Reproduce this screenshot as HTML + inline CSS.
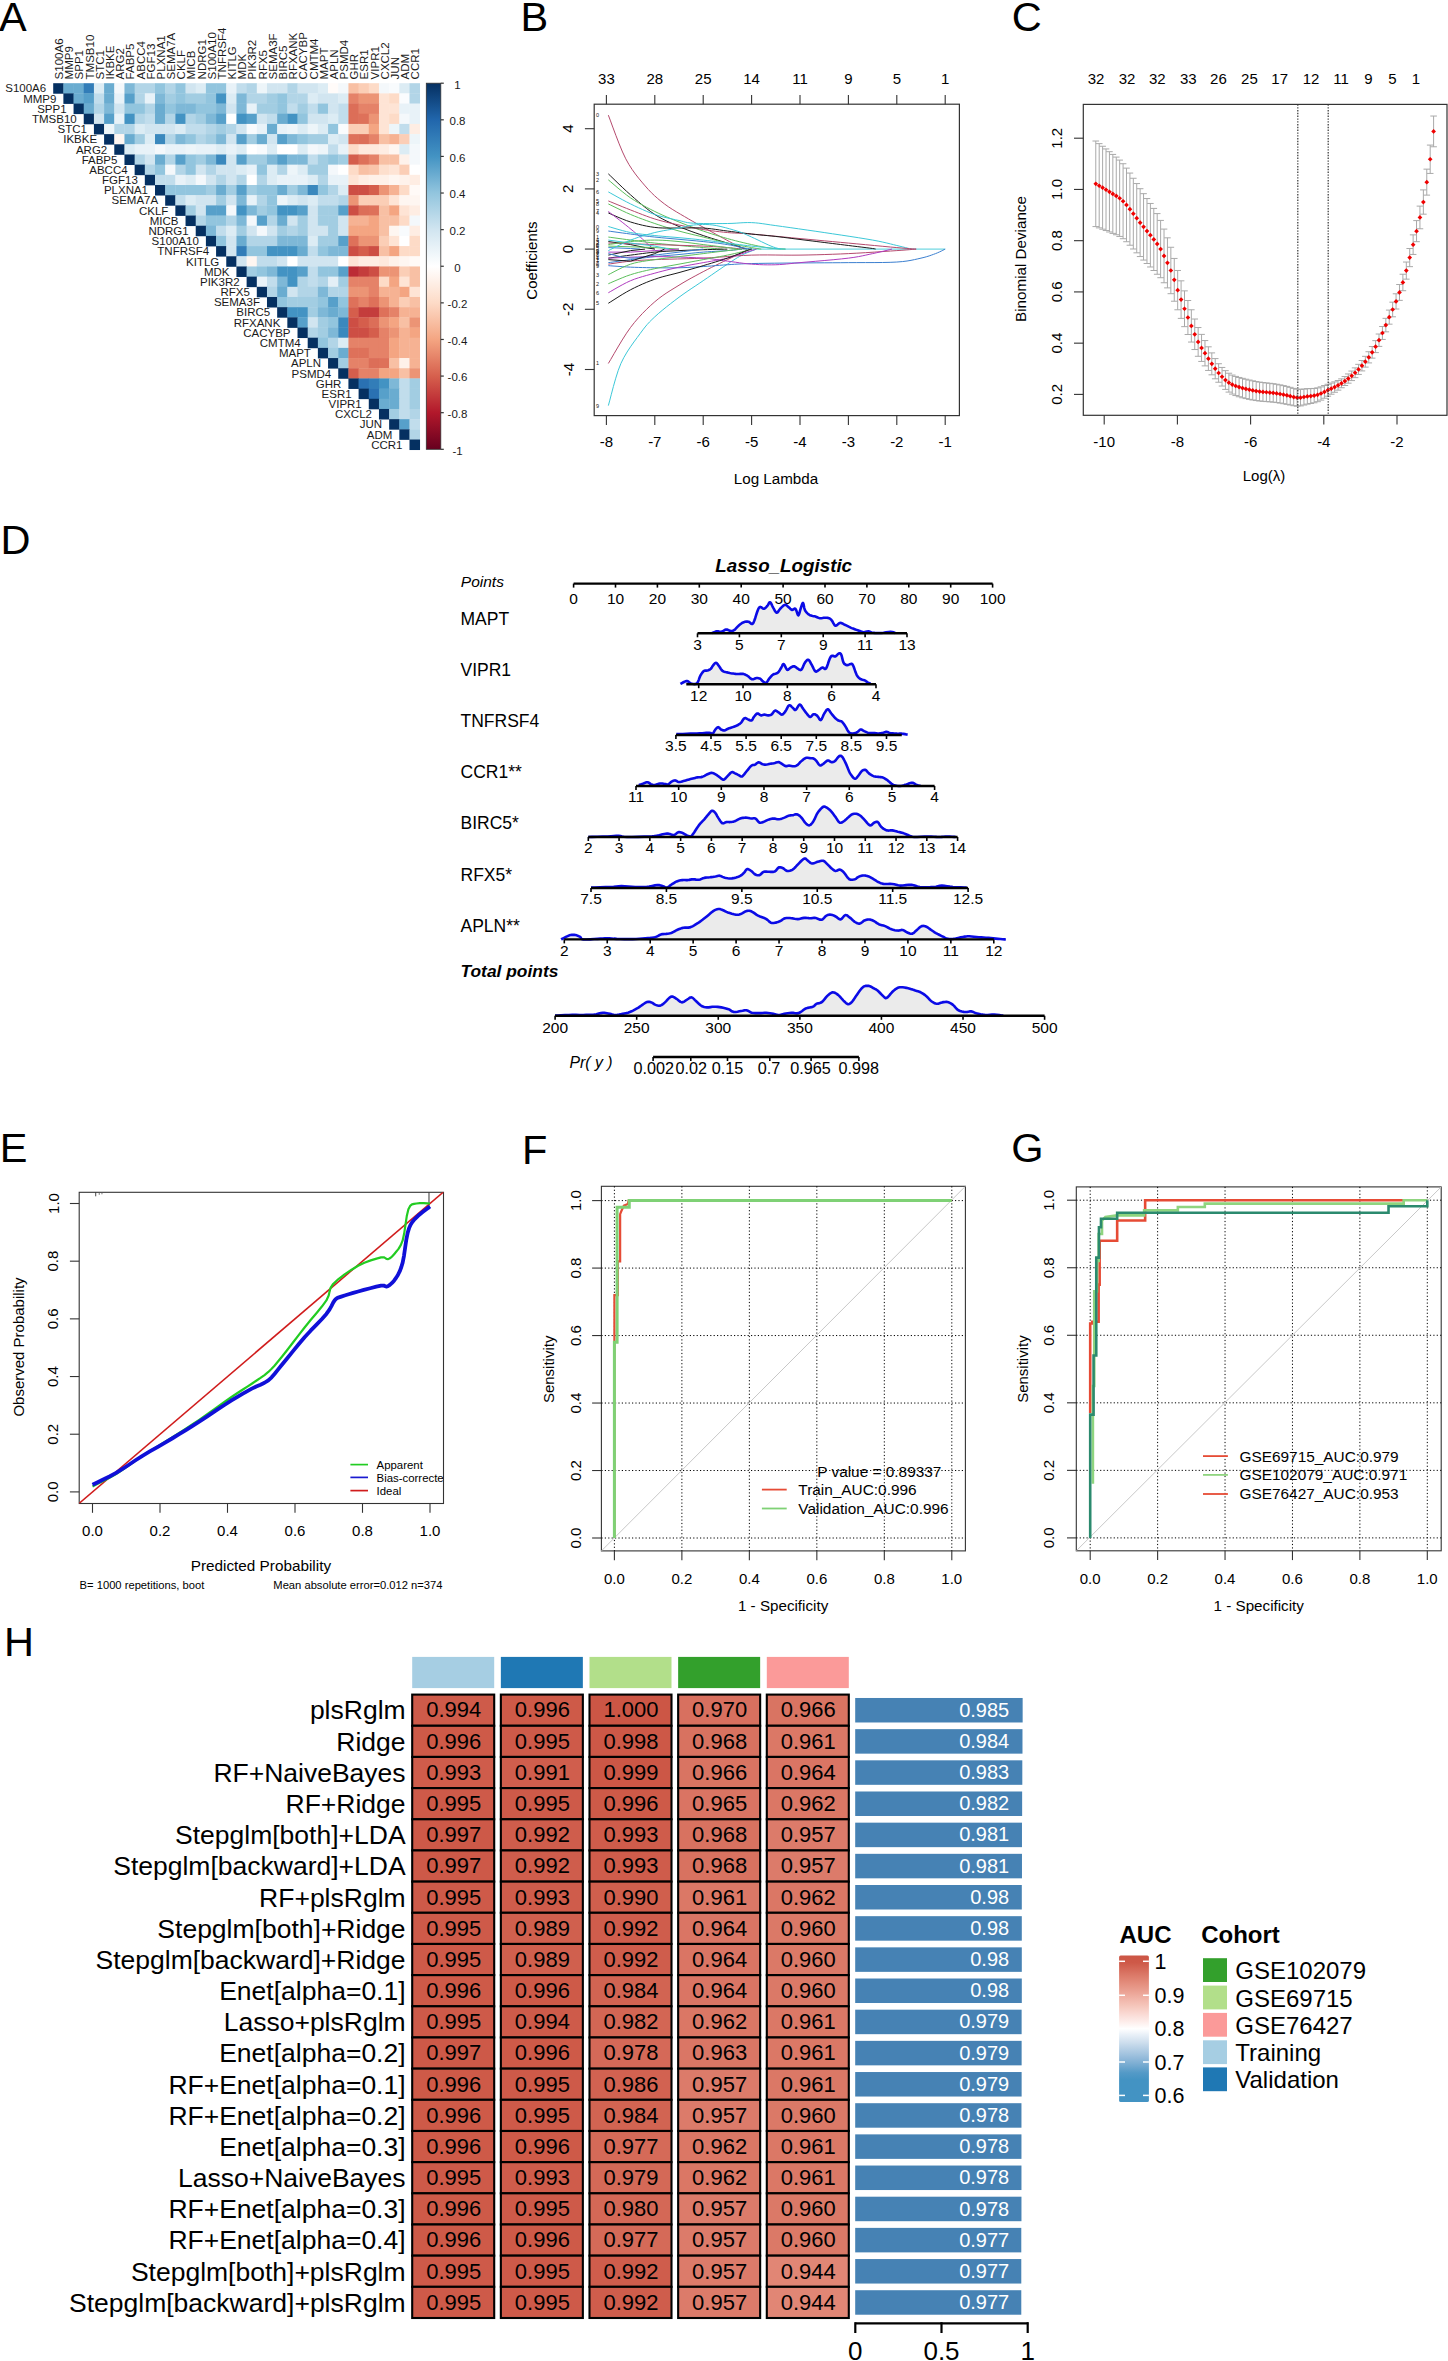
<!DOCTYPE html>
<html><head><meta charset="utf-8"><title>Figure</title>
<style>html,body{margin:0;padding:0;background:#fff;}svg{display:block;}</style></head>
<body><svg width="1448" height="2361" viewBox="0 0 1448 2361" font-family='"Liberation Sans", sans-serif'>
<rect x="0" y="0" width="1448" height="2361" fill="#fff"/>
<text x="-0.90" y="30.90" font-size="41.5">A</text>
<rect x="53.20" y="83.20" width="10.53" height="10.53" fill="#053061"/>
<rect x="63.38" y="83.20" width="10.53" height="10.53" fill="#6aacd0"/>
<rect x="73.56" y="83.20" width="10.53" height="10.53" fill="#6aacd0"/>
<rect x="83.74" y="83.20" width="10.53" height="10.53" fill="#327db8"/>
<rect x="93.92" y="83.20" width="10.53" height="10.53" fill="#dcecf4"/>
<rect x="104.10" y="83.20" width="10.53" height="10.53" fill="#6aacd0"/>
<rect x="114.28" y="83.20" width="10.53" height="10.53" fill="#f4f8fb"/>
<rect x="124.46" y="83.20" width="10.53" height="10.53" fill="#7eb8d7"/>
<rect x="134.64" y="83.20" width="10.53" height="10.53" fill="#b2d5e7"/>
<rect x="144.82" y="83.20" width="10.53" height="10.53" fill="#b2d5e7"/>
<rect x="155.00" y="83.20" width="10.53" height="10.53" fill="#92c5de"/>
<rect x="165.18" y="83.20" width="10.53" height="10.53" fill="#b2d5e7"/>
<rect x="175.36" y="83.20" width="10.53" height="10.53" fill="#92c5de"/>
<rect x="185.54" y="83.20" width="10.53" height="10.53" fill="#d1e5f0"/>
<rect x="195.72" y="83.20" width="10.53" height="10.53" fill="#dcecf4"/>
<rect x="205.90" y="83.20" width="10.53" height="10.53" fill="#92c5de"/>
<rect x="216.08" y="83.20" width="10.53" height="10.53" fill="#92c5de"/>
<rect x="226.26" y="83.20" width="10.53" height="10.53" fill="#e8f2f8"/>
<rect x="236.44" y="83.20" width="10.53" height="10.53" fill="#c1ddec"/>
<rect x="246.62" y="83.20" width="10.53" height="10.53" fill="#b2d5e7"/>
<rect x="256.80" y="83.20" width="10.53" height="10.53" fill="#edf5f9"/>
<rect x="266.98" y="83.20" width="10.53" height="10.53" fill="#d1e5f0"/>
<rect x="277.16" y="83.20" width="10.53" height="10.53" fill="#d1e5f0"/>
<rect x="287.34" y="83.20" width="10.53" height="10.53" fill="#b2d5e7"/>
<rect x="297.52" y="83.20" width="10.53" height="10.53" fill="#d1e5f0"/>
<rect x="307.70" y="83.20" width="10.53" height="10.53" fill="#d1e5f0"/>
<rect x="317.88" y="83.20" width="10.53" height="10.53" fill="#dcecf4"/>
<rect x="328.06" y="83.20" width="10.53" height="10.53" fill="#fffbf9"/>
<rect x="338.24" y="83.20" width="10.53" height="10.53" fill="#f4f8fb"/>
<rect x="348.42" y="83.20" width="10.53" height="10.53" fill="#f8c0a4"/>
<rect x="358.60" y="83.20" width="10.53" height="10.53" fill="#fbceb6"/>
<rect x="368.78" y="83.20" width="10.53" height="10.53" fill="#fddbc7"/>
<rect x="378.96" y="83.20" width="10.53" height="10.53" fill="#f4f8fb"/>
<rect x="389.14" y="83.20" width="10.53" height="10.53" fill="#f8fbfd"/>
<rect x="399.32" y="83.20" width="10.53" height="10.53" fill="#dcecf4"/>
<rect x="409.50" y="83.20" width="10.53" height="10.53" fill="#b2d5e7"/>
<rect x="63.38" y="93.38" width="10.53" height="10.53" fill="#053061"/>
<rect x="73.56" y="93.38" width="10.53" height="10.53" fill="#6aacd0"/>
<rect x="83.74" y="93.38" width="10.53" height="10.53" fill="#57a0ca"/>
<rect x="93.92" y="93.38" width="10.53" height="10.53" fill="#c1ddec"/>
<rect x="104.10" y="93.38" width="10.53" height="10.53" fill="#6aacd0"/>
<rect x="114.28" y="93.38" width="10.53" height="10.53" fill="#e8f2f8"/>
<rect x="124.46" y="93.38" width="10.53" height="10.53" fill="#57a0ca"/>
<rect x="134.64" y="93.38" width="10.53" height="10.53" fill="#b2d5e7"/>
<rect x="144.82" y="93.38" width="10.53" height="10.53" fill="#e8f2f8"/>
<rect x="155.00" y="93.38" width="10.53" height="10.53" fill="#7eb8d7"/>
<rect x="165.18" y="93.38" width="10.53" height="10.53" fill="#a2cde2"/>
<rect x="175.36" y="93.38" width="10.53" height="10.53" fill="#92c5de"/>
<rect x="185.54" y="93.38" width="10.53" height="10.53" fill="#a2cde2"/>
<rect x="195.72" y="93.38" width="10.53" height="10.53" fill="#a2cde2"/>
<rect x="205.90" y="93.38" width="10.53" height="10.53" fill="#92c5de"/>
<rect x="216.08" y="93.38" width="10.53" height="10.53" fill="#4393c3"/>
<rect x="226.26" y="93.38" width="10.53" height="10.53" fill="#dcecf4"/>
<rect x="236.44" y="93.38" width="10.53" height="10.53" fill="#7eb8d7"/>
<rect x="246.62" y="93.38" width="10.53" height="10.53" fill="#b2d5e7"/>
<rect x="256.80" y="93.38" width="10.53" height="10.53" fill="#b2d5e7"/>
<rect x="266.98" y="93.38" width="10.53" height="10.53" fill="#a2cde2"/>
<rect x="277.16" y="93.38" width="10.53" height="10.53" fill="#92c5de"/>
<rect x="287.34" y="93.38" width="10.53" height="10.53" fill="#b2d5e7"/>
<rect x="297.52" y="93.38" width="10.53" height="10.53" fill="#b2d5e7"/>
<rect x="307.70" y="93.38" width="10.53" height="10.53" fill="#dcecf4"/>
<rect x="317.88" y="93.38" width="10.53" height="10.53" fill="#d1e5f0"/>
<rect x="328.06" y="93.38" width="10.53" height="10.53" fill="#d1e5f0"/>
<rect x="338.24" y="93.38" width="10.53" height="10.53" fill="#dcecf4"/>
<rect x="348.42" y="93.38" width="10.53" height="10.53" fill="#e58268"/>
<rect x="358.60" y="93.38" width="10.53" height="10.53" fill="#ec9475"/>
<rect x="368.78" y="93.38" width="10.53" height="10.53" fill="#ec9475"/>
<rect x="378.96" y="93.38" width="10.53" height="10.53" fill="#fee4d5"/>
<rect x="389.14" y="93.38" width="10.53" height="10.53" fill="#fddbc7"/>
<rect x="399.32" y="93.38" width="10.53" height="10.53" fill="#fafcfe"/>
<rect x="409.50" y="93.38" width="10.53" height="10.53" fill="#b2d5e7"/>
<rect x="73.56" y="103.56" width="10.53" height="10.53" fill="#053061"/>
<rect x="83.74" y="103.56" width="10.53" height="10.53" fill="#6aacd0"/>
<rect x="93.92" y="103.56" width="10.53" height="10.53" fill="#b2d5e7"/>
<rect x="104.10" y="103.56" width="10.53" height="10.53" fill="#7eb8d7"/>
<rect x="114.28" y="103.56" width="10.53" height="10.53" fill="#d1e5f0"/>
<rect x="124.46" y="103.56" width="10.53" height="10.53" fill="#92c5de"/>
<rect x="134.64" y="103.56" width="10.53" height="10.53" fill="#92c5de"/>
<rect x="144.82" y="103.56" width="10.53" height="10.53" fill="#b2d5e7"/>
<rect x="155.00" y="103.56" width="10.53" height="10.53" fill="#6aacd0"/>
<rect x="165.18" y="103.56" width="10.53" height="10.53" fill="#92c5de"/>
<rect x="175.36" y="103.56" width="10.53" height="10.53" fill="#7eb8d7"/>
<rect x="185.54" y="103.56" width="10.53" height="10.53" fill="#7eb8d7"/>
<rect x="195.72" y="103.56" width="10.53" height="10.53" fill="#92c5de"/>
<rect x="205.90" y="103.56" width="10.53" height="10.53" fill="#92c5de"/>
<rect x="216.08" y="103.56" width="10.53" height="10.53" fill="#7eb8d7"/>
<rect x="226.26" y="103.56" width="10.53" height="10.53" fill="#d1e5f0"/>
<rect x="236.44" y="103.56" width="10.53" height="10.53" fill="#7eb8d7"/>
<rect x="246.62" y="103.56" width="10.53" height="10.53" fill="#e8f2f8"/>
<rect x="256.80" y="103.56" width="10.53" height="10.53" fill="#a2cde2"/>
<rect x="266.98" y="103.56" width="10.53" height="10.53" fill="#a2cde2"/>
<rect x="277.16" y="103.56" width="10.53" height="10.53" fill="#92c5de"/>
<rect x="287.34" y="103.56" width="10.53" height="10.53" fill="#c1ddec"/>
<rect x="297.52" y="103.56" width="10.53" height="10.53" fill="#a2cde2"/>
<rect x="307.70" y="103.56" width="10.53" height="10.53" fill="#c1ddec"/>
<rect x="317.88" y="103.56" width="10.53" height="10.53" fill="#92c5de"/>
<rect x="328.06" y="103.56" width="10.53" height="10.53" fill="#d1e5f0"/>
<rect x="338.24" y="103.56" width="10.53" height="10.53" fill="#c1ddec"/>
<rect x="348.42" y="103.56" width="10.53" height="10.53" fill="#dc6e58"/>
<rect x="358.60" y="103.56" width="10.53" height="10.53" fill="#e58268"/>
<rect x="368.78" y="103.56" width="10.53" height="10.53" fill="#e58268"/>
<rect x="378.96" y="103.56" width="10.53" height="10.53" fill="#fee4d5"/>
<rect x="389.14" y="103.56" width="10.53" height="10.53" fill="#fee4d5"/>
<rect x="399.32" y="103.56" width="10.53" height="10.53" fill="#e8f2f8"/>
<rect x="409.50" y="103.56" width="10.53" height="10.53" fill="#e8f2f8"/>
<rect x="83.74" y="113.74" width="10.53" height="10.53" fill="#053061"/>
<rect x="93.92" y="113.74" width="10.53" height="10.53" fill="#d1e5f0"/>
<rect x="104.10" y="113.74" width="10.53" height="10.53" fill="#57a0ca"/>
<rect x="114.28" y="113.74" width="10.53" height="10.53" fill="#e8f2f8"/>
<rect x="124.46" y="113.74" width="10.53" height="10.53" fill="#4393c3"/>
<rect x="134.64" y="113.74" width="10.53" height="10.53" fill="#b2d5e7"/>
<rect x="144.82" y="113.74" width="10.53" height="10.53" fill="#c1ddec"/>
<rect x="155.00" y="113.74" width="10.53" height="10.53" fill="#6aacd0"/>
<rect x="165.18" y="113.74" width="10.53" height="10.53" fill="#b2d5e7"/>
<rect x="175.36" y="113.74" width="10.53" height="10.53" fill="#4393c3"/>
<rect x="185.54" y="113.74" width="10.53" height="10.53" fill="#b2d5e7"/>
<rect x="195.72" y="113.74" width="10.53" height="10.53" fill="#a2cde2"/>
<rect x="205.90" y="113.74" width="10.53" height="10.53" fill="#7eb8d7"/>
<rect x="216.08" y="113.74" width="10.53" height="10.53" fill="#57a0ca"/>
<rect x="226.26" y="113.74" width="10.53" height="10.53" fill="#ffffff"/>
<rect x="236.44" y="113.74" width="10.53" height="10.53" fill="#4393c3"/>
<rect x="246.62" y="113.74" width="10.53" height="10.53" fill="#57a0ca"/>
<rect x="256.80" y="113.74" width="10.53" height="10.53" fill="#d1e5f0"/>
<rect x="266.98" y="113.74" width="10.53" height="10.53" fill="#c1ddec"/>
<rect x="277.16" y="113.74" width="10.53" height="10.53" fill="#6aacd0"/>
<rect x="287.34" y="113.74" width="10.53" height="10.53" fill="#4393c3"/>
<rect x="297.52" y="113.74" width="10.53" height="10.53" fill="#92c5de"/>
<rect x="307.70" y="113.74" width="10.53" height="10.53" fill="#d1e5f0"/>
<rect x="317.88" y="113.74" width="10.53" height="10.53" fill="#d1e5f0"/>
<rect x="328.06" y="113.74" width="10.53" height="10.53" fill="#dcecf4"/>
<rect x="338.24" y="113.74" width="10.53" height="10.53" fill="#c1ddec"/>
<rect x="348.42" y="113.74" width="10.53" height="10.53" fill="#dc6e58"/>
<rect x="358.60" y="113.74" width="10.53" height="10.53" fill="#de715a"/>
<rect x="368.78" y="113.74" width="10.53" height="10.53" fill="#ec9475"/>
<rect x="378.96" y="113.74" width="10.53" height="10.53" fill="#fee4d5"/>
<rect x="389.14" y="113.74" width="10.53" height="10.53" fill="#fddbc7"/>
<rect x="399.32" y="113.74" width="10.53" height="10.53" fill="#f4f8fb"/>
<rect x="409.50" y="113.74" width="10.53" height="10.53" fill="#e8f2f8"/>
<rect x="93.92" y="123.92" width="10.53" height="10.53" fill="#053061"/>
<rect x="104.10" y="123.92" width="10.53" height="10.53" fill="#edf5f9"/>
<rect x="114.28" y="123.92" width="10.53" height="10.53" fill="#b2d5e7"/>
<rect x="124.46" y="123.92" width="10.53" height="10.53" fill="#b2d5e7"/>
<rect x="134.64" y="123.92" width="10.53" height="10.53" fill="#dcecf4"/>
<rect x="144.82" y="123.92" width="10.53" height="10.53" fill="#d1e5f0"/>
<rect x="155.00" y="123.92" width="10.53" height="10.53" fill="#d1e5f0"/>
<rect x="165.18" y="123.92" width="10.53" height="10.53" fill="#d1e5f0"/>
<rect x="175.36" y="123.92" width="10.53" height="10.53" fill="#dcecf4"/>
<rect x="185.54" y="123.92" width="10.53" height="10.53" fill="#c1ddec"/>
<rect x="195.72" y="123.92" width="10.53" height="10.53" fill="#c1ddec"/>
<rect x="205.90" y="123.92" width="10.53" height="10.53" fill="#b2d5e7"/>
<rect x="216.08" y="123.92" width="10.53" height="10.53" fill="#a2cde2"/>
<rect x="226.26" y="123.92" width="10.53" height="10.53" fill="#b2d5e7"/>
<rect x="236.44" y="123.92" width="10.53" height="10.53" fill="#d1e5f0"/>
<rect x="246.62" y="123.92" width="10.53" height="10.53" fill="#f8fbfd"/>
<rect x="256.80" y="123.92" width="10.53" height="10.53" fill="#e8f2f8"/>
<rect x="266.98" y="123.92" width="10.53" height="10.53" fill="#6aacd0"/>
<rect x="277.16" y="123.92" width="10.53" height="10.53" fill="#e8f2f8"/>
<rect x="287.34" y="123.92" width="10.53" height="10.53" fill="#edf5f9"/>
<rect x="297.52" y="123.92" width="10.53" height="10.53" fill="#dcecf4"/>
<rect x="307.70" y="123.92" width="10.53" height="10.53" fill="#edf5f9"/>
<rect x="317.88" y="123.92" width="10.53" height="10.53" fill="#dcecf4"/>
<rect x="328.06" y="123.92" width="10.53" height="10.53" fill="#92c5de"/>
<rect x="338.24" y="123.92" width="10.53" height="10.53" fill="#fafcfe"/>
<rect x="348.42" y="123.92" width="10.53" height="10.53" fill="#fbceb6"/>
<rect x="358.60" y="123.92" width="10.53" height="10.53" fill="#fbceb6"/>
<rect x="368.78" y="123.92" width="10.53" height="10.53" fill="#f4a582"/>
<rect x="378.96" y="123.92" width="10.53" height="10.53" fill="#fee4d5"/>
<rect x="389.14" y="123.92" width="10.53" height="10.53" fill="#edf5f9"/>
<rect x="399.32" y="123.92" width="10.53" height="10.53" fill="#c1ddec"/>
<rect x="409.50" y="123.92" width="10.53" height="10.53" fill="#feede3"/>
<rect x="104.10" y="134.10" width="10.53" height="10.53" fill="#053061"/>
<rect x="114.28" y="134.10" width="10.53" height="10.53" fill="#fef6f1"/>
<rect x="124.46" y="134.10" width="10.53" height="10.53" fill="#6aacd0"/>
<rect x="134.64" y="134.10" width="10.53" height="10.53" fill="#a2cde2"/>
<rect x="144.82" y="134.10" width="10.53" height="10.53" fill="#dcecf4"/>
<rect x="155.00" y="134.10" width="10.53" height="10.53" fill="#3a88bd"/>
<rect x="165.18" y="134.10" width="10.53" height="10.53" fill="#b2d5e7"/>
<rect x="175.36" y="134.10" width="10.53" height="10.53" fill="#7eb8d7"/>
<rect x="185.54" y="134.10" width="10.53" height="10.53" fill="#92c5de"/>
<rect x="195.72" y="134.10" width="10.53" height="10.53" fill="#b2d5e7"/>
<rect x="205.90" y="134.10" width="10.53" height="10.53" fill="#a2cde2"/>
<rect x="216.08" y="134.10" width="10.53" height="10.53" fill="#7eb8d7"/>
<rect x="226.26" y="134.10" width="10.53" height="10.53" fill="#d1e5f0"/>
<rect x="236.44" y="134.10" width="10.53" height="10.53" fill="#57a0ca"/>
<rect x="246.62" y="134.10" width="10.53" height="10.53" fill="#a2cde2"/>
<rect x="256.80" y="134.10" width="10.53" height="10.53" fill="#6aacd0"/>
<rect x="266.98" y="134.10" width="10.53" height="10.53" fill="#d1e5f0"/>
<rect x="277.16" y="134.10" width="10.53" height="10.53" fill="#57a0ca"/>
<rect x="287.34" y="134.10" width="10.53" height="10.53" fill="#7eb8d7"/>
<rect x="297.52" y="134.10" width="10.53" height="10.53" fill="#92c5de"/>
<rect x="307.70" y="134.10" width="10.53" height="10.53" fill="#a2cde2"/>
<rect x="317.88" y="134.10" width="10.53" height="10.53" fill="#a2cde2"/>
<rect x="328.06" y="134.10" width="10.53" height="10.53" fill="#dcecf4"/>
<rect x="338.24" y="134.10" width="10.53" height="10.53" fill="#d1e5f0"/>
<rect x="348.42" y="134.10" width="10.53" height="10.53" fill="#de715a"/>
<rect x="358.60" y="134.10" width="10.53" height="10.53" fill="#dc6e58"/>
<rect x="368.78" y="134.10" width="10.53" height="10.53" fill="#e58268"/>
<rect x="378.96" y="134.10" width="10.53" height="10.53" fill="#f8c0a4"/>
<rect x="389.14" y="134.10" width="10.53" height="10.53" fill="#f6b293"/>
<rect x="399.32" y="134.10" width="10.53" height="10.53" fill="#fbceb6"/>
<rect x="409.50" y="134.10" width="10.53" height="10.53" fill="#edf5f9"/>
<rect x="114.28" y="144.28" width="10.53" height="10.53" fill="#053061"/>
<rect x="124.46" y="144.28" width="10.53" height="10.53" fill="#dcecf4"/>
<rect x="134.64" y="144.28" width="10.53" height="10.53" fill="#e8f2f8"/>
<rect x="144.82" y="144.28" width="10.53" height="10.53" fill="#e8f2f8"/>
<rect x="155.00" y="144.28" width="10.53" height="10.53" fill="#f4f8fb"/>
<rect x="165.18" y="144.28" width="10.53" height="10.53" fill="#e8f2f8"/>
<rect x="175.36" y="144.28" width="10.53" height="10.53" fill="#e8f2f8"/>
<rect x="185.54" y="144.28" width="10.53" height="10.53" fill="#edf5f9"/>
<rect x="195.72" y="144.28" width="10.53" height="10.53" fill="#e8f2f8"/>
<rect x="205.90" y="144.28" width="10.53" height="10.53" fill="#e8f2f8"/>
<rect x="216.08" y="144.28" width="10.53" height="10.53" fill="#dcecf4"/>
<rect x="226.26" y="144.28" width="10.53" height="10.53" fill="#e8f2f8"/>
<rect x="236.44" y="144.28" width="10.53" height="10.53" fill="#dcecf4"/>
<rect x="246.62" y="144.28" width="10.53" height="10.53" fill="#ffffff"/>
<rect x="256.80" y="144.28" width="10.53" height="10.53" fill="#f8fbfd"/>
<rect x="266.98" y="144.28" width="10.53" height="10.53" fill="#dcecf4"/>
<rect x="277.16" y="144.28" width="10.53" height="10.53" fill="#ffffff"/>
<rect x="287.34" y="144.28" width="10.53" height="10.53" fill="#ffffff"/>
<rect x="297.52" y="144.28" width="10.53" height="10.53" fill="#dcecf4"/>
<rect x="307.70" y="144.28" width="10.53" height="10.53" fill="#f4f8fb"/>
<rect x="317.88" y="144.28" width="10.53" height="10.53" fill="#edf5f9"/>
<rect x="328.06" y="144.28" width="10.53" height="10.53" fill="#c1ddec"/>
<rect x="338.24" y="144.28" width="10.53" height="10.53" fill="#e8f2f8"/>
<rect x="348.42" y="144.28" width="10.53" height="10.53" fill="#fddbc7"/>
<rect x="358.60" y="144.28" width="10.53" height="10.53" fill="#fee9dd"/>
<rect x="368.78" y="144.28" width="10.53" height="10.53" fill="#fee9dd"/>
<rect x="378.96" y="144.28" width="10.53" height="10.53" fill="#feede3"/>
<rect x="389.14" y="144.28" width="10.53" height="10.53" fill="#fef6f1"/>
<rect x="399.32" y="144.28" width="10.53" height="10.53" fill="#dcecf4"/>
<rect x="409.50" y="144.28" width="10.53" height="10.53" fill="#f4f8fb"/>
<rect x="124.46" y="154.46" width="10.53" height="10.53" fill="#053061"/>
<rect x="134.64" y="154.46" width="10.53" height="10.53" fill="#b2d5e7"/>
<rect x="144.82" y="154.46" width="10.53" height="10.53" fill="#d1e5f0"/>
<rect x="155.00" y="154.46" width="10.53" height="10.53" fill="#6aacd0"/>
<rect x="165.18" y="154.46" width="10.53" height="10.53" fill="#b2d5e7"/>
<rect x="175.36" y="154.46" width="10.53" height="10.53" fill="#57a0ca"/>
<rect x="185.54" y="154.46" width="10.53" height="10.53" fill="#92c5de"/>
<rect x="195.72" y="154.46" width="10.53" height="10.53" fill="#a2cde2"/>
<rect x="205.90" y="154.46" width="10.53" height="10.53" fill="#7eb8d7"/>
<rect x="216.08" y="154.46" width="10.53" height="10.53" fill="#3a88bd"/>
<rect x="226.26" y="154.46" width="10.53" height="10.53" fill="#d1e5f0"/>
<rect x="236.44" y="154.46" width="10.53" height="10.53" fill="#57a0ca"/>
<rect x="246.62" y="154.46" width="10.53" height="10.53" fill="#a2cde2"/>
<rect x="256.80" y="154.46" width="10.53" height="10.53" fill="#a2cde2"/>
<rect x="266.98" y="154.46" width="10.53" height="10.53" fill="#7eb8d7"/>
<rect x="277.16" y="154.46" width="10.53" height="10.53" fill="#57a0ca"/>
<rect x="287.34" y="154.46" width="10.53" height="10.53" fill="#7eb8d7"/>
<rect x="297.52" y="154.46" width="10.53" height="10.53" fill="#7eb8d7"/>
<rect x="307.70" y="154.46" width="10.53" height="10.53" fill="#c1ddec"/>
<rect x="317.88" y="154.46" width="10.53" height="10.53" fill="#a2cde2"/>
<rect x="328.06" y="154.46" width="10.53" height="10.53" fill="#92c5de"/>
<rect x="338.24" y="154.46" width="10.53" height="10.53" fill="#a2cde2"/>
<rect x="348.42" y="154.46" width="10.53" height="10.53" fill="#d55e4c"/>
<rect x="358.60" y="154.46" width="10.53" height="10.53" fill="#de715a"/>
<rect x="368.78" y="154.46" width="10.53" height="10.53" fill="#e58268"/>
<rect x="378.96" y="154.46" width="10.53" height="10.53" fill="#f8c0a4"/>
<rect x="389.14" y="154.46" width="10.53" height="10.53" fill="#f8c0a4"/>
<rect x="399.32" y="154.46" width="10.53" height="10.53" fill="#fef2eb"/>
<rect x="409.50" y="154.46" width="10.53" height="10.53" fill="#f4f8fb"/>
<rect x="134.64" y="164.64" width="10.53" height="10.53" fill="#053061"/>
<rect x="144.82" y="164.64" width="10.53" height="10.53" fill="#b2d5e7"/>
<rect x="155.00" y="164.64" width="10.53" height="10.53" fill="#92c5de"/>
<rect x="165.18" y="164.64" width="10.53" height="10.53" fill="#f4f8fb"/>
<rect x="175.36" y="164.64" width="10.53" height="10.53" fill="#b2d5e7"/>
<rect x="185.54" y="164.64" width="10.53" height="10.53" fill="#92c5de"/>
<rect x="195.72" y="164.64" width="10.53" height="10.53" fill="#d1e5f0"/>
<rect x="205.90" y="164.64" width="10.53" height="10.53" fill="#b2d5e7"/>
<rect x="216.08" y="164.64" width="10.53" height="10.53" fill="#d1e5f0"/>
<rect x="226.26" y="164.64" width="10.53" height="10.53" fill="#d1e5f0"/>
<rect x="236.44" y="164.64" width="10.53" height="10.53" fill="#dcecf4"/>
<rect x="246.62" y="164.64" width="10.53" height="10.53" fill="#e8f2f8"/>
<rect x="256.80" y="164.64" width="10.53" height="10.53" fill="#92c5de"/>
<rect x="266.98" y="164.64" width="10.53" height="10.53" fill="#dcecf4"/>
<rect x="277.16" y="164.64" width="10.53" height="10.53" fill="#b2d5e7"/>
<rect x="287.34" y="164.64" width="10.53" height="10.53" fill="#edf5f9"/>
<rect x="297.52" y="164.64" width="10.53" height="10.53" fill="#dcecf4"/>
<rect x="307.70" y="164.64" width="10.53" height="10.53" fill="#a2cde2"/>
<rect x="317.88" y="164.64" width="10.53" height="10.53" fill="#a2cde2"/>
<rect x="328.06" y="164.64" width="10.53" height="10.53" fill="#f4f8fb"/>
<rect x="338.24" y="164.64" width="10.53" height="10.53" fill="#ffffff"/>
<rect x="348.42" y="164.64" width="10.53" height="10.53" fill="#fddbc7"/>
<rect x="358.60" y="164.64" width="10.53" height="10.53" fill="#f8c0a4"/>
<rect x="368.78" y="164.64" width="10.53" height="10.53" fill="#f9c5ab"/>
<rect x="378.96" y="164.64" width="10.53" height="10.53" fill="#fddfcd"/>
<rect x="389.14" y="164.64" width="10.53" height="10.53" fill="#fee4d5"/>
<rect x="399.32" y="164.64" width="10.53" height="10.53" fill="#fbceb6"/>
<rect x="409.50" y="164.64" width="10.53" height="10.53" fill="#ffffff"/>
<rect x="144.82" y="174.82" width="10.53" height="10.53" fill="#053061"/>
<rect x="155.00" y="174.82" width="10.53" height="10.53" fill="#c1ddec"/>
<rect x="165.18" y="174.82" width="10.53" height="10.53" fill="#c1ddec"/>
<rect x="175.36" y="174.82" width="10.53" height="10.53" fill="#e8f2f8"/>
<rect x="185.54" y="174.82" width="10.53" height="10.53" fill="#dcecf4"/>
<rect x="195.72" y="174.82" width="10.53" height="10.53" fill="#f4f8fb"/>
<rect x="205.90" y="174.82" width="10.53" height="10.53" fill="#d1e5f0"/>
<rect x="216.08" y="174.82" width="10.53" height="10.53" fill="#b2d5e7"/>
<rect x="226.26" y="174.82" width="10.53" height="10.53" fill="#d1e5f0"/>
<rect x="236.44" y="174.82" width="10.53" height="10.53" fill="#b2d5e7"/>
<rect x="246.62" y="174.82" width="10.53" height="10.53" fill="#ffffff"/>
<rect x="256.80" y="174.82" width="10.53" height="10.53" fill="#b2d5e7"/>
<rect x="266.98" y="174.82" width="10.53" height="10.53" fill="#dcecf4"/>
<rect x="277.16" y="174.82" width="10.53" height="10.53" fill="#e8f2f8"/>
<rect x="287.34" y="174.82" width="10.53" height="10.53" fill="#e8f2f8"/>
<rect x="297.52" y="174.82" width="10.53" height="10.53" fill="#e8f2f8"/>
<rect x="307.70" y="174.82" width="10.53" height="10.53" fill="#dcecf4"/>
<rect x="317.88" y="174.82" width="10.53" height="10.53" fill="#b2d5e7"/>
<rect x="328.06" y="174.82" width="10.53" height="10.53" fill="#e8f2f8"/>
<rect x="338.24" y="174.82" width="10.53" height="10.53" fill="#e8f2f8"/>
<rect x="348.42" y="174.82" width="10.53" height="10.53" fill="#fee4d5"/>
<rect x="358.60" y="174.82" width="10.53" height="10.53" fill="#feede3"/>
<rect x="368.78" y="174.82" width="10.53" height="10.53" fill="#fef1e9"/>
<rect x="378.96" y="174.82" width="10.53" height="10.53" fill="#fef1e9"/>
<rect x="389.14" y="174.82" width="10.53" height="10.53" fill="#fef6f1"/>
<rect x="399.32" y="174.82" width="10.53" height="10.53" fill="#fef2eb"/>
<rect x="409.50" y="174.82" width="10.53" height="10.53" fill="#feede3"/>
<rect x="155.00" y="185.00" width="10.53" height="10.53" fill="#053061"/>
<rect x="165.18" y="185.00" width="10.53" height="10.53" fill="#92c5de"/>
<rect x="175.36" y="185.00" width="10.53" height="10.53" fill="#92c5de"/>
<rect x="185.54" y="185.00" width="10.53" height="10.53" fill="#92c5de"/>
<rect x="195.72" y="185.00" width="10.53" height="10.53" fill="#92c5de"/>
<rect x="205.90" y="185.00" width="10.53" height="10.53" fill="#a2cde2"/>
<rect x="216.08" y="185.00" width="10.53" height="10.53" fill="#6aacd0"/>
<rect x="226.26" y="185.00" width="10.53" height="10.53" fill="#a2cde2"/>
<rect x="236.44" y="185.00" width="10.53" height="10.53" fill="#57a0ca"/>
<rect x="246.62" y="185.00" width="10.53" height="10.53" fill="#a2cde2"/>
<rect x="256.80" y="185.00" width="10.53" height="10.53" fill="#92c5de"/>
<rect x="266.98" y="185.00" width="10.53" height="10.53" fill="#92c5de"/>
<rect x="277.16" y="185.00" width="10.53" height="10.53" fill="#6aacd0"/>
<rect x="287.34" y="185.00" width="10.53" height="10.53" fill="#a2cde2"/>
<rect x="297.52" y="185.00" width="10.53" height="10.53" fill="#7eb8d7"/>
<rect x="307.70" y="185.00" width="10.53" height="10.53" fill="#3a88bd"/>
<rect x="317.88" y="185.00" width="10.53" height="10.53" fill="#92c5de"/>
<rect x="328.06" y="185.00" width="10.53" height="10.53" fill="#b2d5e7"/>
<rect x="338.24" y="185.00" width="10.53" height="10.53" fill="#dcecf4"/>
<rect x="348.42" y="185.00" width="10.53" height="10.53" fill="#cd4e44"/>
<rect x="358.60" y="185.00" width="10.53" height="10.53" fill="#cd4e44"/>
<rect x="368.78" y="185.00" width="10.53" height="10.53" fill="#d55e4c"/>
<rect x="378.96" y="185.00" width="10.53" height="10.53" fill="#ec9475"/>
<rect x="389.14" y="185.00" width="10.53" height="10.53" fill="#f6b293"/>
<rect x="399.32" y="185.00" width="10.53" height="10.53" fill="#fddbc7"/>
<rect x="409.50" y="185.00" width="10.53" height="10.53" fill="#fffaf7"/>
<rect x="165.18" y="195.18" width="10.53" height="10.53" fill="#053061"/>
<rect x="175.36" y="195.18" width="10.53" height="10.53" fill="#c1ddec"/>
<rect x="185.54" y="195.18" width="10.53" height="10.53" fill="#dcecf4"/>
<rect x="195.72" y="195.18" width="10.53" height="10.53" fill="#d1e5f0"/>
<rect x="205.90" y="195.18" width="10.53" height="10.53" fill="#d1e5f0"/>
<rect x="216.08" y="195.18" width="10.53" height="10.53" fill="#a2cde2"/>
<rect x="226.26" y="195.18" width="10.53" height="10.53" fill="#d1e5f0"/>
<rect x="236.44" y="195.18" width="10.53" height="10.53" fill="#7eb8d7"/>
<rect x="246.62" y="195.18" width="10.53" height="10.53" fill="#e8f2f8"/>
<rect x="256.80" y="195.18" width="10.53" height="10.53" fill="#b2d5e7"/>
<rect x="266.98" y="195.18" width="10.53" height="10.53" fill="#92c5de"/>
<rect x="277.16" y="195.18" width="10.53" height="10.53" fill="#edf5f9"/>
<rect x="287.34" y="195.18" width="10.53" height="10.53" fill="#dcecf4"/>
<rect x="297.52" y="195.18" width="10.53" height="10.53" fill="#d1e5f0"/>
<rect x="307.70" y="195.18" width="10.53" height="10.53" fill="#dcecf4"/>
<rect x="317.88" y="195.18" width="10.53" height="10.53" fill="#c1ddec"/>
<rect x="328.06" y="195.18" width="10.53" height="10.53" fill="#c1ddec"/>
<rect x="338.24" y="195.18" width="10.53" height="10.53" fill="#b2d5e7"/>
<rect x="348.42" y="195.18" width="10.53" height="10.53" fill="#ec9475"/>
<rect x="358.60" y="195.18" width="10.53" height="10.53" fill="#fbceb6"/>
<rect x="368.78" y="195.18" width="10.53" height="10.53" fill="#fbceb6"/>
<rect x="378.96" y="195.18" width="10.53" height="10.53" fill="#fbceb6"/>
<rect x="389.14" y="195.18" width="10.53" height="10.53" fill="#fee4d5"/>
<rect x="399.32" y="195.18" width="10.53" height="10.53" fill="#fef6f1"/>
<rect x="409.50" y="195.18" width="10.53" height="10.53" fill="#fef6f1"/>
<rect x="175.36" y="205.36" width="10.53" height="10.53" fill="#053061"/>
<rect x="185.54" y="205.36" width="10.53" height="10.53" fill="#a2cde2"/>
<rect x="195.72" y="205.36" width="10.53" height="10.53" fill="#d1e5f0"/>
<rect x="205.90" y="205.36" width="10.53" height="10.53" fill="#57a0ca"/>
<rect x="216.08" y="205.36" width="10.53" height="10.53" fill="#57a0ca"/>
<rect x="226.26" y="205.36" width="10.53" height="10.53" fill="#f4f8fb"/>
<rect x="236.44" y="205.36" width="10.53" height="10.53" fill="#4393c3"/>
<rect x="246.62" y="205.36" width="10.53" height="10.53" fill="#7eb8d7"/>
<rect x="256.80" y="205.36" width="10.53" height="10.53" fill="#a2cde2"/>
<rect x="266.98" y="205.36" width="10.53" height="10.53" fill="#92c5de"/>
<rect x="277.16" y="205.36" width="10.53" height="10.53" fill="#4393c3"/>
<rect x="287.34" y="205.36" width="10.53" height="10.53" fill="#4393c3"/>
<rect x="297.52" y="205.36" width="10.53" height="10.53" fill="#57a0ca"/>
<rect x="307.70" y="205.36" width="10.53" height="10.53" fill="#d1e5f0"/>
<rect x="317.88" y="205.36" width="10.53" height="10.53" fill="#a2cde2"/>
<rect x="328.06" y="205.36" width="10.53" height="10.53" fill="#a2cde2"/>
<rect x="338.24" y="205.36" width="10.53" height="10.53" fill="#57a0ca"/>
<rect x="348.42" y="205.36" width="10.53" height="10.53" fill="#cd4e44"/>
<rect x="358.60" y="205.36" width="10.53" height="10.53" fill="#dc6e58"/>
<rect x="368.78" y="205.36" width="10.53" height="10.53" fill="#de715a"/>
<rect x="378.96" y="205.36" width="10.53" height="10.53" fill="#f8c0a4"/>
<rect x="389.14" y="205.36" width="10.53" height="10.53" fill="#f4a582"/>
<rect x="399.32" y="205.36" width="10.53" height="10.53" fill="#fee4d5"/>
<rect x="409.50" y="205.36" width="10.53" height="10.53" fill="#feede3"/>
<rect x="185.54" y="215.54" width="10.53" height="10.53" fill="#053061"/>
<rect x="195.72" y="215.54" width="10.53" height="10.53" fill="#b2d5e7"/>
<rect x="205.90" y="215.54" width="10.53" height="10.53" fill="#92c5de"/>
<rect x="216.08" y="215.54" width="10.53" height="10.53" fill="#92c5de"/>
<rect x="226.26" y="215.54" width="10.53" height="10.53" fill="#b2d5e7"/>
<rect x="236.44" y="215.54" width="10.53" height="10.53" fill="#7eb8d7"/>
<rect x="246.62" y="215.54" width="10.53" height="10.53" fill="#f4f8fb"/>
<rect x="256.80" y="215.54" width="10.53" height="10.53" fill="#57a0ca"/>
<rect x="266.98" y="215.54" width="10.53" height="10.53" fill="#b2d5e7"/>
<rect x="277.16" y="215.54" width="10.53" height="10.53" fill="#6aacd0"/>
<rect x="287.34" y="215.54" width="10.53" height="10.53" fill="#d1e5f0"/>
<rect x="297.52" y="215.54" width="10.53" height="10.53" fill="#a2cde2"/>
<rect x="307.70" y="215.54" width="10.53" height="10.53" fill="#d1e5f0"/>
<rect x="317.88" y="215.54" width="10.53" height="10.53" fill="#a2cde2"/>
<rect x="328.06" y="215.54" width="10.53" height="10.53" fill="#a2cde2"/>
<rect x="338.24" y="215.54" width="10.53" height="10.53" fill="#d1e5f0"/>
<rect x="348.42" y="215.54" width="10.53" height="10.53" fill="#f6b293"/>
<rect x="358.60" y="215.54" width="10.53" height="10.53" fill="#f6b293"/>
<rect x="368.78" y="215.54" width="10.53" height="10.53" fill="#f4a582"/>
<rect x="378.96" y="215.54" width="10.53" height="10.53" fill="#f8c0a4"/>
<rect x="389.14" y="215.54" width="10.53" height="10.53" fill="#f8c0a4"/>
<rect x="399.32" y="215.54" width="10.53" height="10.53" fill="#fddbc7"/>
<rect x="409.50" y="215.54" width="10.53" height="10.53" fill="#f4f8fb"/>
<rect x="195.72" y="225.72" width="10.53" height="10.53" fill="#053061"/>
<rect x="205.90" y="225.72" width="10.53" height="10.53" fill="#7eb8d7"/>
<rect x="216.08" y="225.72" width="10.53" height="10.53" fill="#c1ddec"/>
<rect x="226.26" y="225.72" width="10.53" height="10.53" fill="#dcecf4"/>
<rect x="236.44" y="225.72" width="10.53" height="10.53" fill="#a2cde2"/>
<rect x="246.62" y="225.72" width="10.53" height="10.53" fill="#d1e5f0"/>
<rect x="256.80" y="225.72" width="10.53" height="10.53" fill="#f4f8fb"/>
<rect x="266.98" y="225.72" width="10.53" height="10.53" fill="#d1e5f0"/>
<rect x="277.16" y="225.72" width="10.53" height="10.53" fill="#a2cde2"/>
<rect x="287.34" y="225.72" width="10.53" height="10.53" fill="#b2d5e7"/>
<rect x="297.52" y="225.72" width="10.53" height="10.53" fill="#a2cde2"/>
<rect x="307.70" y="225.72" width="10.53" height="10.53" fill="#d1e5f0"/>
<rect x="317.88" y="225.72" width="10.53" height="10.53" fill="#d1e5f0"/>
<rect x="328.06" y="225.72" width="10.53" height="10.53" fill="#a2cde2"/>
<rect x="338.24" y="225.72" width="10.53" height="10.53" fill="#d1e5f0"/>
<rect x="348.42" y="225.72" width="10.53" height="10.53" fill="#f4a582"/>
<rect x="358.60" y="225.72" width="10.53" height="10.53" fill="#f4a582"/>
<rect x="368.78" y="225.72" width="10.53" height="10.53" fill="#f4a582"/>
<rect x="378.96" y="225.72" width="10.53" height="10.53" fill="#f8c0a4"/>
<rect x="389.14" y="225.72" width="10.53" height="10.53" fill="#fef6f1"/>
<rect x="399.32" y="225.72" width="10.53" height="10.53" fill="#f8fbfd"/>
<rect x="409.50" y="225.72" width="10.53" height="10.53" fill="#feede3"/>
<rect x="205.90" y="235.90" width="10.53" height="10.53" fill="#053061"/>
<rect x="216.08" y="235.90" width="10.53" height="10.53" fill="#92c5de"/>
<rect x="226.26" y="235.90" width="10.53" height="10.53" fill="#d1e5f0"/>
<rect x="236.44" y="235.90" width="10.53" height="10.53" fill="#6aacd0"/>
<rect x="246.62" y="235.90" width="10.53" height="10.53" fill="#b2d5e7"/>
<rect x="256.80" y="235.90" width="10.53" height="10.53" fill="#b2d5e7"/>
<rect x="266.98" y="235.90" width="10.53" height="10.53" fill="#b2d5e7"/>
<rect x="277.16" y="235.90" width="10.53" height="10.53" fill="#7eb8d7"/>
<rect x="287.34" y="235.90" width="10.53" height="10.53" fill="#7eb8d7"/>
<rect x="297.52" y="235.90" width="10.53" height="10.53" fill="#7eb8d7"/>
<rect x="307.70" y="235.90" width="10.53" height="10.53" fill="#dcecf4"/>
<rect x="317.88" y="235.90" width="10.53" height="10.53" fill="#a2cde2"/>
<rect x="328.06" y="235.90" width="10.53" height="10.53" fill="#a2cde2"/>
<rect x="338.24" y="235.90" width="10.53" height="10.53" fill="#57a0ca"/>
<rect x="348.42" y="235.90" width="10.53" height="10.53" fill="#de715a"/>
<rect x="358.60" y="235.90" width="10.53" height="10.53" fill="#ec9475"/>
<rect x="368.78" y="235.90" width="10.53" height="10.53" fill="#ec9475"/>
<rect x="378.96" y="235.90" width="10.53" height="10.53" fill="#fbceb6"/>
<rect x="389.14" y="235.90" width="10.53" height="10.53" fill="#fee4d5"/>
<rect x="399.32" y="235.90" width="10.53" height="10.53" fill="#ffffff"/>
<rect x="409.50" y="235.90" width="10.53" height="10.53" fill="#fddbc7"/>
<rect x="216.08" y="246.08" width="10.53" height="10.53" fill="#053061"/>
<rect x="226.26" y="246.08" width="10.53" height="10.53" fill="#d1e5f0"/>
<rect x="236.44" y="246.08" width="10.53" height="10.53" fill="#327db8"/>
<rect x="246.62" y="246.08" width="10.53" height="10.53" fill="#92c5de"/>
<rect x="256.80" y="246.08" width="10.53" height="10.53" fill="#92c5de"/>
<rect x="266.98" y="246.08" width="10.53" height="10.53" fill="#4393c3"/>
<rect x="277.16" y="246.08" width="10.53" height="10.53" fill="#4393c3"/>
<rect x="287.34" y="246.08" width="10.53" height="10.53" fill="#4393c3"/>
<rect x="297.52" y="246.08" width="10.53" height="10.53" fill="#6aacd0"/>
<rect x="307.70" y="246.08" width="10.53" height="10.53" fill="#c1ddec"/>
<rect x="317.88" y="246.08" width="10.53" height="10.53" fill="#92c5de"/>
<rect x="328.06" y="246.08" width="10.53" height="10.53" fill="#7eb8d7"/>
<rect x="338.24" y="246.08" width="10.53" height="10.53" fill="#7eb8d7"/>
<rect x="348.42" y="246.08" width="10.53" height="10.53" fill="#cd4e44"/>
<rect x="358.60" y="246.08" width="10.53" height="10.53" fill="#d55e4c"/>
<rect x="368.78" y="246.08" width="10.53" height="10.53" fill="#cd4e44"/>
<rect x="378.96" y="246.08" width="10.53" height="10.53" fill="#f8c0a4"/>
<rect x="389.14" y="246.08" width="10.53" height="10.53" fill="#f4a582"/>
<rect x="399.32" y="246.08" width="10.53" height="10.53" fill="#fddbc7"/>
<rect x="409.50" y="246.08" width="10.53" height="10.53" fill="#fddbc7"/>
<rect x="226.26" y="256.26" width="10.53" height="10.53" fill="#053061"/>
<rect x="236.44" y="256.26" width="10.53" height="10.53" fill="#d1e5f0"/>
<rect x="246.62" y="256.26" width="10.53" height="10.53" fill="#fef6f1"/>
<rect x="256.80" y="256.26" width="10.53" height="10.53" fill="#c1ddec"/>
<rect x="266.98" y="256.26" width="10.53" height="10.53" fill="#c1ddec"/>
<rect x="277.16" y="256.26" width="10.53" height="10.53" fill="#d1e5f0"/>
<rect x="287.34" y="256.26" width="10.53" height="10.53" fill="#ffffff"/>
<rect x="297.52" y="256.26" width="10.53" height="10.53" fill="#d1e5f0"/>
<rect x="307.70" y="256.26" width="10.53" height="10.53" fill="#d1e5f0"/>
<rect x="317.88" y="256.26" width="10.53" height="10.53" fill="#d1e5f0"/>
<rect x="328.06" y="256.26" width="10.53" height="10.53" fill="#d1e5f0"/>
<rect x="338.24" y="256.26" width="10.53" height="10.53" fill="#ffffff"/>
<rect x="348.42" y="256.26" width="10.53" height="10.53" fill="#fee4d5"/>
<rect x="358.60" y="256.26" width="10.53" height="10.53" fill="#feede3"/>
<rect x="368.78" y="256.26" width="10.53" height="10.53" fill="#feede3"/>
<rect x="378.96" y="256.26" width="10.53" height="10.53" fill="#fee9dd"/>
<rect x="389.14" y="256.26" width="10.53" height="10.53" fill="#fef2eb"/>
<rect x="399.32" y="256.26" width="10.53" height="10.53" fill="#fef6f1"/>
<rect x="409.50" y="256.26" width="10.53" height="10.53" fill="#fffaf7"/>
<rect x="236.44" y="266.44" width="10.53" height="10.53" fill="#053061"/>
<rect x="246.62" y="266.44" width="10.53" height="10.53" fill="#a2cde2"/>
<rect x="256.80" y="266.44" width="10.53" height="10.53" fill="#92c5de"/>
<rect x="266.98" y="266.44" width="10.53" height="10.53" fill="#7eb8d7"/>
<rect x="277.16" y="266.44" width="10.53" height="10.53" fill="#4393c3"/>
<rect x="287.34" y="266.44" width="10.53" height="10.53" fill="#4393c3"/>
<rect x="297.52" y="266.44" width="10.53" height="10.53" fill="#57a0ca"/>
<rect x="307.70" y="266.44" width="10.53" height="10.53" fill="#c1ddec"/>
<rect x="317.88" y="266.44" width="10.53" height="10.53" fill="#92c5de"/>
<rect x="328.06" y="266.44" width="10.53" height="10.53" fill="#92c5de"/>
<rect x="338.24" y="266.44" width="10.53" height="10.53" fill="#57a0ca"/>
<rect x="348.42" y="266.44" width="10.53" height="10.53" fill="#bc2c35"/>
<rect x="358.60" y="266.44" width="10.53" height="10.53" fill="#c43d3c"/>
<rect x="368.78" y="266.44" width="10.53" height="10.53" fill="#cd4e44"/>
<rect x="378.96" y="266.44" width="10.53" height="10.53" fill="#ec9475"/>
<rect x="389.14" y="266.44" width="10.53" height="10.53" fill="#ec9475"/>
<rect x="399.32" y="266.44" width="10.53" height="10.53" fill="#fbceb6"/>
<rect x="409.50" y="266.44" width="10.53" height="10.53" fill="#f8c0a4"/>
<rect x="246.62" y="276.62" width="10.53" height="10.53" fill="#053061"/>
<rect x="256.80" y="276.62" width="10.53" height="10.53" fill="#e8f2f8"/>
<rect x="266.98" y="276.62" width="10.53" height="10.53" fill="#c1ddec"/>
<rect x="277.16" y="276.62" width="10.53" height="10.53" fill="#7eb8d7"/>
<rect x="287.34" y="276.62" width="10.53" height="10.53" fill="#4393c3"/>
<rect x="297.52" y="276.62" width="10.53" height="10.53" fill="#b2d5e7"/>
<rect x="307.70" y="276.62" width="10.53" height="10.53" fill="#c1ddec"/>
<rect x="317.88" y="276.62" width="10.53" height="10.53" fill="#b2d5e7"/>
<rect x="328.06" y="276.62" width="10.53" height="10.53" fill="#e3eff6"/>
<rect x="338.24" y="276.62" width="10.53" height="10.53" fill="#a2cde2"/>
<rect x="348.42" y="276.62" width="10.53" height="10.53" fill="#e58268"/>
<rect x="358.60" y="276.62" width="10.53" height="10.53" fill="#e58268"/>
<rect x="368.78" y="276.62" width="10.53" height="10.53" fill="#e58268"/>
<rect x="378.96" y="276.62" width="10.53" height="10.53" fill="#fddbc7"/>
<rect x="389.14" y="276.62" width="10.53" height="10.53" fill="#f4a582"/>
<rect x="399.32" y="276.62" width="10.53" height="10.53" fill="#fee4d5"/>
<rect x="409.50" y="276.62" width="10.53" height="10.53" fill="#f8c0a4"/>
<rect x="256.80" y="286.80" width="10.53" height="10.53" fill="#053061"/>
<rect x="266.98" y="286.80" width="10.53" height="10.53" fill="#b2d5e7"/>
<rect x="277.16" y="286.80" width="10.53" height="10.53" fill="#6aacd0"/>
<rect x="287.34" y="286.80" width="10.53" height="10.53" fill="#d1e5f0"/>
<rect x="297.52" y="286.80" width="10.53" height="10.53" fill="#b2d5e7"/>
<rect x="307.70" y="286.80" width="10.53" height="10.53" fill="#b2d5e7"/>
<rect x="317.88" y="286.80" width="10.53" height="10.53" fill="#7eb8d7"/>
<rect x="328.06" y="286.80" width="10.53" height="10.53" fill="#b2d5e7"/>
<rect x="338.24" y="286.80" width="10.53" height="10.53" fill="#b2d5e7"/>
<rect x="348.42" y="286.80" width="10.53" height="10.53" fill="#ec9475"/>
<rect x="358.60" y="286.80" width="10.53" height="10.53" fill="#ec9475"/>
<rect x="368.78" y="286.80" width="10.53" height="10.53" fill="#e58268"/>
<rect x="378.96" y="286.80" width="10.53" height="10.53" fill="#f6b293"/>
<rect x="389.14" y="286.80" width="10.53" height="10.53" fill="#f6b293"/>
<rect x="399.32" y="286.80" width="10.53" height="10.53" fill="#f4a582"/>
<rect x="409.50" y="286.80" width="10.53" height="10.53" fill="#fee4d5"/>
<rect x="266.98" y="296.98" width="10.53" height="10.53" fill="#053061"/>
<rect x="277.16" y="296.98" width="10.53" height="10.53" fill="#92c5de"/>
<rect x="287.34" y="296.98" width="10.53" height="10.53" fill="#a2cde2"/>
<rect x="297.52" y="296.98" width="10.53" height="10.53" fill="#a2cde2"/>
<rect x="307.70" y="296.98" width="10.53" height="10.53" fill="#a2cde2"/>
<rect x="317.88" y="296.98" width="10.53" height="10.53" fill="#92c5de"/>
<rect x="328.06" y="296.98" width="10.53" height="10.53" fill="#57a0ca"/>
<rect x="338.24" y="296.98" width="10.53" height="10.53" fill="#92c5de"/>
<rect x="348.42" y="296.98" width="10.53" height="10.53" fill="#de715a"/>
<rect x="358.60" y="296.98" width="10.53" height="10.53" fill="#e58268"/>
<rect x="368.78" y="296.98" width="10.53" height="10.53" fill="#de715a"/>
<rect x="378.96" y="296.98" width="10.53" height="10.53" fill="#ec9475"/>
<rect x="389.14" y="296.98" width="10.53" height="10.53" fill="#f6b293"/>
<rect x="399.32" y="296.98" width="10.53" height="10.53" fill="#fbceb6"/>
<rect x="409.50" y="296.98" width="10.53" height="10.53" fill="#f8c0a4"/>
<rect x="277.16" y="307.16" width="10.53" height="10.53" fill="#053061"/>
<rect x="287.34" y="307.16" width="10.53" height="10.53" fill="#4393c3"/>
<rect x="297.52" y="307.16" width="10.53" height="10.53" fill="#4393c3"/>
<rect x="307.70" y="307.16" width="10.53" height="10.53" fill="#a2cde2"/>
<rect x="317.88" y="307.16" width="10.53" height="10.53" fill="#7eb8d7"/>
<rect x="328.06" y="307.16" width="10.53" height="10.53" fill="#6aacd0"/>
<rect x="338.24" y="307.16" width="10.53" height="10.53" fill="#7eb8d7"/>
<rect x="348.42" y="307.16" width="10.53" height="10.53" fill="#d55e4c"/>
<rect x="358.60" y="307.16" width="10.53" height="10.53" fill="#c43d3c"/>
<rect x="368.78" y="307.16" width="10.53" height="10.53" fill="#c43d3c"/>
<rect x="378.96" y="307.16" width="10.53" height="10.53" fill="#de715a"/>
<rect x="389.14" y="307.16" width="10.53" height="10.53" fill="#e58268"/>
<rect x="399.32" y="307.16" width="10.53" height="10.53" fill="#f6b293"/>
<rect x="409.50" y="307.16" width="10.53" height="10.53" fill="#f6b293"/>
<rect x="287.34" y="317.34" width="10.53" height="10.53" fill="#053061"/>
<rect x="297.52" y="317.34" width="10.53" height="10.53" fill="#57a0ca"/>
<rect x="307.70" y="317.34" width="10.53" height="10.53" fill="#d1e5f0"/>
<rect x="317.88" y="317.34" width="10.53" height="10.53" fill="#a2cde2"/>
<rect x="328.06" y="317.34" width="10.53" height="10.53" fill="#92c5de"/>
<rect x="338.24" y="317.34" width="10.53" height="10.53" fill="#3a88bd"/>
<rect x="348.42" y="317.34" width="10.53" height="10.53" fill="#cd4e44"/>
<rect x="358.60" y="317.34" width="10.53" height="10.53" fill="#d55e4c"/>
<rect x="368.78" y="317.34" width="10.53" height="10.53" fill="#dc6e58"/>
<rect x="378.96" y="317.34" width="10.53" height="10.53" fill="#ec9475"/>
<rect x="389.14" y="317.34" width="10.53" height="10.53" fill="#f4a582"/>
<rect x="399.32" y="317.34" width="10.53" height="10.53" fill="#f8c0a4"/>
<rect x="409.50" y="317.34" width="10.53" height="10.53" fill="#ec9475"/>
<rect x="297.52" y="327.52" width="10.53" height="10.53" fill="#053061"/>
<rect x="307.70" y="327.52" width="10.53" height="10.53" fill="#b2d5e7"/>
<rect x="317.88" y="327.52" width="10.53" height="10.53" fill="#a2cde2"/>
<rect x="328.06" y="327.52" width="10.53" height="10.53" fill="#7eb8d7"/>
<rect x="338.24" y="327.52" width="10.53" height="10.53" fill="#3a88bd"/>
<rect x="348.42" y="327.52" width="10.53" height="10.53" fill="#cd4e44"/>
<rect x="358.60" y="327.52" width="10.53" height="10.53" fill="#cd4e44"/>
<rect x="368.78" y="327.52" width="10.53" height="10.53" fill="#d55e4c"/>
<rect x="378.96" y="327.52" width="10.53" height="10.53" fill="#e58268"/>
<rect x="389.14" y="327.52" width="10.53" height="10.53" fill="#ec9475"/>
<rect x="399.32" y="327.52" width="10.53" height="10.53" fill="#f6b293"/>
<rect x="409.50" y="327.52" width="10.53" height="10.53" fill="#f4a582"/>
<rect x="307.70" y="337.70" width="10.53" height="10.53" fill="#053061"/>
<rect x="317.88" y="337.70" width="10.53" height="10.53" fill="#92c5de"/>
<rect x="328.06" y="337.70" width="10.53" height="10.53" fill="#b2d5e7"/>
<rect x="338.24" y="337.70" width="10.53" height="10.53" fill="#dcecf4"/>
<rect x="348.42" y="337.70" width="10.53" height="10.53" fill="#e58268"/>
<rect x="358.60" y="337.70" width="10.53" height="10.53" fill="#e58268"/>
<rect x="368.78" y="337.70" width="10.53" height="10.53" fill="#e58268"/>
<rect x="378.96" y="337.70" width="10.53" height="10.53" fill="#e58268"/>
<rect x="389.14" y="337.70" width="10.53" height="10.53" fill="#f4a582"/>
<rect x="399.32" y="337.70" width="10.53" height="10.53" fill="#f6b293"/>
<rect x="409.50" y="337.70" width="10.53" height="10.53" fill="#f6b293"/>
<rect x="317.88" y="347.88" width="10.53" height="10.53" fill="#053061"/>
<rect x="328.06" y="347.88" width="10.53" height="10.53" fill="#a2cde2"/>
<rect x="338.24" y="347.88" width="10.53" height="10.53" fill="#6aacd0"/>
<rect x="348.42" y="347.88" width="10.53" height="10.53" fill="#de715a"/>
<rect x="358.60" y="347.88" width="10.53" height="10.53" fill="#de715a"/>
<rect x="368.78" y="347.88" width="10.53" height="10.53" fill="#e58268"/>
<rect x="378.96" y="347.88" width="10.53" height="10.53" fill="#e58268"/>
<rect x="389.14" y="347.88" width="10.53" height="10.53" fill="#f4a582"/>
<rect x="399.32" y="347.88" width="10.53" height="10.53" fill="#f6b293"/>
<rect x="409.50" y="347.88" width="10.53" height="10.53" fill="#f6b293"/>
<rect x="328.06" y="358.06" width="10.53" height="10.53" fill="#053061"/>
<rect x="338.24" y="358.06" width="10.53" height="10.53" fill="#a2cde2"/>
<rect x="348.42" y="358.06" width="10.53" height="10.53" fill="#e58268"/>
<rect x="358.60" y="358.06" width="10.53" height="10.53" fill="#e58268"/>
<rect x="368.78" y="358.06" width="10.53" height="10.53" fill="#dc6e58"/>
<rect x="378.96" y="358.06" width="10.53" height="10.53" fill="#de715a"/>
<rect x="389.14" y="358.06" width="10.53" height="10.53" fill="#f8c0a4"/>
<rect x="399.32" y="358.06" width="10.53" height="10.53" fill="#fef1e9"/>
<rect x="409.50" y="358.06" width="10.53" height="10.53" fill="#f6b293"/>
<rect x="338.24" y="368.24" width="10.53" height="10.53" fill="#053061"/>
<rect x="348.42" y="368.24" width="10.53" height="10.53" fill="#d55e4c"/>
<rect x="358.60" y="368.24" width="10.53" height="10.53" fill="#e58268"/>
<rect x="368.78" y="368.24" width="10.53" height="10.53" fill="#e58268"/>
<rect x="378.96" y="368.24" width="10.53" height="10.53" fill="#f4a582"/>
<rect x="389.14" y="368.24" width="10.53" height="10.53" fill="#f4a582"/>
<rect x="399.32" y="368.24" width="10.53" height="10.53" fill="#f8c0a4"/>
<rect x="409.50" y="368.24" width="10.53" height="10.53" fill="#ec9475"/>
<rect x="348.42" y="378.42" width="10.53" height="10.53" fill="#053061"/>
<rect x="358.60" y="378.42" width="10.53" height="10.53" fill="#2a71b2"/>
<rect x="368.78" y="378.42" width="10.53" height="10.53" fill="#327db8"/>
<rect x="378.96" y="378.42" width="10.53" height="10.53" fill="#4393c3"/>
<rect x="389.14" y="378.42" width="10.53" height="10.53" fill="#7eb8d7"/>
<rect x="399.32" y="378.42" width="10.53" height="10.53" fill="#c1ddec"/>
<rect x="409.50" y="378.42" width="10.53" height="10.53" fill="#a2cde2"/>
<rect x="358.60" y="388.60" width="10.53" height="10.53" fill="#053061"/>
<rect x="368.78" y="388.60" width="10.53" height="10.53" fill="#2a71b2"/>
<rect x="378.96" y="388.60" width="10.53" height="10.53" fill="#57a0ca"/>
<rect x="389.14" y="388.60" width="10.53" height="10.53" fill="#6aacd0"/>
<rect x="399.32" y="388.60" width="10.53" height="10.53" fill="#c1ddec"/>
<rect x="409.50" y="388.60" width="10.53" height="10.53" fill="#a2cde2"/>
<rect x="368.78" y="398.78" width="10.53" height="10.53" fill="#053061"/>
<rect x="378.96" y="398.78" width="10.53" height="10.53" fill="#6aacd0"/>
<rect x="389.14" y="398.78" width="10.53" height="10.53" fill="#6aacd0"/>
<rect x="399.32" y="398.78" width="10.53" height="10.53" fill="#c1ddec"/>
<rect x="409.50" y="398.78" width="10.53" height="10.53" fill="#a2cde2"/>
<rect x="378.96" y="408.96" width="10.53" height="10.53" fill="#053061"/>
<rect x="389.14" y="408.96" width="10.53" height="10.53" fill="#a2cde2"/>
<rect x="399.32" y="408.96" width="10.53" height="10.53" fill="#c1ddec"/>
<rect x="409.50" y="408.96" width="10.53" height="10.53" fill="#b2d5e7"/>
<rect x="389.14" y="419.14" width="10.53" height="10.53" fill="#053061"/>
<rect x="399.32" y="419.14" width="10.53" height="10.53" fill="#57a0ca"/>
<rect x="409.50" y="419.14" width="10.53" height="10.53" fill="#c1ddec"/>
<rect x="399.32" y="429.32" width="10.53" height="10.53" fill="#053061"/>
<rect x="409.50" y="429.32" width="10.53" height="10.53" fill="#b2d5e7"/>
<rect x="409.50" y="439.50" width="10.53" height="10.53" fill="#053061"/>
<text x="46.20" y="92.49" font-size="11.5" text-anchor="end" fill="#1a1a1a">S100A6</text>
<text x="56.38" y="102.67" font-size="11.5" text-anchor="end" fill="#1a1a1a">MMP9</text>
<text x="66.56" y="112.85" font-size="11.5" text-anchor="end" fill="#1a1a1a">SPP1</text>
<text x="76.74" y="123.03" font-size="11.5" text-anchor="end" fill="#1a1a1a">TMSB10</text>
<text x="86.92" y="133.21" font-size="11.5" text-anchor="end" fill="#1a1a1a">STC1</text>
<text x="97.10" y="143.39" font-size="11.5" text-anchor="end" fill="#1a1a1a">IKBKE</text>
<text x="107.28" y="153.57" font-size="11.5" text-anchor="end" fill="#1a1a1a">ARG2</text>
<text x="117.46" y="163.75" font-size="11.5" text-anchor="end" fill="#1a1a1a">FABP5</text>
<text x="127.64" y="173.93" font-size="11.5" text-anchor="end" fill="#1a1a1a">ABCC4</text>
<text x="137.82" y="184.11" font-size="11.5" text-anchor="end" fill="#1a1a1a">FGF13</text>
<text x="148.00" y="194.29" font-size="11.5" text-anchor="end" fill="#1a1a1a">PLXNA1</text>
<text x="158.18" y="204.47" font-size="11.5" text-anchor="end" fill="#1a1a1a">SEMA7A</text>
<text x="168.36" y="214.65" font-size="11.5" text-anchor="end" fill="#1a1a1a">CKLF</text>
<text x="178.54" y="224.83" font-size="11.5" text-anchor="end" fill="#1a1a1a">MICB</text>
<text x="188.72" y="235.01" font-size="11.5" text-anchor="end" fill="#1a1a1a">NDRG1</text>
<text x="198.90" y="245.19" font-size="11.5" text-anchor="end" fill="#1a1a1a">S100A10</text>
<text x="209.08" y="255.37" font-size="11.5" text-anchor="end" fill="#1a1a1a">TNFRSF4</text>
<text x="219.26" y="265.55" font-size="11.5" text-anchor="end" fill="#1a1a1a">KITLG</text>
<text x="229.44" y="275.73" font-size="11.5" text-anchor="end" fill="#1a1a1a">MDK</text>
<text x="239.62" y="285.91" font-size="11.5" text-anchor="end" fill="#1a1a1a">PIK3R2</text>
<text x="249.80" y="296.09" font-size="11.5" text-anchor="end" fill="#1a1a1a">RFX5</text>
<text x="259.98" y="306.27" font-size="11.5" text-anchor="end" fill="#1a1a1a">SEMA3F</text>
<text x="270.16" y="316.45" font-size="11.5" text-anchor="end" fill="#1a1a1a">BIRC5</text>
<text x="280.34" y="326.63" font-size="11.5" text-anchor="end" fill="#1a1a1a">RFXANK</text>
<text x="290.52" y="336.81" font-size="11.5" text-anchor="end" fill="#1a1a1a">CACYBP</text>
<text x="300.70" y="346.99" font-size="11.5" text-anchor="end" fill="#1a1a1a">CMTM4</text>
<text x="310.88" y="357.17" font-size="11.5" text-anchor="end" fill="#1a1a1a">MAPT</text>
<text x="321.06" y="367.35" font-size="11.5" text-anchor="end" fill="#1a1a1a">APLN</text>
<text x="331.24" y="377.53" font-size="11.5" text-anchor="end" fill="#1a1a1a">PSMD4</text>
<text x="341.42" y="387.71" font-size="11.5" text-anchor="end" fill="#1a1a1a">GHR</text>
<text x="351.60" y="397.89" font-size="11.5" text-anchor="end" fill="#1a1a1a">ESR1</text>
<text x="361.78" y="408.07" font-size="11.5" text-anchor="end" fill="#1a1a1a">VIPR1</text>
<text x="371.96" y="418.25" font-size="11.5" text-anchor="end" fill="#1a1a1a">CXCL2</text>
<text x="382.14" y="428.43" font-size="11.5" text-anchor="end" fill="#1a1a1a">JUN</text>
<text x="392.32" y="438.61" font-size="11.5" text-anchor="end" fill="#1a1a1a">ADM</text>
<text x="402.50" y="448.79" font-size="11.5" text-anchor="end" fill="#1a1a1a">CCR1</text>
<text x="63.08" y="79.40" font-size="11.5" fill="#1a1a1a" transform="rotate(-90 63.08 79.40)">S100A6</text>
<text x="73.26" y="79.40" font-size="11.5" fill="#1a1a1a" transform="rotate(-90 73.26 79.40)">MMP9</text>
<text x="83.44" y="79.40" font-size="11.5" fill="#1a1a1a" transform="rotate(-90 83.44 79.40)">SPP1</text>
<text x="93.62" y="79.40" font-size="11.5" fill="#1a1a1a" transform="rotate(-90 93.62 79.40)">TMSB10</text>
<text x="103.80" y="79.40" font-size="11.5" fill="#1a1a1a" transform="rotate(-90 103.80 79.40)">STC1</text>
<text x="113.98" y="79.40" font-size="11.5" fill="#1a1a1a" transform="rotate(-90 113.98 79.40)">IKBKE</text>
<text x="124.16" y="79.40" font-size="11.5" fill="#1a1a1a" transform="rotate(-90 124.16 79.40)">ARG2</text>
<text x="134.34" y="79.40" font-size="11.5" fill="#1a1a1a" transform="rotate(-90 134.34 79.40)">FABP5</text>
<text x="144.52" y="79.40" font-size="11.5" fill="#1a1a1a" transform="rotate(-90 144.52 79.40)">ABCC4</text>
<text x="154.70" y="79.40" font-size="11.5" fill="#1a1a1a" transform="rotate(-90 154.70 79.40)">FGF13</text>
<text x="164.88" y="79.40" font-size="11.5" fill="#1a1a1a" transform="rotate(-90 164.88 79.40)">PLXNA1</text>
<text x="175.06" y="79.40" font-size="11.5" fill="#1a1a1a" transform="rotate(-90 175.06 79.40)">SEMA7A</text>
<text x="185.24" y="79.40" font-size="11.5" fill="#1a1a1a" transform="rotate(-90 185.24 79.40)">CKLF</text>
<text x="195.42" y="79.40" font-size="11.5" fill="#1a1a1a" transform="rotate(-90 195.42 79.40)">MICB</text>
<text x="205.60" y="79.40" font-size="11.5" fill="#1a1a1a" transform="rotate(-90 205.60 79.40)">NDRG1</text>
<text x="215.78" y="79.40" font-size="11.5" fill="#1a1a1a" transform="rotate(-90 215.78 79.40)">S100A10</text>
<text x="225.96" y="79.40" font-size="11.5" fill="#1a1a1a" transform="rotate(-90 225.96 79.40)">TNFRSF4</text>
<text x="236.14" y="79.40" font-size="11.5" fill="#1a1a1a" transform="rotate(-90 236.14 79.40)">KITLG</text>
<text x="246.32" y="79.40" font-size="11.5" fill="#1a1a1a" transform="rotate(-90 246.32 79.40)">MDK</text>
<text x="256.50" y="79.40" font-size="11.5" fill="#1a1a1a" transform="rotate(-90 256.50 79.40)">PIK3R2</text>
<text x="266.68" y="79.40" font-size="11.5" fill="#1a1a1a" transform="rotate(-90 266.68 79.40)">RFX5</text>
<text x="276.86" y="79.40" font-size="11.5" fill="#1a1a1a" transform="rotate(-90 276.86 79.40)">SEMA3F</text>
<text x="287.04" y="79.40" font-size="11.5" fill="#1a1a1a" transform="rotate(-90 287.04 79.40)">BIRC5</text>
<text x="297.22" y="79.40" font-size="11.5" fill="#1a1a1a" transform="rotate(-90 297.22 79.40)">RFXANK</text>
<text x="307.40" y="79.40" font-size="11.5" fill="#1a1a1a" transform="rotate(-90 307.40 79.40)">CACYBP</text>
<text x="317.58" y="79.40" font-size="11.5" fill="#1a1a1a" transform="rotate(-90 317.58 79.40)">CMTM4</text>
<text x="327.76" y="79.40" font-size="11.5" fill="#1a1a1a" transform="rotate(-90 327.76 79.40)">MAPT</text>
<text x="337.94" y="79.40" font-size="11.5" fill="#1a1a1a" transform="rotate(-90 337.94 79.40)">APLN</text>
<text x="348.12" y="79.40" font-size="11.5" fill="#1a1a1a" transform="rotate(-90 348.12 79.40)">PSMD4</text>
<text x="358.30" y="79.40" font-size="11.5" fill="#1a1a1a" transform="rotate(-90 358.30 79.40)">GHR</text>
<text x="368.48" y="79.40" font-size="11.5" fill="#1a1a1a" transform="rotate(-90 368.48 79.40)">ESR1</text>
<text x="378.66" y="79.40" font-size="11.5" fill="#1a1a1a" transform="rotate(-90 378.66 79.40)">VIPR1</text>
<text x="388.84" y="79.40" font-size="11.5" fill="#1a1a1a" transform="rotate(-90 388.84 79.40)">CXCL2</text>
<text x="399.02" y="79.40" font-size="11.5" fill="#1a1a1a" transform="rotate(-90 399.02 79.40)">JUN</text>
<text x="409.20" y="79.40" font-size="11.5" fill="#1a1a1a" transform="rotate(-90 409.20 79.40)">ADM</text>
<text x="419.38" y="79.40" font-size="11.5" fill="#1a1a1a" transform="rotate(-90 419.38 79.40)">CCR1</text>
<defs><linearGradient id="cbA" x1="0" y1="0" x2="0" y2="1"><stop offset="0.000" stop-color="#053061"/><stop offset="0.100" stop-color="#2166AC"/><stop offset="0.200" stop-color="#4393C3"/><stop offset="0.300" stop-color="#92C5DE"/><stop offset="0.400" stop-color="#D1E5F0"/><stop offset="0.500" stop-color="#FFFFFF"/><stop offset="0.600" stop-color="#FDDBC7"/><stop offset="0.700" stop-color="#F4A582"/><stop offset="0.800" stop-color="#D6604D"/><stop offset="0.900" stop-color="#B2182B"/><stop offset="1.000" stop-color="#67001F"/></linearGradient></defs>
<rect x="426.30" y="83.20" width="14.50" height="366.10" fill="url(#cbA)" stroke="#333" stroke-width="0.8"/>
<line x1="440.80" y1="83.20" x2="443.80" y2="83.20" stroke="#333" stroke-width="1.2"/>
<text x="457.50" y="88.50" font-size="11.5" text-anchor="middle" fill="#1a1a1a">1</text>
<line x1="440.80" y1="119.81" x2="443.80" y2="119.81" stroke="#333" stroke-width="1.2"/>
<text x="457.50" y="125.11" font-size="11.5" text-anchor="middle" fill="#1a1a1a">0.8</text>
<line x1="440.80" y1="156.42" x2="443.80" y2="156.42" stroke="#333" stroke-width="1.2"/>
<text x="457.50" y="161.72" font-size="11.5" text-anchor="middle" fill="#1a1a1a">0.6</text>
<line x1="440.80" y1="193.03" x2="443.80" y2="193.03" stroke="#333" stroke-width="1.2"/>
<text x="457.50" y="198.33" font-size="11.5" text-anchor="middle" fill="#1a1a1a">0.4</text>
<line x1="440.80" y1="229.64" x2="443.80" y2="229.64" stroke="#333" stroke-width="1.2"/>
<text x="457.50" y="234.94" font-size="11.5" text-anchor="middle" fill="#1a1a1a">0.2</text>
<line x1="440.80" y1="266.25" x2="443.80" y2="266.25" stroke="#333" stroke-width="1.2"/>
<text x="457.50" y="271.55" font-size="11.5" text-anchor="middle" fill="#1a1a1a">0</text>
<line x1="440.80" y1="302.86" x2="443.80" y2="302.86" stroke="#333" stroke-width="1.2"/>
<text x="457.50" y="308.16" font-size="11.5" text-anchor="middle" fill="#1a1a1a">-0.2</text>
<line x1="440.80" y1="339.47" x2="443.80" y2="339.47" stroke="#333" stroke-width="1.2"/>
<text x="457.50" y="344.77" font-size="11.5" text-anchor="middle" fill="#1a1a1a">-0.4</text>
<line x1="440.80" y1="376.08" x2="443.80" y2="376.08" stroke="#333" stroke-width="1.2"/>
<text x="457.50" y="381.38" font-size="11.5" text-anchor="middle" fill="#1a1a1a">-0.6</text>
<line x1="440.80" y1="412.69" x2="443.80" y2="412.69" stroke="#333" stroke-width="1.2"/>
<text x="457.50" y="417.99" font-size="11.5" text-anchor="middle" fill="#1a1a1a">-0.8</text>
<line x1="440.80" y1="449.30" x2="443.80" y2="449.30" stroke="#333" stroke-width="1.2"/>
<text x="457.50" y="454.60" font-size="11.5" text-anchor="middle" fill="#1a1a1a">-1</text>
<text x="520.50" y="30.90" font-size="41.5">B</text>
<rect x="594.20" y="104.20" width="365.20" height="311.40" fill="none" stroke="#333" stroke-width="1.2"/>
<line x1="606.40" y1="415.60" x2="606.40" y2="424.90" stroke="#333" stroke-width="1.1"/>
<text x="606.40" y="447.00" font-size="15" text-anchor="middle">-8</text>
<line x1="606.40" y1="104.20" x2="606.40" y2="94.90" stroke="#333" stroke-width="1.1"/>
<text x="606.40" y="83.50" font-size="15" text-anchor="middle">33</text>
<line x1="654.80" y1="415.60" x2="654.80" y2="424.90" stroke="#333" stroke-width="1.1"/>
<text x="654.80" y="447.00" font-size="15" text-anchor="middle">-7</text>
<line x1="654.80" y1="104.20" x2="654.80" y2="94.90" stroke="#333" stroke-width="1.1"/>
<text x="654.80" y="83.50" font-size="15" text-anchor="middle">28</text>
<line x1="703.20" y1="415.60" x2="703.20" y2="424.90" stroke="#333" stroke-width="1.1"/>
<text x="703.20" y="447.00" font-size="15" text-anchor="middle">-6</text>
<line x1="703.20" y1="104.20" x2="703.20" y2="94.90" stroke="#333" stroke-width="1.1"/>
<text x="703.20" y="83.50" font-size="15" text-anchor="middle">25</text>
<line x1="751.60" y1="415.60" x2="751.60" y2="424.90" stroke="#333" stroke-width="1.1"/>
<text x="751.60" y="447.00" font-size="15" text-anchor="middle">-5</text>
<line x1="751.60" y1="104.20" x2="751.60" y2="94.90" stroke="#333" stroke-width="1.1"/>
<text x="751.60" y="83.50" font-size="15" text-anchor="middle">14</text>
<line x1="800.00" y1="415.60" x2="800.00" y2="424.90" stroke="#333" stroke-width="1.1"/>
<text x="800.00" y="447.00" font-size="15" text-anchor="middle">-4</text>
<line x1="800.00" y1="104.20" x2="800.00" y2="94.90" stroke="#333" stroke-width="1.1"/>
<text x="800.00" y="83.50" font-size="15" text-anchor="middle">11</text>
<line x1="848.40" y1="415.60" x2="848.40" y2="424.90" stroke="#333" stroke-width="1.1"/>
<text x="848.40" y="447.00" font-size="15" text-anchor="middle">-3</text>
<line x1="848.40" y1="104.20" x2="848.40" y2="94.90" stroke="#333" stroke-width="1.1"/>
<text x="848.40" y="83.50" font-size="15" text-anchor="middle">9</text>
<line x1="896.80" y1="415.60" x2="896.80" y2="424.90" stroke="#333" stroke-width="1.1"/>
<text x="896.80" y="447.00" font-size="15" text-anchor="middle">-2</text>
<line x1="896.80" y1="104.20" x2="896.80" y2="94.90" stroke="#333" stroke-width="1.1"/>
<text x="896.80" y="83.50" font-size="15" text-anchor="middle">5</text>
<line x1="945.20" y1="415.60" x2="945.20" y2="424.90" stroke="#333" stroke-width="1.1"/>
<text x="945.20" y="447.00" font-size="15" text-anchor="middle">-1</text>
<line x1="945.20" y1="104.20" x2="945.20" y2="94.90" stroke="#333" stroke-width="1.1"/>
<text x="945.20" y="83.50" font-size="15" text-anchor="middle">1</text>
<line x1="594.20" y1="369.50" x2="584.90" y2="369.50" stroke="#333" stroke-width="1.1"/>
<text x="573.50" y="369.50" font-size="15" text-anchor="middle" transform="rotate(-90 573.50 369.50)">-4</text>
<line x1="594.20" y1="309.30" x2="584.90" y2="309.30" stroke="#333" stroke-width="1.1"/>
<text x="573.50" y="309.30" font-size="15" text-anchor="middle" transform="rotate(-90 573.50 309.30)">-2</text>
<line x1="594.20" y1="249.10" x2="584.90" y2="249.10" stroke="#333" stroke-width="1.1"/>
<text x="573.50" y="249.10" font-size="15" text-anchor="middle" transform="rotate(-90 573.50 249.10)">0</text>
<line x1="594.20" y1="188.90" x2="584.90" y2="188.90" stroke="#333" stroke-width="1.1"/>
<text x="573.50" y="188.90" font-size="15" text-anchor="middle" transform="rotate(-90 573.50 188.90)">2</text>
<line x1="594.20" y1="128.70" x2="584.90" y2="128.70" stroke="#333" stroke-width="1.1"/>
<text x="573.50" y="128.70" font-size="15" text-anchor="middle" transform="rotate(-90 573.50 128.70)">4</text>
<text x="776.00" y="483.80" font-size="15.2" text-anchor="middle">Log Lambda</text>
<text x="537.50" y="260.60" font-size="15" text-anchor="middle" transform="rotate(-90 537.50 260.60)">Coefficients</text>
<line x1="737.08" y1="249.10" x2="945.20" y2="249.10" stroke="#3cc8d8" stroke-width="0.9"/>
<path d="M608.34,115.15 L610.21,120.10 L612.78,127.08 L615.84,135.28 L619.16,143.86 L622.54,151.98 L625.76,158.80 L628.87,164.38 L632.07,169.39 L635.32,173.94 L638.59,178.14 L641.87,182.09 L645.12,185.89 L648.29,189.46 L651.39,192.69 L654.50,195.67 L657.67,198.49 L660.97,201.22 L664.48,203.95 L668.23,206.65 L672.19,209.25 L676.28,211.76 L680.43,214.21 L684.59,216.61 L688.68,219.00 L692.77,221.38 L696.93,223.74 L701.08,226.05 L705.17,228.31 L709.13,230.48 L712.88,232.54 L716.47,234.53 L719.96,236.45 L723.32,238.28 L726.50,240.01 L729.49,241.62 L732.24,243.08 L734.82,244.41 L737.26,245.64 L739.50,246.75 L741.47,247.71 L743.11,248.50 L744.34,249.10" stroke="#b54a6e" stroke-width="1.0" fill="none"/>
<path d="M608.34,405.62 L609.63,400.90 L611.35,394.25 L613.42,386.43 L615.76,378.20 L618.28,370.29 L620.92,363.48 L623.81,357.61 L627.05,352.05 L630.48,346.83 L633.93,341.96 L637.25,337.47 L640.28,333.38 L642.87,329.87 L645.12,326.97 L647.24,324.44 L649.42,322.06 L651.88,319.60 L654.80,316.82 L658.27,313.70 L662.15,310.41 L666.29,307.04 L670.57,303.67 L674.85,300.38 L679.00,297.26 L683.03,294.33 L687.07,291.52 L691.10,288.79 L695.13,286.11 L699.17,283.43 L703.20,280.70 L707.35,277.86 L711.63,274.91 L715.90,271.96 L720.05,269.11 L723.93,266.47 L727.40,264.15 L730.38,262.17 L732.96,260.47 L735.26,258.98 L737.44,257.63 L739.61,256.36 L741.92,255.12 L744.51,253.87 L747.30,252.67 L750.09,251.55 L752.68,250.55 L754.86,249.72 L756.44,249.10" stroke="#3cc8d8" stroke-width="1.0" fill="none"/>
<path d="M608.34,363.48 L610.74,359.43 L614.04,353.73 L617.96,347.02 L622.21,339.96 L626.52,333.19 L630.60,327.36 L634.52,322.38 L638.52,317.72 L642.58,313.34 L646.66,309.24 L650.74,305.39 L654.80,301.77 L658.83,298.46 L662.87,295.48 L666.90,292.74 L670.93,290.18 L674.97,287.70 L679.00,285.22 L683.03,282.77 L687.07,280.43 L691.10,278.17 L695.13,275.97 L699.17,273.81 L703.20,271.68 L707.29,269.55 L711.45,267.44 L715.60,265.37 L719.69,263.37 L723.65,261.45 L727.40,259.63 L731.07,257.87 L734.75,256.12 L738.29,254.46 L741.56,252.95 L744.43,251.64 L746.76,250.60 L748.46,249.90 L749.63,249.49 L750.39,249.29 L750.88,249.21 L751.24,249.18 L751.60,249.10" stroke="#b54a6e" stroke-width="1.0" fill="none"/>
<path d="M608.34,173.85 L610.74,176.16 L614.04,179.37 L617.96,183.16 L622.21,187.23 L626.52,191.25 L630.60,194.92 L634.52,198.36 L638.52,201.83 L642.58,205.27 L646.66,208.58 L650.74,211.68 L654.80,214.48 L658.83,216.96 L662.87,219.17 L666.90,221.16 L670.93,223.01 L674.97,224.78 L679.00,226.52 L683.03,228.22 L687.07,229.81 L691.10,231.32 L695.13,232.77 L699.17,234.17 L703.20,235.56 L707.35,236.93 L711.63,238.29 L715.90,239.60 L720.05,240.85 L723.93,242.02 L727.40,243.08 L730.49,244.04 L733.32,244.92 L735.87,245.71 L738.16,246.42 L740.17,247.05 L741.92,247.59 L743.34,248.04 L744.43,248.38 L745.25,248.63 L745.86,248.82 L746.35,248.97 L746.76,249.10" stroke="#1a1a1a" stroke-width="1.0" fill="none"/>
<path d="M608.34,179.87 L610.74,181.89 L614.04,184.72 L617.96,188.05 L622.21,191.58 L626.52,194.97 L630.60,197.93 L634.52,200.48 L638.52,202.89 L642.58,205.17 L646.66,207.35 L650.74,209.44 L654.80,211.47 L658.83,213.42 L662.87,215.27 L666.90,217.02 L670.93,218.72 L674.97,220.38 L679.00,222.01 L683.03,223.62 L687.07,225.19 L691.10,226.71 L695.13,228.20 L699.17,229.64 L703.20,231.04 L707.23,232.40 L711.27,233.72 L715.30,234.99 L719.33,236.22 L723.37,237.42 L727.40,238.56 L731.49,239.68 L735.65,240.77 L739.80,241.82 L743.89,242.81 L747.85,243.74 L751.60,244.59 L755.16,245.36 L758.59,246.07 L761.88,246.71 L765.04,247.28 L768.07,247.78 L770.96,248.20 L773.83,248.51 L776.70,248.73 L779.43,248.87 L781.89,248.97 L783.96,249.03 L785.48,249.10" stroke="#5cbf5c" stroke-width="1.0" fill="none"/>
<path d="M608.34,191.91 L610.74,193.24 L614.04,195.09 L617.96,197.27 L622.21,199.60 L626.52,201.89 L630.60,203.95 L634.52,205.85 L638.52,207.74 L642.58,209.59 L646.66,211.36 L650.74,213.01 L654.80,214.48 L658.95,215.79 L663.23,216.95 L667.50,217.98 L671.65,218.91 L675.53,219.75 L679.00,220.50 L681.76,221.18 L683.84,221.74 L685.66,222.22 L687.60,222.61 L690.09,222.94 L693.52,223.21 L698.16,223.42 L703.74,223.54 L709.86,223.59 L716.11,223.59 L722.09,223.56 L727.40,223.51 L731.99,223.39 L736.18,223.16 L740.10,222.89 L743.89,222.67 L747.68,222.55 L751.60,222.61 L755.35,222.84 L758.77,223.18 L762.19,223.63 L765.94,224.18 L770.37,224.85 L775.80,225.62 L782.47,226.54 L790.14,227.62 L798.49,228.80 L807.17,230.05 L815.85,231.31 L824.20,232.54 L832.55,233.79 L841.23,235.09 L849.91,236.40 L858.26,237.70 L865.93,238.93 L872.60,240.07 L878.15,241.12 L882.82,242.10 L886.82,243.02 L890.35,243.89 L893.61,244.71 L896.80,245.49 L899.95,246.24 L902.89,246.96 L905.57,247.63 L907.91,248.23 L909.85,248.73 L911.32,249.10" stroke="#3cc8d8" stroke-width="1.0" fill="none"/>
<path d="M608.34,200.94 L610.74,201.92 L614.04,203.28 L617.96,204.89 L622.21,206.63 L626.52,208.36 L630.60,209.97 L634.52,211.51 L638.52,213.09 L642.58,214.67 L646.66,216.21 L650.74,217.67 L654.80,219.00 L658.83,220.19 L662.87,221.29 L666.90,222.29 L670.93,223.24 L674.97,224.14 L679.00,225.02 L683.03,225.88 L687.07,226.69 L691.10,227.47 L695.13,228.20 L699.17,228.89 L703.20,229.53 L707.23,230.14 L711.27,230.71 L715.30,231.23 L719.33,231.71 L723.37,232.15 L727.40,232.54 L731.15,232.85 L734.57,233.05 L737.99,233.20 L741.74,233.38 L746.17,233.64 L751.60,234.05 L758.27,234.63 L765.94,235.33 L774.29,236.12 L782.97,236.95 L791.65,237.78 L800.00,238.56 L808.07,239.32 L816.13,240.07 L824.20,240.82 L832.27,241.57 L840.33,242.33 L848.40,243.08 L856.80,243.87 L865.61,244.70 L874.41,245.53 L882.82,246.31 L890.41,247.02 L896.80,247.59 L901.93,248.04 L906.12,248.38 L909.50,248.63 L912.22,248.82 L914.39,248.97 L916.16,249.10" stroke="#b54a6e" stroke-width="1.0" fill="none"/>
<path d="M608.34,203.95 L610.74,205.11 L614.04,206.74 L617.96,208.65 L622.21,210.69 L626.52,212.69 L630.60,214.48 L634.52,216.09 L638.52,217.66 L642.58,219.19 L646.66,220.67 L650.74,222.11 L654.80,223.51 L658.83,224.87 L662.87,226.19 L666.90,227.47 L670.93,228.70 L674.97,229.89 L679.00,231.04 L683.03,232.13 L687.07,233.16 L691.10,234.14 L695.13,235.11 L699.17,236.07 L703.20,237.06 L707.23,238.08 L711.27,239.12 L715.30,240.16 L719.33,241.18 L723.37,242.16 L727.40,243.08 L731.60,243.95 L736.00,244.81 L740.41,245.62 L744.61,246.37 L748.41,247.03 L751.60,247.59 L754.17,248.04 L756.26,248.38 L757.95,248.63 L759.31,248.82 L760.39,248.97 L761.28,249.10" stroke="#5cbf5c" stroke-width="1.0" fill="none"/>
<path d="M608.34,212.98 L610.74,214.00 L614.04,215.45 L617.96,217.16 L622.21,218.93 L626.52,220.61 L630.60,222.01 L634.52,223.18 L638.52,224.26 L642.58,225.25 L646.66,226.11 L650.74,226.85 L654.80,227.43 L658.83,227.81 L662.87,228.01 L666.90,228.07 L670.93,228.05 L674.97,228.02 L679.00,228.03 L683.03,228.03 L687.07,227.96 L691.10,227.88 L695.13,227.83 L699.17,227.86 L703.20,228.03 L707.23,228.36 L711.27,228.81 L715.30,229.35 L719.33,229.93 L723.37,230.50 L727.40,231.04 L731.43,231.55 L735.47,232.07 L739.50,232.58 L743.53,233.09 L747.57,233.58 L751.60,234.05 L755.63,234.48 L759.67,234.87 L763.70,235.25 L767.73,235.63 L771.77,236.03 L775.80,236.46 L779.83,236.92 L783.87,237.42 L787.90,237.93 L791.93,238.44 L795.97,238.96 L800.00,239.47 L804.03,239.97 L808.07,240.47 L812.10,240.97 L816.13,241.47 L820.17,241.98 L824.20,242.48 L828.23,242.98 L832.27,243.48 L836.30,243.98 L840.33,244.48 L844.37,244.99 L848.40,245.49 L852.69,246.02 L857.27,246.58 L861.86,247.14 L866.15,247.67 L869.83,248.14 L872.60,248.50 L874.29,248.74 L875.11,248.90 L875.32,248.99 L875.20,249.03 L875.01,249.06 L875.02,249.10" stroke="#1a1a1a" stroke-width="1.0" fill="none"/>
<path d="M608.34,211.47 L610.27,212.97 L612.96,215.04 L616.14,217.49 L619.52,220.11 L622.82,222.69 L625.76,225.02 L628.40,227.15 L630.99,229.26 L633.50,231.32 L635.91,233.33 L638.17,235.24 L640.28,237.06 L642.23,238.81 L644.04,240.52 L645.73,242.14 L647.27,243.64 L648.68,244.97 L649.96,246.09 L651.10,246.97 L652.11,247.65 L652.99,248.16 L653.72,248.54 L654.33,248.84 L654.80,249.10" stroke="#b03cc0" stroke-width="1.0" fill="none"/>
<path d="M608.34,226.52 L610.74,227.21 L614.04,228.20 L617.96,229.35 L622.21,230.54 L626.52,231.65 L630.60,232.54 L634.52,233.23 L638.52,233.80 L642.58,234.29 L646.66,234.73 L650.74,235.14 L654.80,235.56 L658.83,235.95 L662.87,236.31 L666.90,236.65 L670.93,236.97 L674.97,237.30 L679.00,237.66 L683.03,238.04 L687.07,238.42 L691.10,238.81 L695.13,239.21 L699.17,239.63 L703.20,240.07 L707.23,240.54 L711.27,241.03 L715.30,241.54 L719.33,242.05 L723.37,242.57 L727.40,243.08 L731.43,243.59 L735.47,244.11 L739.50,244.62 L743.53,245.13 L747.57,245.62 L751.60,246.09 L755.80,246.55 L760.20,247.00 L764.61,247.44 L768.81,247.85 L772.61,248.21 L775.80,248.50 L778.37,248.71 L780.46,248.85 L782.15,248.95 L783.51,249.01 L784.59,249.06 L785.48,249.10" stroke="#3cc8d8" stroke-width="1.0" fill="none"/>
<path d="M608.34,231.04 L610.74,231.37 L614.04,231.82 L617.96,232.36 L622.21,232.94 L626.52,233.51 L630.60,234.05 L634.24,234.53 L637.63,235.00 L641.07,235.46 L644.87,235.95 L649.34,236.47 L654.80,237.06 L661.75,237.74 L670.04,238.51 L679.00,239.32 L687.96,240.13 L696.25,240.89 L703.20,241.57 L708.75,242.16 L713.42,242.69 L717.42,243.17 L720.95,243.64 L724.21,244.10 L727.40,244.59 L730.44,245.10 L733.14,245.64 L735.57,246.18 L737.80,246.70 L739.89,247.18 L741.92,247.59 L743.93,247.95 L745.86,248.26 L747.67,248.54 L749.27,248.77 L750.60,248.95 L751.60,249.10" stroke="#3b7fd0" stroke-width="1.0" fill="none"/>
<path d="M608.34,237.06 L610.74,237.39 L614.04,237.84 L617.96,238.38 L622.21,238.96 L626.52,239.53 L630.60,240.07 L634.52,240.58 L638.52,241.10 L642.58,241.61 L646.66,242.12 L650.74,242.61 L654.80,243.08 L658.83,243.52 L662.87,243.94 L666.90,244.34 L670.93,244.73 L674.97,245.11 L679.00,245.49 L683.09,245.86 L687.25,246.23 L691.40,246.60 L695.49,246.95 L699.45,247.28 L703.20,247.59 L706.93,247.90 L710.73,248.20 L714.39,248.48 L717.72,248.73 L720.51,248.94 L722.56,249.10" stroke="#5cbf5c" stroke-width="1.0" fill="none"/>
<path d="M608.34,241.57 L630.60,244.59 L645.12,247.59 L654.80,249.10" stroke="#1a1a1a" stroke-width="1.0" fill="none"/>
<path d="M608.34,243.08 L610.74,243.14 L614.04,243.22 L617.96,243.32 L622.21,243.44 L626.52,243.56 L630.60,243.68 L634.24,243.81 L637.63,243.94 L641.07,244.08 L644.87,244.23 L649.34,244.40 L654.80,244.59 L661.75,244.80 L670.04,245.04 L679.00,245.30 L687.96,245.57 L696.25,245.83 L703.20,246.09 L708.75,246.34 L713.42,246.59 L717.42,246.84 L720.95,247.09 L724.21,247.34 L727.40,247.59 L730.55,247.86 L733.49,248.15 L736.17,248.44 L738.51,248.71 L740.45,248.94 L741.92,249.10" stroke="#b54a6e" stroke-width="1.0" fill="none"/>
<path d="M608.34,246.09 L654.80,247.59 L679.00,249.10" stroke="#5cbf5c" stroke-width="1.0" fill="none"/>
<path d="M608.34,247.59 L630.60,248.50 L640.28,249.10" stroke="#3b7fd0" stroke-width="1.0" fill="none"/>
<path d="M608.34,252.11 L630.60,252.11 L654.80,250.60 L679.00,249.10" stroke="#b03cc0" stroke-width="1.0" fill="none"/>
<path d="M608.34,258.13 L610.74,257.80 L614.04,257.35 L617.96,256.81 L622.21,256.23 L626.52,255.66 L630.60,255.12 L634.52,254.60 L638.52,254.06 L642.58,253.52 L646.66,253.00 L650.74,252.52 L654.80,252.11 L658.83,251.77 L662.87,251.47 L666.90,251.23 L670.93,251.01 L674.97,250.80 L679.00,250.60 L683.03,250.42 L687.07,250.25 L691.10,250.10 L695.13,249.96 L699.17,249.83 L703.20,249.70 L707.51,249.58 L712.16,249.46 L716.81,249.34 L721.13,249.24 L724.77,249.16 L727.40,249.10" stroke="#1a1a1a" stroke-width="1.0" fill="none"/>
<path d="M608.34,262.64 L610.74,262.32 L614.04,261.86 L617.96,261.33 L622.21,260.75 L626.52,260.17 L630.60,259.63 L634.52,259.12 L638.52,258.60 L642.58,258.07 L646.66,257.56 L650.74,257.07 L654.80,256.62 L658.83,256.23 L662.87,255.87 L666.90,255.53 L670.93,255.21 L674.97,254.88 L679.00,254.52 L683.03,254.12 L687.07,253.70 L691.10,253.28 L695.13,252.86 L699.17,252.46 L703.20,252.11 L707.35,251.81 L711.63,251.54 L715.90,251.30 L720.05,251.07 L723.93,250.85 L727.40,250.60 L730.55,250.34 L733.49,250.05 L736.17,249.76 L738.51,249.49 L740.45,249.26 L741.92,249.10" stroke="#3b7fd0" stroke-width="1.0" fill="none"/>
<path d="M608.34,264.15 L610.74,263.81 L614.04,263.31 L617.96,262.74 L622.21,262.14 L626.52,261.59 L630.60,261.14 L634.24,260.80 L637.63,260.53 L641.07,260.29 L644.87,260.08 L649.34,259.87 L654.80,259.63 L661.47,259.40 L669.14,259.19 L677.49,258.98 L686.17,258.74 L694.85,258.47 L703.20,258.13 L711.27,257.68 L719.33,257.13 L727.40,256.53 L735.47,255.96 L743.53,255.46 L751.60,255.12 L759.67,254.96 L767.73,254.95 L775.80,255.03 L783.87,255.12 L791.93,255.17 L800.00,255.12 L808.07,254.97 L816.13,254.79 L824.20,254.56 L832.27,254.28 L840.33,253.97 L848.40,253.61 L856.80,253.18 L865.61,252.67 L874.41,252.11 L882.82,251.55 L890.41,251.04 L896.80,250.60 L901.93,250.25 L906.12,249.94 L909.50,249.66 L912.22,249.43 L914.39,249.25 L916.16,249.10" stroke="#b54a6e" stroke-width="1.0" fill="none"/>
<path d="M608.34,265.65 L610.74,265.83 L614.04,266.08 L617.96,266.37 L622.21,266.67 L626.52,266.94 L630.60,267.16 L634.52,267.32 L638.52,267.45 L642.58,267.56 L646.66,267.64 L650.74,267.71 L654.80,267.76 L658.83,267.81 L662.87,267.85 L666.90,267.87 L670.93,267.87 L674.97,267.84 L679.00,267.76 L683.03,267.64 L687.07,267.47 L691.10,267.27 L695.13,267.05 L699.17,266.81 L703.20,266.56 L707.23,266.28 L711.27,265.98 L715.30,265.65 L719.33,265.33 L723.37,265.03 L727.40,264.75 L731.15,264.51 L734.57,264.28 L737.99,264.07 L741.74,263.88 L746.17,263.71 L751.60,263.55 L758.27,263.41 L765.94,263.29 L774.29,263.19 L782.97,263.10 L791.65,263.02 L800.00,262.95 L808.07,262.88 L816.13,262.83 L824.20,262.80 L832.27,262.76 L840.33,262.71 L848.40,262.64 L856.75,262.60 L865.43,262.59 L874.11,262.57 L882.46,262.50 L890.13,262.34 L896.80,262.04 L902.35,261.59 L907.02,261.01 L911.02,260.33 L914.55,259.60 L917.81,258.86 L921.00,258.13 L924.04,257.41 L926.74,256.67 L929.17,255.91 L931.40,255.14 L933.49,254.37 L935.52,253.61 L937.53,252.81 L939.46,251.94 L941.27,251.08 L942.87,250.27 L944.20,249.59 L945.20,249.10" stroke="#3b7fd0" stroke-width="1.0" fill="none"/>
<path d="M608.34,258.13 L613.37,257.93 L620.31,257.63 L628.54,257.28 L637.45,256.96 L646.41,256.72 L654.80,256.62 L663.03,256.68 L671.69,256.85 L680.39,257.10 L688.79,257.41 L696.51,257.76 L703.20,258.13 L708.63,258.54 L713.06,259.02 L716.81,259.54 L720.23,260.08 L723.65,260.62 L727.40,261.14 L731.43,261.67 L735.47,262.23 L739.50,262.80 L743.53,263.33 L747.57,263.79 L751.60,264.15 L755.63,264.42 L759.67,264.63 L763.70,264.77 L767.73,264.84 L771.77,264.84 L775.80,264.75 L779.55,264.59 L782.97,264.34 L786.39,264.02 L790.14,263.63 L794.57,263.17 L800.00,262.64 L806.95,262.03 L815.24,261.32 L824.20,260.54 L833.16,259.72 L841.45,258.91 L848.40,258.13 L853.89,257.38 L858.44,256.62 L862.31,255.87 L865.79,255.12 L869.13,254.37 L872.60,253.61 L876.33,252.81 L880.13,251.94 L883.79,251.08 L887.12,250.27 L889.91,249.59 L891.96,249.10" stroke="#b03cc0" stroke-width="1.0" fill="none"/>
<path d="M608.34,274.69 L610.74,273.47 L614.04,271.73 L617.96,269.70 L622.21,267.61 L626.52,265.68 L630.60,264.15 L634.52,263.03 L638.52,262.14 L642.58,261.42 L646.66,260.81 L650.74,260.23 L654.80,259.63 L658.83,259.05 L662.87,258.52 L666.90,258.04 L670.93,257.57 L674.97,257.11 L679.00,256.62 L683.03,256.12 L687.07,255.62 L691.10,255.12 L695.13,254.62 L699.17,254.12 L703.20,253.61 L707.35,253.10 L711.63,252.56 L715.90,252.02 L720.05,251.50 L723.93,251.02 L727.40,250.60 L730.55,250.25 L733.49,249.94 L736.17,249.66 L738.51,249.43 L740.45,249.25 L741.92,249.10" stroke="#5cbf5c" stroke-width="1.0" fill="none"/>
<path d="M608.34,283.71 L610.74,282.70 L614.04,281.26 L617.96,279.58 L622.21,277.81 L626.52,276.12 L630.60,274.69 L634.52,273.49 L638.52,272.40 L642.58,271.39 L646.66,270.45 L650.74,269.55 L654.80,268.67 L658.83,267.83 L662.87,267.05 L666.90,266.31 L670.93,265.60 L674.97,264.89 L679.00,264.15 L683.03,263.40 L687.07,262.64 L691.10,261.89 L695.13,261.14 L699.17,260.39 L703.20,259.63 L707.29,258.88 L711.45,258.13 L715.60,257.38 L719.69,256.62 L723.65,255.87 L727.40,255.12 L731.07,254.33 L734.75,253.50 L738.29,252.67 L741.56,251.89 L744.43,251.18 L746.76,250.60 L748.46,250.16 L749.63,249.82 L750.39,249.57 L750.88,249.38 L751.24,249.23 L751.60,249.10" stroke="#5cbf5c" stroke-width="1.0" fill="none"/>
<path d="M608.34,292.75 L610.74,291.38 L614.04,289.46 L617.96,287.20 L622.21,284.83 L626.52,282.59 L630.60,280.70 L634.52,279.17 L638.52,277.81 L642.58,276.57 L646.66,275.41 L650.74,274.29 L654.80,273.18 L658.83,272.07 L662.87,271.01 L666.90,269.98 L670.93,269.00 L674.97,268.06 L679.00,267.16 L683.03,266.32 L687.07,265.54 L691.10,264.81 L695.13,264.09 L699.17,263.38 L703.20,262.64 L707.29,261.91 L711.45,261.20 L715.60,260.48 L719.69,259.75 L723.65,258.97 L727.40,258.13 L731.02,257.18 L734.57,256.12 L737.99,255.03 L741.20,253.95 L744.15,252.96 L746.76,252.11 L749.05,251.40 L751.06,250.77 L752.81,250.23 L754.29,249.77 L755.50,249.39 L756.44,249.10" stroke="#b03cc0" stroke-width="1.0" fill="none"/>
<path d="M608.34,303.28 L610.74,301.77 L614.04,299.66 L617.96,297.17 L622.21,294.53 L626.52,291.98 L630.60,289.74 L634.52,287.76 L638.52,285.86 L642.58,284.03 L646.66,282.31 L650.74,280.69 L654.80,279.20 L658.83,277.87 L662.87,276.71 L666.90,275.66 L670.93,274.66 L674.97,273.65 L679.00,272.58 L683.03,271.45 L687.07,270.31 L691.10,269.17 L695.13,268.02 L699.17,266.85 L703.20,265.65 L707.29,264.44 L711.45,263.19 L715.60,261.93 L719.69,260.66 L723.65,259.39 L727.40,258.13 L731.07,256.81 L734.75,255.40 L738.29,253.99 L741.56,252.67 L744.43,251.51 L746.76,250.60 L748.46,249.99 L749.63,249.60 L750.39,249.38 L750.88,249.27 L751.24,249.19 L751.60,249.10" stroke="#1a1a1a" stroke-width="1.0" fill="none"/>
<path d="M608.34,255.12 L630.60,250.60 L645.12,249.10" stroke="#1a1a1a" stroke-width="1.0" fill="none"/>
<path d="M608.34,240.07 L630.60,243.08 L654.80,246.09 L669.32,249.10" stroke="#3cc8d8" stroke-width="1.0" fill="none"/>
<path d="M608.34,253.61 L610.74,254.19 L614.04,255.06 L617.96,256.06 L622.21,257.02 L626.52,257.76 L630.60,258.13 L634.52,258.06 L638.52,257.68 L642.58,257.10 L646.66,256.40 L650.74,255.71 L654.80,255.12 L658.83,254.62 L662.87,254.12 L666.90,253.62 L670.93,253.11 L674.97,252.61 L679.00,252.11 L683.31,251.57 L687.96,251.00 L692.61,250.42 L696.93,249.88 L700.57,249.43 L703.20,249.10" stroke="#3b7fd0" stroke-width="1.0" fill="none"/>
<path d="M608.34,244.59 L610.74,244.24 L614.04,243.75 L617.96,243.17 L622.21,242.58 L626.52,242.02 L630.60,241.57 L634.52,241.20 L638.52,240.85 L642.58,240.54 L646.66,240.29 L650.74,240.13 L654.80,240.07 L658.83,240.13 L662.87,240.29 L666.90,240.54 L670.93,240.85 L674.97,241.20 L679.00,241.57 L683.03,241.99 L687.07,242.47 L691.10,242.99 L695.13,243.53 L699.17,244.07 L703.20,244.59 L707.40,245.10 L711.80,245.64 L716.21,246.18 L720.41,246.70 L724.21,247.18 L727.40,247.59 L729.97,247.95 L732.06,248.26 L733.75,248.54 L735.11,248.77 L736.19,248.95 L737.08,249.10" stroke="#5cbf5c" stroke-width="1.0" fill="none"/>
<path d="M608.34,250.60 L610.74,249.42 L614.04,247.76 L617.96,245.81 L622.21,243.75 L626.52,241.77 L630.60,240.07 L634.52,238.61 L638.52,237.23 L642.58,235.93 L646.66,234.72 L650.74,233.59 L654.80,232.54 L658.95,231.60 L663.23,230.76 L667.50,230.01 L671.65,229.31 L675.53,228.66 L679.00,228.03 L681.92,227.41 L684.38,226.80 L686.56,226.24 L688.68,225.74 L690.93,225.33 L693.52,225.02 L696.41,224.78 L699.44,224.57 L702.60,224.46 L705.89,224.46 L709.32,224.64 L712.88,225.02 L716.75,225.67 L720.95,226.58 L725.28,227.65 L729.55,228.81 L733.55,229.97 L737.08,231.04 L740.00,232.01 L742.46,232.94 L744.64,233.86 L746.76,234.83 L749.01,235.88 L751.60,237.06 L754.66,238.46 L758.05,240.07 L761.58,241.76 L765.04,243.41 L768.24,244.90 L770.96,246.09 L773.25,246.97 L775.26,247.65 L777.01,248.16 L778.49,248.54 L779.70,248.84 L780.64,249.10" stroke="#3cc8d8" stroke-width="1.0" fill="none"/>
<path d="M608.34,259.63 L630.60,261.14 L654.80,253.61 L664.48,249.10" stroke="#1a1a1a" stroke-width="1.0" fill="none"/>
<text x="596.00" y="117.15" font-size="5.5" fill="#222">0</text>
<text x="596.00" y="407.62" font-size="5.5" fill="#222">9</text>
<text x="596.00" y="365.48" font-size="5.5" fill="#222">1</text>
<text x="596.00" y="175.85" font-size="5.5" fill="#222">3</text>
<text x="596.00" y="181.87" font-size="5.5" fill="#222">2</text>
<text x="596.00" y="193.91" font-size="5.5" fill="#222">6</text>
<text x="596.00" y="202.94" font-size="5.5" fill="#222">5</text>
<text x="596.00" y="205.95" font-size="5.5" fill="#222">8</text>
<text x="596.00" y="214.98" font-size="5.5" fill="#222">4</text>
<text x="596.00" y="213.47" font-size="5.5" fill="#222">7</text>
<text x="596.00" y="228.52" font-size="5.5" fill="#222">0</text>
<text x="596.00" y="233.04" font-size="5.5" fill="#222">9</text>
<text x="596.00" y="239.06" font-size="5.5" fill="#222">1</text>
<text x="596.00" y="243.57" font-size="5.5" fill="#222">3</text>
<text x="596.00" y="245.08" font-size="5.5" fill="#222">2</text>
<text x="596.00" y="248.09" font-size="5.5" fill="#222">6</text>
<text x="596.00" y="249.59" font-size="5.5" fill="#222">5</text>
<text x="596.00" y="254.11" font-size="5.5" fill="#222">8</text>
<text x="596.00" y="260.13" font-size="5.5" fill="#222">4</text>
<text x="596.00" y="264.64" font-size="5.5" fill="#222">7</text>
<text x="596.00" y="266.15" font-size="5.5" fill="#222">0</text>
<text x="596.00" y="267.65" font-size="5.5" fill="#222">9</text>
<text x="596.00" y="260.13" font-size="5.5" fill="#222">1</text>
<text x="596.00" y="276.69" font-size="5.5" fill="#222">3</text>
<text x="596.00" y="285.71" font-size="5.5" fill="#222">2</text>
<text x="596.00" y="294.75" font-size="5.5" fill="#222">6</text>
<text x="596.00" y="305.28" font-size="5.5" fill="#222">5</text>
<text x="596.00" y="257.12" font-size="5.5" fill="#222">8</text>
<text x="596.00" y="242.07" font-size="5.5" fill="#222">4</text>
<text x="596.00" y="255.61" font-size="5.5" fill="#222">7</text>
<text x="596.00" y="246.59" font-size="5.5" fill="#222">0</text>
<text x="596.00" y="252.60" font-size="5.5" fill="#222">9</text>
<text x="596.00" y="261.63" font-size="5.5" fill="#222">1</text>
<text x="1011.80" y="30.70" font-size="41.5">C</text>
<rect x="1083.30" y="104.40" width="363.70" height="310.90" fill="none" stroke="#333" stroke-width="1.2"/>
<line x1="1104.20" y1="415.30" x2="1104.20" y2="424.60" stroke="#333" stroke-width="1.1"/>
<text x="1104.20" y="447.00" font-size="15" text-anchor="middle">-10</text>
<line x1="1177.40" y1="415.30" x2="1177.40" y2="424.60" stroke="#333" stroke-width="1.1"/>
<text x="1177.40" y="447.00" font-size="15" text-anchor="middle">-8</text>
<line x1="1250.60" y1="415.30" x2="1250.60" y2="424.60" stroke="#333" stroke-width="1.1"/>
<text x="1250.60" y="447.00" font-size="15" text-anchor="middle">-6</text>
<line x1="1323.80" y1="415.30" x2="1323.80" y2="424.60" stroke="#333" stroke-width="1.1"/>
<text x="1323.80" y="447.00" font-size="15" text-anchor="middle">-4</text>
<line x1="1397.00" y1="415.30" x2="1397.00" y2="424.60" stroke="#333" stroke-width="1.1"/>
<text x="1397.00" y="447.00" font-size="15" text-anchor="middle">-2</text>
<text x="1096.00" y="84.00" font-size="15" text-anchor="middle">32</text>
<text x="1127.00" y="84.00" font-size="15" text-anchor="middle">32</text>
<text x="1157.30" y="84.00" font-size="15" text-anchor="middle">32</text>
<text x="1188.30" y="84.00" font-size="15" text-anchor="middle">33</text>
<text x="1218.40" y="84.00" font-size="15" text-anchor="middle">26</text>
<text x="1249.40" y="84.00" font-size="15" text-anchor="middle">25</text>
<text x="1279.70" y="84.00" font-size="15" text-anchor="middle">17</text>
<text x="1311.00" y="84.00" font-size="15" text-anchor="middle">12</text>
<text x="1341.10" y="84.00" font-size="15" text-anchor="middle">11</text>
<text x="1368.30" y="84.00" font-size="15" text-anchor="middle">9</text>
<text x="1392.30" y="84.00" font-size="15" text-anchor="middle">5</text>
<text x="1416.00" y="84.00" font-size="15" text-anchor="middle">1</text>
<line x1="1083.30" y1="394.40" x2="1074.00" y2="394.40" stroke="#333" stroke-width="1.1"/>
<text x="1062.50" y="394.40" font-size="15" text-anchor="middle" transform="rotate(-90 1062.50 394.40)">0.2</text>
<line x1="1083.30" y1="343.16" x2="1074.00" y2="343.16" stroke="#333" stroke-width="1.1"/>
<text x="1062.50" y="343.16" font-size="15" text-anchor="middle" transform="rotate(-90 1062.50 343.16)">0.4</text>
<line x1="1083.30" y1="291.92" x2="1074.00" y2="291.92" stroke="#333" stroke-width="1.1"/>
<text x="1062.50" y="291.92" font-size="15" text-anchor="middle" transform="rotate(-90 1062.50 291.92)">0.6</text>
<line x1="1083.30" y1="240.68" x2="1074.00" y2="240.68" stroke="#333" stroke-width="1.1"/>
<text x="1062.50" y="240.68" font-size="15" text-anchor="middle" transform="rotate(-90 1062.50 240.68)">0.8</text>
<line x1="1083.30" y1="189.44" x2="1074.00" y2="189.44" stroke="#333" stroke-width="1.1"/>
<text x="1062.50" y="189.44" font-size="15" text-anchor="middle" transform="rotate(-90 1062.50 189.44)">1.0</text>
<line x1="1083.30" y1="138.20" x2="1074.00" y2="138.20" stroke="#333" stroke-width="1.1"/>
<text x="1062.50" y="138.20" font-size="15" text-anchor="middle" transform="rotate(-90 1062.50 138.20)">1.2</text>
<text x="1264.00" y="480.50" font-size="15" text-anchor="middle">Log(λ)</text>
<text x="1026.20" y="259.00" font-size="15.2" text-anchor="middle" transform="rotate(-90 1026.20 259.00)">Binomial Deviance</text>
<path d="M1095.78,141.02V226.59M1092.48,141.02H1099.08M1092.48,226.59H1099.08M1099.19,143.64V227.89M1095.89,143.64H1102.49M1095.89,227.89H1102.49M1102.61,146.26V229.19M1099.31,146.26H1105.91M1099.31,229.19H1105.91M1106.02,148.93V230.54M1102.72,148.93H1109.32M1102.72,230.54H1109.32M1109.43,151.69V231.98M1106.13,151.69H1112.73M1106.13,231.98H1112.73M1112.84,154.42V233.39M1109.54,154.42H1116.14M1109.54,233.39H1116.14M1116.26,157.10V234.75M1112.96,157.10H1119.56M1112.96,234.75H1119.56M1119.67,160.10V236.43M1116.37,160.10H1122.97M1116.37,236.43H1122.97M1123.08,163.72V238.73M1119.78,163.72H1126.38M1119.78,238.73H1126.38M1126.49,168.13V241.72M1123.19,168.13H1129.79M1123.19,241.72H1129.79M1129.91,173.07V245.22M1126.61,173.07H1133.21M1126.61,245.22H1133.21M1133.32,178.28V248.99M1130.02,178.28H1136.62M1130.02,248.99H1136.62M1136.73,183.56V252.83M1133.43,183.56H1140.03M1133.43,252.83H1140.03M1140.14,188.71V256.55M1136.84,188.71H1143.44M1136.84,256.55H1143.44M1143.55,193.67V260.07M1140.25,193.67H1146.85M1140.25,260.07H1146.85M1146.97,198.56V263.53M1143.67,198.56H1150.27M1143.67,263.53H1150.27M1150.38,203.46V266.98M1147.08,203.46H1153.68M1147.08,266.98H1153.68M1153.79,208.42V270.51M1150.49,208.42H1157.09M1150.49,270.51H1157.09M1157.20,213.60V274.25M1153.90,213.60H1160.50M1153.90,274.25H1160.50M1160.62,220.42V277.71M1157.32,220.42H1163.92M1157.32,277.71H1163.92M1164.03,229.08V282.75M1160.73,229.08H1167.33M1160.73,282.75H1167.33M1167.44,237.84V287.88M1164.14,237.84H1170.74M1164.14,287.88H1170.74M1170.85,247.28V293.70M1167.55,247.28H1174.15M1167.55,293.70H1174.15M1174.26,258.44V301.23M1170.96,258.44H1177.56M1170.96,301.23H1177.56M1177.68,270.47V309.79M1174.38,270.47H1180.98M1174.38,309.79H1180.98M1181.09,280.84V318.39M1177.79,280.84H1184.39M1177.79,318.39H1184.39M1184.50,290.87V326.67M1181.20,290.87H1187.80M1181.20,326.67H1187.80M1187.91,300.50V334.53M1184.61,300.50H1191.21M1184.61,334.53H1191.21M1191.33,309.78V342.06M1188.03,309.78H1194.63M1188.03,342.06H1194.63M1194.74,319.03V349.54M1191.44,319.03H1198.04M1191.44,349.54H1198.04M1198.15,327.54V356.29M1194.85,327.54H1201.45M1194.85,356.29H1201.45M1201.56,334.39V361.43M1198.26,334.39H1204.86M1198.26,361.43H1204.86M1204.98,340.55V365.89M1201.68,340.55H1208.28M1201.68,365.89H1208.28M1208.39,346.82V370.45M1205.09,346.82H1211.69M1205.09,370.45H1211.69M1211.80,352.90V374.83M1208.50,352.90H1215.10M1208.50,374.83H1215.10M1215.21,358.58V378.80M1211.91,358.58H1218.51M1211.91,378.80H1218.51M1218.62,363.72V382.24M1215.32,363.72H1221.92M1215.32,382.24H1221.92M1222.04,367.45V386.04M1218.74,367.45H1225.34M1218.74,386.04H1225.34M1225.45,370.67V389.39M1222.15,370.67H1228.75M1222.15,389.39H1228.75M1228.86,373.23V392.10M1225.56,373.23H1232.16M1225.56,392.10H1232.16M1232.27,375.07V394.08M1228.97,375.07H1235.57M1228.97,394.08H1235.57M1235.69,376.41V395.57M1232.39,376.41H1238.99M1232.39,395.57H1238.99M1239.10,377.46V396.75M1235.80,377.46H1242.40M1235.80,396.75H1242.40M1242.51,378.33V397.77M1239.21,378.33H1245.81M1239.21,397.77H1245.81M1245.92,379.22V398.60M1242.62,379.22H1249.22M1242.62,398.60H1249.22M1249.34,380.07V399.33M1246.04,380.07H1252.64M1246.04,399.33H1252.64M1252.75,380.84V399.98M1249.45,380.84H1256.05M1249.45,399.98H1256.05M1256.16,381.53V400.55M1252.86,381.53H1259.46M1252.86,400.55H1259.46M1259.57,382.11V401.01M1256.27,382.11H1262.87M1256.27,401.01H1262.87M1262.98,382.55V401.34M1259.68,382.55H1266.28M1259.68,401.34H1266.28M1266.40,382.93V401.59M1263.10,382.93H1269.70M1263.10,401.59H1269.70M1269.81,383.30V401.84M1266.51,383.30H1273.11M1266.51,401.84H1273.11M1273.22,383.71V402.13M1269.92,383.71H1276.52M1269.92,402.13H1276.52M1276.63,384.25V402.55M1273.33,384.25H1279.93M1273.33,402.55H1279.93M1280.05,384.90V403.08M1276.75,384.90H1283.35M1276.75,403.08H1283.35M1283.46,385.63V403.69M1280.16,385.63H1286.76M1280.16,403.69H1286.76M1286.87,386.39V404.33M1283.57,386.39H1290.17M1283.57,404.33H1290.17M1290.28,387.33V404.98M1286.98,387.33H1293.58M1286.98,404.98H1293.58M1293.70,388.39V405.71M1290.40,388.39H1297.00M1290.40,405.71H1297.00M1297.11,389.17V406.18M1293.81,389.17H1300.41M1293.81,406.18H1300.41M1300.52,389.36V405.90M1297.22,389.36H1303.82M1297.22,405.90H1303.82M1303.93,389.02V405.01M1300.63,389.02H1307.23M1300.63,405.01H1307.23M1307.34,388.68V404.12M1304.04,388.68H1310.64M1304.04,404.12H1310.64M1310.76,388.58V403.48M1307.46,388.58H1314.06M1307.46,403.48H1314.06M1314.17,388.43V402.78M1310.87,388.43H1317.47M1310.87,402.78H1317.47M1317.58,387.89V401.70M1314.28,387.89H1320.88M1314.28,401.70H1320.88M1320.99,386.86V400.12M1317.69,386.86H1324.29M1317.69,400.12H1324.29M1324.41,385.55V398.23M1321.11,385.55H1327.71M1321.11,398.23H1327.71M1327.82,384.27V396.18M1324.52,384.27H1331.12M1324.52,396.18H1331.12M1331.23,383.07V394.21M1327.93,383.07H1334.53M1327.93,394.21H1334.53M1334.64,381.87V392.25M1331.34,381.87H1337.94M1331.34,392.25H1337.94M1338.06,380.52V390.14M1334.76,380.52H1341.36M1334.76,390.14H1341.36M1341.47,378.89V387.74M1338.17,378.89H1344.77M1338.17,387.74H1344.77M1344.88,376.56V385.51M1341.58,376.56H1348.18M1341.58,385.51H1348.18M1348.29,373.94V383.17M1344.99,373.94H1351.59M1344.99,383.17H1351.59M1351.70,371.06V380.58M1348.40,371.06H1355.00M1348.40,380.58H1355.00M1355.12,367.87V377.67M1351.82,367.87H1358.42M1351.82,377.67H1358.42M1358.53,364.34V374.43M1355.23,364.34H1361.83M1355.23,374.43H1361.83M1361.94,360.50V370.92M1358.64,360.50H1365.24M1358.64,370.92H1365.24M1365.35,356.32V367.12M1362.05,356.32H1368.65M1362.05,367.12H1368.65M1368.77,351.73V362.91M1365.47,351.73H1372.07M1365.47,362.91H1372.07M1372.18,346.56V358.13M1368.88,346.56H1375.48M1368.88,358.13H1375.48M1375.59,340.65V352.60M1372.29,340.65H1378.89M1372.29,352.60H1378.89M1379.00,334.03V346.38M1375.70,334.03H1382.30M1375.70,346.38H1382.30M1382.42,326.52V339.44M1379.12,326.52H1385.72M1379.12,339.44H1385.72M1385.83,318.34V331.83M1382.53,318.34H1389.13M1382.53,331.83H1389.13M1389.24,310.10V324.17M1385.94,310.10H1392.54M1385.94,324.17H1392.54M1392.65,302.16V316.80M1389.35,302.16H1395.95M1389.35,316.80H1395.95M1396.06,293.79V309.01M1392.76,293.79H1399.36M1392.76,309.01H1399.36M1399.48,284.53V300.36M1396.18,284.53H1402.78M1396.18,300.36H1402.78M1402.89,274.24V290.71M1399.59,274.24H1406.19M1399.59,290.71H1406.19M1406.30,262.04V279.15M1403.00,262.04H1409.60M1403.00,279.15H1409.60M1409.71,248.52V266.67M1406.41,248.52H1413.01M1406.41,266.67H1413.01M1413.13,234.86V254.45M1409.83,234.86H1416.43M1409.83,254.45H1416.43M1416.54,220.60V241.68M1413.24,220.60H1419.84M1413.24,241.68H1419.84M1419.95,206.12V228.78M1416.65,206.12H1423.25M1416.65,228.78H1423.25M1423.36,189.92V214.18M1420.06,189.92H1426.66M1420.06,214.18H1426.66M1426.78,169.15V195.11M1423.48,169.15H1430.08M1423.48,195.11H1430.08M1430.19,145.08V173.43M1426.89,145.08H1433.49M1426.89,173.43H1433.49M1433.60,116.04V146.78M1430.30,116.04H1436.90M1430.30,146.78H1436.90" stroke="#a9a9a9" stroke-width="1.0" fill="none"/>
<path d="M1095.78,181.45L1098.13,183.80L1095.78,186.15L1093.43,183.80Z" fill="#f00000"/>
<path d="M1099.19,183.41L1101.54,185.76L1099.19,188.11L1096.84,185.76Z" fill="#f00000"/>
<path d="M1102.61,185.37L1104.96,187.72L1102.61,190.07L1100.26,187.72Z" fill="#f00000"/>
<path d="M1106.02,187.38L1108.37,189.73L1106.02,192.08L1103.67,189.73Z" fill="#f00000"/>
<path d="M1109.43,189.49L1111.78,191.84L1109.43,194.19L1107.08,191.84Z" fill="#f00000"/>
<path d="M1112.84,191.56L1115.19,193.91L1112.84,196.26L1110.49,193.91Z" fill="#f00000"/>
<path d="M1116.26,193.58L1118.61,195.93L1116.26,198.28L1113.91,195.93Z" fill="#f00000"/>
<path d="M1119.67,195.92L1122.02,198.27L1119.67,200.62L1117.32,198.27Z" fill="#f00000"/>
<path d="M1123.08,198.88L1125.43,201.23L1123.08,203.58L1120.73,201.23Z" fill="#f00000"/>
<path d="M1126.49,202.57L1128.84,204.92L1126.49,207.27L1124.14,204.92Z" fill="#f00000"/>
<path d="M1129.91,206.80L1132.26,209.15L1129.91,211.50L1127.56,209.15Z" fill="#f00000"/>
<path d="M1133.32,211.29L1135.67,213.64L1133.32,215.99L1130.97,213.64Z" fill="#f00000"/>
<path d="M1136.73,215.84L1139.08,218.19L1136.73,220.54L1134.38,218.19Z" fill="#f00000"/>
<path d="M1140.14,220.28L1142.49,222.63L1140.14,224.98L1137.79,222.63Z" fill="#f00000"/>
<path d="M1143.55,224.52L1145.90,226.87L1143.55,229.22L1141.20,226.87Z" fill="#f00000"/>
<path d="M1146.97,228.70L1149.32,231.05L1146.97,233.40L1144.62,231.05Z" fill="#f00000"/>
<path d="M1150.38,232.87L1152.73,235.22L1150.38,237.57L1148.03,235.22Z" fill="#f00000"/>
<path d="M1153.79,237.12L1156.14,239.47L1153.79,241.82L1151.44,239.47Z" fill="#f00000"/>
<path d="M1157.20,241.58L1159.55,243.93L1157.20,246.28L1154.85,243.93Z" fill="#f00000"/>
<path d="M1160.62,246.72L1162.97,249.07L1160.62,251.42L1158.27,249.07Z" fill="#f00000"/>
<path d="M1164.03,253.56L1166.38,255.91L1164.03,258.26L1161.68,255.91Z" fill="#f00000"/>
<path d="M1167.44,260.51L1169.79,262.86L1167.44,265.21L1165.09,262.86Z" fill="#f00000"/>
<path d="M1170.85,268.14L1173.20,270.49L1170.85,272.84L1168.50,270.49Z" fill="#f00000"/>
<path d="M1174.26,277.49L1176.61,279.84L1174.26,282.19L1171.91,279.84Z" fill="#f00000"/>
<path d="M1177.68,287.78L1180.03,290.13L1177.68,292.48L1175.33,290.13Z" fill="#f00000"/>
<path d="M1181.09,297.27L1183.44,299.62L1181.09,301.97L1178.74,299.62Z" fill="#f00000"/>
<path d="M1184.50,306.42L1186.85,308.77L1184.50,311.12L1182.15,308.77Z" fill="#f00000"/>
<path d="M1187.91,315.16L1190.26,317.51L1187.91,319.86L1185.56,317.51Z" fill="#f00000"/>
<path d="M1191.33,323.57L1193.68,325.92L1191.33,328.27L1188.98,325.92Z" fill="#f00000"/>
<path d="M1194.74,331.94L1197.09,334.29L1194.74,336.64L1192.39,334.29Z" fill="#f00000"/>
<path d="M1198.15,339.56L1200.50,341.91L1198.15,344.26L1195.80,341.91Z" fill="#f00000"/>
<path d="M1201.56,345.56L1203.91,347.91L1201.56,350.26L1199.21,347.91Z" fill="#f00000"/>
<path d="M1204.98,350.87L1207.33,353.22L1204.98,355.57L1202.63,353.22Z" fill="#f00000"/>
<path d="M1208.39,356.29L1210.74,358.64L1208.39,360.99L1206.04,358.64Z" fill="#f00000"/>
<path d="M1211.80,361.51L1214.15,363.86L1211.80,366.21L1209.45,363.86Z" fill="#f00000"/>
<path d="M1215.21,366.34L1217.56,368.69L1215.21,371.04L1212.86,368.69Z" fill="#f00000"/>
<path d="M1218.62,370.63L1220.97,372.98L1218.62,375.33L1216.27,372.98Z" fill="#f00000"/>
<path d="M1222.04,374.39L1224.39,376.74L1222.04,379.09L1219.69,376.74Z" fill="#f00000"/>
<path d="M1225.45,377.68L1227.80,380.03L1225.45,382.38L1223.10,380.03Z" fill="#f00000"/>
<path d="M1228.86,380.32L1231.21,382.67L1228.86,385.02L1226.51,382.67Z" fill="#f00000"/>
<path d="M1232.27,382.22L1234.62,384.57L1232.27,386.92L1229.92,384.57Z" fill="#f00000"/>
<path d="M1235.69,383.64L1238.04,385.99L1235.69,388.34L1233.34,385.99Z" fill="#f00000"/>
<path d="M1239.10,384.75L1241.45,387.10L1239.10,389.45L1236.75,387.10Z" fill="#f00000"/>
<path d="M1242.51,385.70L1244.86,388.05L1242.51,390.40L1240.16,388.05Z" fill="#f00000"/>
<path d="M1245.92,386.56L1248.27,388.91L1245.92,391.26L1243.57,388.91Z" fill="#f00000"/>
<path d="M1249.34,387.35L1251.69,389.70L1249.34,392.05L1246.99,389.70Z" fill="#f00000"/>
<path d="M1252.75,388.06L1255.10,390.41L1252.75,392.76L1250.40,390.41Z" fill="#f00000"/>
<path d="M1256.16,388.69L1258.51,391.04L1256.16,393.39L1253.81,391.04Z" fill="#f00000"/>
<path d="M1259.57,389.21L1261.92,391.56L1259.57,393.91L1257.22,391.56Z" fill="#f00000"/>
<path d="M1262.98,389.60L1265.33,391.95L1262.98,394.30L1260.63,391.95Z" fill="#f00000"/>
<path d="M1266.40,389.91L1268.75,392.26L1266.40,394.61L1264.05,392.26Z" fill="#f00000"/>
<path d="M1269.81,390.22L1272.16,392.57L1269.81,394.92L1267.46,392.57Z" fill="#f00000"/>
<path d="M1273.22,390.57L1275.57,392.92L1273.22,395.27L1270.87,392.92Z" fill="#f00000"/>
<path d="M1276.63,391.05L1278.98,393.40L1276.63,395.75L1274.28,393.40Z" fill="#f00000"/>
<path d="M1280.05,391.64L1282.40,393.99L1280.05,396.34L1277.70,393.99Z" fill="#f00000"/>
<path d="M1283.46,392.31L1285.81,394.66L1283.46,397.01L1281.11,394.66Z" fill="#f00000"/>
<path d="M1286.87,393.01L1289.22,395.36L1286.87,397.71L1284.52,395.36Z" fill="#f00000"/>
<path d="M1290.28,393.81L1292.63,396.16L1290.28,398.51L1287.93,396.16Z" fill="#f00000"/>
<path d="M1293.70,394.70L1296.05,397.05L1293.70,399.40L1291.35,397.05Z" fill="#f00000"/>
<path d="M1297.11,395.32L1299.46,397.67L1297.11,400.02L1294.76,397.67Z" fill="#f00000"/>
<path d="M1300.52,395.28L1302.87,397.63L1300.52,399.98L1298.17,397.63Z" fill="#f00000"/>
<path d="M1303.93,394.67L1306.28,397.02L1303.93,399.37L1301.58,397.02Z" fill="#f00000"/>
<path d="M1307.34,394.05L1309.69,396.40L1307.34,398.75L1304.99,396.40Z" fill="#f00000"/>
<path d="M1310.76,393.68L1313.11,396.03L1310.76,398.38L1308.41,396.03Z" fill="#f00000"/>
<path d="M1314.17,393.26L1316.52,395.61L1314.17,397.96L1311.82,395.61Z" fill="#f00000"/>
<path d="M1317.58,392.45L1319.93,394.80L1317.58,397.15L1315.23,394.80Z" fill="#f00000"/>
<path d="M1320.99,391.14L1323.34,393.49L1320.99,395.84L1318.64,393.49Z" fill="#f00000"/>
<path d="M1324.41,389.54L1326.76,391.89L1324.41,394.24L1322.06,391.89Z" fill="#f00000"/>
<path d="M1327.82,387.87L1330.17,390.22L1327.82,392.57L1325.47,390.22Z" fill="#f00000"/>
<path d="M1331.23,386.29L1333.58,388.64L1331.23,390.99L1328.88,388.64Z" fill="#f00000"/>
<path d="M1334.64,384.71L1336.99,387.06L1334.64,389.41L1332.29,387.06Z" fill="#f00000"/>
<path d="M1338.06,382.98L1340.41,385.33L1338.06,387.68L1335.71,385.33Z" fill="#f00000"/>
<path d="M1341.47,380.97L1343.82,383.32L1341.47,385.67L1339.12,383.32Z" fill="#f00000"/>
<path d="M1344.88,378.68L1347.23,381.03L1344.88,383.38L1342.53,381.03Z" fill="#f00000"/>
<path d="M1348.29,376.20L1350.64,378.55L1348.29,380.90L1345.94,378.55Z" fill="#f00000"/>
<path d="M1351.70,373.47L1354.05,375.82L1351.70,378.17L1349.35,375.82Z" fill="#f00000"/>
<path d="M1355.12,370.42L1357.47,372.77L1355.12,375.12L1352.77,372.77Z" fill="#f00000"/>
<path d="M1358.53,367.04L1360.88,369.39L1358.53,371.74L1356.18,369.39Z" fill="#f00000"/>
<path d="M1361.94,363.36L1364.29,365.71L1361.94,368.06L1359.59,365.71Z" fill="#f00000"/>
<path d="M1365.35,359.37L1367.70,361.72L1365.35,364.07L1363.00,361.72Z" fill="#f00000"/>
<path d="M1368.77,354.97L1371.12,357.32L1368.77,359.67L1366.42,357.32Z" fill="#f00000"/>
<path d="M1372.18,349.99L1374.53,352.34L1372.18,354.69L1369.83,352.34Z" fill="#f00000"/>
<path d="M1375.59,344.28L1377.94,346.63L1375.59,348.98L1373.24,346.63Z" fill="#f00000"/>
<path d="M1379.00,337.86L1381.35,340.21L1379.00,342.56L1376.65,340.21Z" fill="#f00000"/>
<path d="M1382.42,330.63L1384.77,332.98L1382.42,335.33L1380.07,332.98Z" fill="#f00000"/>
<path d="M1385.83,322.74L1388.18,325.09L1385.83,327.44L1383.48,325.09Z" fill="#f00000"/>
<path d="M1389.24,314.78L1391.59,317.13L1389.24,319.48L1386.89,317.13Z" fill="#f00000"/>
<path d="M1392.65,307.13L1395.00,309.48L1392.65,311.83L1390.30,309.48Z" fill="#f00000"/>
<path d="M1396.06,299.05L1398.41,301.40L1396.06,303.75L1393.71,301.40Z" fill="#f00000"/>
<path d="M1399.48,290.10L1401.83,292.45L1399.48,294.80L1397.13,292.45Z" fill="#f00000"/>
<path d="M1402.89,280.12L1405.24,282.47L1402.89,284.82L1400.54,282.47Z" fill="#f00000"/>
<path d="M1406.30,268.25L1408.65,270.60L1406.30,272.95L1403.95,270.60Z" fill="#f00000"/>
<path d="M1409.71,255.25L1412.06,257.60L1409.71,259.95L1407.36,257.60Z" fill="#f00000"/>
<path d="M1413.13,242.31L1415.48,244.66L1413.13,247.01L1410.78,244.66Z" fill="#f00000"/>
<path d="M1416.54,228.79L1418.89,231.14L1416.54,233.49L1414.19,231.14Z" fill="#f00000"/>
<path d="M1419.95,215.10L1422.30,217.45L1419.95,219.80L1417.60,217.45Z" fill="#f00000"/>
<path d="M1423.36,199.70L1425.71,202.05L1423.36,204.40L1421.01,202.05Z" fill="#f00000"/>
<path d="M1426.78,179.78L1429.13,182.13L1426.78,184.48L1424.43,182.13Z" fill="#f00000"/>
<path d="M1430.19,156.90L1432.54,159.25L1430.19,161.60L1427.84,159.25Z" fill="#f00000"/>
<path d="M1433.60,129.06L1435.95,131.41L1433.60,133.76L1431.25,131.41Z" fill="#f00000"/>
<line x1="1297.81" y1="104.40" x2="1297.81" y2="415.30" stroke="#333" stroke-width="1.2" stroke-dasharray="1.4,1.4"/>
<line x1="1328.19" y1="104.40" x2="1328.19" y2="415.30" stroke="#333" stroke-width="1.2" stroke-dasharray="1.4,1.4"/>
<text x="0.50" y="553.90" font-size="41.5">D</text>
<text x="783.70" y="571.50" font-size="18.8" text-anchor="middle" font-weight="bold" font-style="italic">Lasso_Logistic</text>
<text x="460.80" y="586.70" font-size="15.5" font-style="italic">Points</text>
<line x1="573.60" y1="583.60" x2="992.60" y2="583.60" stroke="#000" stroke-width="2.4"/>
<line x1="573.60" y1="583.60" x2="573.60" y2="587.60" stroke="#000" stroke-width="1.6"/>
<text x="573.60" y="604.00" font-size="15.5" text-anchor="middle">0</text>
<line x1="615.50" y1="583.60" x2="615.50" y2="587.60" stroke="#000" stroke-width="1.6"/>
<text x="615.50" y="604.00" font-size="15.5" text-anchor="middle">10</text>
<line x1="657.40" y1="583.60" x2="657.40" y2="587.60" stroke="#000" stroke-width="1.6"/>
<text x="657.40" y="604.00" font-size="15.5" text-anchor="middle">20</text>
<line x1="699.30" y1="583.60" x2="699.30" y2="587.60" stroke="#000" stroke-width="1.6"/>
<text x="699.30" y="604.00" font-size="15.5" text-anchor="middle">30</text>
<line x1="741.20" y1="583.60" x2="741.20" y2="587.60" stroke="#000" stroke-width="1.6"/>
<text x="741.20" y="604.00" font-size="15.5" text-anchor="middle">40</text>
<line x1="783.10" y1="583.60" x2="783.10" y2="587.60" stroke="#000" stroke-width="1.6"/>
<text x="783.10" y="604.00" font-size="15.5" text-anchor="middle">50</text>
<line x1="825.00" y1="583.60" x2="825.00" y2="587.60" stroke="#000" stroke-width="1.6"/>
<text x="825.00" y="604.00" font-size="15.5" text-anchor="middle">60</text>
<line x1="866.90" y1="583.60" x2="866.90" y2="587.60" stroke="#000" stroke-width="1.6"/>
<text x="866.90" y="604.00" font-size="15.5" text-anchor="middle">70</text>
<line x1="908.80" y1="583.60" x2="908.80" y2="587.60" stroke="#000" stroke-width="1.6"/>
<text x="908.80" y="604.00" font-size="15.5" text-anchor="middle">80</text>
<line x1="950.70" y1="583.60" x2="950.70" y2="587.60" stroke="#000" stroke-width="1.6"/>
<text x="950.70" y="604.00" font-size="15.5" text-anchor="middle">90</text>
<line x1="992.60" y1="583.60" x2="992.60" y2="587.60" stroke="#000" stroke-width="1.6"/>
<text x="992.60" y="604.00" font-size="15.5" text-anchor="middle">100</text>
<text x="460.50" y="625.10" font-size="17.5">MAPT</text>
<text x="460.50" y="676.20" font-size="17.5">VIPR1</text>
<text x="460.50" y="727.00" font-size="17.5">TNFRSF4</text>
<text x="460.50" y="777.50" font-size="17.5">CCR1**</text>
<text x="460.50" y="828.80" font-size="17.5">BIRC5*</text>
<text x="460.50" y="880.80" font-size="17.5">RFX5*</text>
<text x="460.50" y="932.30" font-size="17.5">APLN**</text>
<path d="M712.10,632.97 L712.94,632.62 L714.15,632.12 L715.51,631.63 L716.80,631.33 L717.97,631.36 L719.14,631.61 L720.32,631.83 L721.49,631.80 L722.67,631.31 L723.84,630.55 L725.01,629.82 L726.19,629.45 L727.39,629.64 L728.61,630.20 L729.79,630.79 L730.88,631.09 L731.82,631.08 L732.65,630.90 L733.47,630.52 L734.41,629.92 L735.50,628.95 L736.68,627.69 L737.90,626.36 L739.10,625.22 L740.28,624.28 L741.45,623.43 L742.63,622.71 L743.80,622.17 L745.00,621.80 L746.22,621.60 L747.40,621.56 L748.50,621.70 L749.49,622.23 L750.40,623.06 L751.25,623.81 L752.02,624.05 L752.66,623.74 L753.19,623.09 L753.72,622.04 L754.37,620.53 L755.19,618.20 L756.13,615.21 L757.06,612.24 L757.89,609.96 L758.53,608.55 L759.06,607.65 L759.59,607.15 L760.24,606.91 L761.03,607.14 L761.92,607.83 L762.85,608.53 L763.76,608.78 L764.65,608.43 L765.56,607.73 L766.45,606.85 L767.28,605.97 L768.03,604.88 L768.72,603.57 L769.39,602.53 L770.10,602.21 L770.83,602.92 L771.58,604.35 L772.35,606.06 L773.15,607.61 L774.00,609.13 L774.88,610.78 L775.78,612.13 L776.67,612.78 L777.53,612.42 L778.36,611.35 L779.23,610.00 L780.19,608.78 L781.31,607.64 L782.54,606.41 L783.77,605.36 L784.89,604.79 L785.85,604.87 L786.73,605.41 L787.56,606.17 L788.41,606.91 L789.29,607.70 L790.17,608.64 L791.05,609.47 L791.93,609.96 L792.83,609.78 L793.74,609.15 L794.63,608.63 L795.46,608.78 L796.22,610.19 L796.94,612.41 L797.62,614.46 L798.27,615.36 L798.89,614.62 L799.48,612.85 L800.05,610.69 L800.62,608.78 L801.22,606.96 L801.83,605.00 L802.42,603.46 L802.97,602.91 L803.43,603.83 L803.84,605.81 L804.28,608.09 L804.85,609.96 L805.61,611.27 L806.51,612.41 L807.45,613.38 L808.37,614.19 L809.25,614.80 L810.13,615.23 L811.01,615.54 L811.89,615.83 L812.75,616.05 L813.58,616.18 L814.45,616.31 L815.42,616.53 L816.51,616.93 L817.69,617.43 L818.91,617.89 L820.11,618.18 L821.30,618.19 L822.49,618.02 L823.67,617.81 L824.81,617.71 L825.93,617.71 L827.04,617.77 L828.09,617.91 L829.03,618.18 L829.82,618.57 L830.49,619.06 L831.13,619.70 L831.85,620.53 L832.66,621.81 L833.50,623.43 L834.39,624.89 L835.37,625.69 L836.47,625.44 L837.65,624.49 L838.87,623.43 L840.07,622.87 L841.22,622.99 L842.35,623.46 L843.51,624.11 L844.77,624.75 L846.18,625.41 L847.70,626.16 L849.22,626.91 L850.64,627.57 L851.89,628.11 L853.06,628.58 L854.19,629.02 L855.33,629.45 L856.53,629.89 L857.75,630.31 L858.94,630.72 L860.03,631.09 L860.96,631.47 L861.79,631.84 L862.62,632.13 L863.55,632.27 L864.64,632.12 L865.83,631.78 L867.05,631.45 L868.25,631.33 L869.34,631.54 L870.38,631.96 L871.52,632.41 L872.94,632.74 L874.72,632.91 L876.76,633.01 L878.94,633.04 L881.16,632.97 L883.54,632.72 L886.08,632.32 L888.51,631.96 L890.55,631.80 L892.17,631.95 L893.49,632.31 L894.52,632.70 L895.25,632.97 L895.25,633.30 L712.10,633.30 Z" fill="#ebebeb" stroke="none"/>
<path d="M712.10,632.97 L712.94,632.62 L714.15,632.12 L715.51,631.63 L716.80,631.33 L717.97,631.36 L719.14,631.61 L720.32,631.83 L721.49,631.80 L722.67,631.31 L723.84,630.55 L725.01,629.82 L726.19,629.45 L727.39,629.64 L728.61,630.20 L729.79,630.79 L730.88,631.09 L731.82,631.08 L732.65,630.90 L733.47,630.52 L734.41,629.92 L735.50,628.95 L736.68,627.69 L737.90,626.36 L739.10,625.22 L740.28,624.28 L741.45,623.43 L742.63,622.71 L743.80,622.17 L745.00,621.80 L746.22,621.60 L747.40,621.56 L748.50,621.70 L749.49,622.23 L750.40,623.06 L751.25,623.81 L752.02,624.05 L752.66,623.74 L753.19,623.09 L753.72,622.04 L754.37,620.53 L755.19,618.20 L756.13,615.21 L757.06,612.24 L757.89,609.96 L758.53,608.55 L759.06,607.65 L759.59,607.15 L760.24,606.91 L761.03,607.14 L761.92,607.83 L762.85,608.53 L763.76,608.78 L764.65,608.43 L765.56,607.73 L766.45,606.85 L767.28,605.97 L768.03,604.88 L768.72,603.57 L769.39,602.53 L770.10,602.21 L770.83,602.92 L771.58,604.35 L772.35,606.06 L773.15,607.61 L774.00,609.13 L774.88,610.78 L775.78,612.13 L776.67,612.78 L777.53,612.42 L778.36,611.35 L779.23,610.00 L780.19,608.78 L781.31,607.64 L782.54,606.41 L783.77,605.36 L784.89,604.79 L785.85,604.87 L786.73,605.41 L787.56,606.17 L788.41,606.91 L789.29,607.70 L790.17,608.64 L791.05,609.47 L791.93,609.96 L792.83,609.78 L793.74,609.15 L794.63,608.63 L795.46,608.78 L796.22,610.19 L796.94,612.41 L797.62,614.46 L798.27,615.36 L798.89,614.62 L799.48,612.85 L800.05,610.69 L800.62,608.78 L801.22,606.96 L801.83,605.00 L802.42,603.46 L802.97,602.91 L803.43,603.83 L803.84,605.81 L804.28,608.09 L804.85,609.96 L805.61,611.27 L806.51,612.41 L807.45,613.38 L808.37,614.19 L809.25,614.80 L810.13,615.23 L811.01,615.54 L811.89,615.83 L812.75,616.05 L813.58,616.18 L814.45,616.31 L815.42,616.53 L816.51,616.93 L817.69,617.43 L818.91,617.89 L820.11,618.18 L821.30,618.19 L822.49,618.02 L823.67,617.81 L824.81,617.71 L825.93,617.71 L827.04,617.77 L828.09,617.91 L829.03,618.18 L829.82,618.57 L830.49,619.06 L831.13,619.70 L831.85,620.53 L832.66,621.81 L833.50,623.43 L834.39,624.89 L835.37,625.69 L836.47,625.44 L837.65,624.49 L838.87,623.43 L840.07,622.87 L841.22,622.99 L842.35,623.46 L843.51,624.11 L844.77,624.75 L846.18,625.41 L847.70,626.16 L849.22,626.91 L850.64,627.57 L851.89,628.11 L853.06,628.58 L854.19,629.02 L855.33,629.45 L856.53,629.89 L857.75,630.31 L858.94,630.72 L860.03,631.09 L860.96,631.47 L861.79,631.84 L862.62,632.13 L863.55,632.27 L864.64,632.12 L865.83,631.78 L867.05,631.45 L868.25,631.33 L869.34,631.54 L870.38,631.96 L871.52,632.41 L872.94,632.74 L874.72,632.91 L876.76,633.01 L878.94,633.04 L881.16,632.97 L883.54,632.72 L886.08,632.32 L888.51,631.96 L890.55,631.80 L892.17,631.95 L893.49,632.31 L894.52,632.70 L895.25,632.97" fill="none" stroke="#0b0be6" stroke-width="2.6" stroke-linejoin="round"/>
<path d="M680.40,683.92 L681.03,683.56 L681.94,683.04 L682.96,682.49 L683.92,682.04 L684.80,681.67 L685.68,681.31 L686.56,681.09 L687.45,681.11 L688.27,681.52 L689.06,682.22 L689.92,682.95 L690.97,683.45 L692.32,683.80 L693.90,684.08 L695.48,684.05 L696.84,683.45 L697.88,681.99 L698.75,679.87 L699.53,677.61 L700.36,675.70 L701.24,674.22 L702.12,672.90 L703.00,671.81 L703.88,671.01 L704.76,670.63 L705.64,670.60 L706.52,670.66 L707.40,670.54 L708.31,670.21 L709.24,669.79 L710.13,669.28 L710.93,668.66 L711.58,667.87 L712.14,666.93 L712.68,665.98 L713.27,665.14 L713.94,664.33 L714.64,663.52 L715.36,662.94 L716.09,662.79 L716.83,663.23 L717.57,664.11 L718.34,665.21 L719.14,666.31 L719.94,667.48 L720.73,668.78 L721.61,670.02 L722.67,671.01 L724.00,671.65 L725.53,672.07 L727.10,672.36 L728.54,672.65 L729.79,672.95 L730.96,673.20 L732.09,673.41 L733.23,673.59 L734.41,673.76 L735.58,673.90 L736.75,674.00 L737.93,674.06 L739.10,674.00 L740.28,673.86 L741.45,673.75 L742.63,673.83 L743.80,674.11 L744.97,674.53 L746.15,675.07 L747.32,675.70 L748.50,676.58 L749.67,677.66 L750.84,678.64 L752.02,679.23 L753.22,679.22 L754.44,678.82 L755.62,678.32 L756.71,678.05 L757.70,678.06 L758.62,678.19 L759.47,678.42 L760.24,678.76 L760.88,679.25 L761.41,679.87 L761.94,680.53 L762.58,681.11 L763.38,681.71 L764.27,682.37 L765.20,682.80 L766.11,682.75 L766.99,681.99 L767.87,680.72 L768.75,679.29 L769.63,678.05 L770.48,677.05 L771.32,676.12 L772.19,675.27 L773.15,674.53 L774.27,674.02 L775.50,673.69 L776.73,673.31 L777.85,672.65 L778.84,671.55 L779.75,670.17 L780.60,668.74 L781.37,667.49 L782.01,666.27 L782.54,665.04 L783.07,664.15 L783.72,663.96 L784.51,664.96 L785.40,666.83 L786.33,668.72 L787.24,669.83 L788.12,669.80 L789.00,669.10 L789.88,668.18 L790.76,667.49 L791.64,667.03 L792.52,666.61 L793.40,666.33 L794.28,666.31 L795.16,666.68 L796.04,667.34 L796.92,668.07 L797.81,668.66 L798.69,669.23 L799.57,669.83 L800.45,670.15 L801.33,669.83 L802.21,668.56 L803.09,666.58 L803.97,664.46 L804.85,662.79 L805.73,661.55 L806.61,660.49 L807.49,659.81 L808.37,659.74 L809.25,660.47 L810.13,661.85 L811.01,663.52 L811.89,665.14 L812.77,666.84 L813.65,668.75 L814.54,670.43 L815.42,671.48 L816.30,671.65 L817.18,671.20 L818.06,670.48 L818.94,669.83 L819.82,669.21 L820.70,668.48 L821.58,667.84 L822.46,667.49 L823.34,667.78 L824.22,668.51 L825.10,669.03 L825.98,668.66 L826.89,666.92 L827.82,664.26 L828.71,661.45 L829.50,659.27 L830.15,657.88 L830.68,656.88 L831.21,656.19 L831.85,655.75 L832.65,655.71 L833.54,656.07 L834.47,656.44 L835.37,656.45 L836.28,655.85 L837.21,654.90 L838.10,653.95 L838.90,653.40 L839.57,653.23 L840.14,653.28 L840.68,653.68 L841.24,654.57 L841.80,656.27 L842.35,658.61 L842.92,660.98 L843.59,662.79 L844.39,663.87 L845.28,664.55 L846.21,664.94 L847.11,665.14 L848.02,665.04 L848.95,664.62 L849.84,664.18 L850.64,663.96 L851.28,663.90 L851.81,663.89 L852.34,664.21 L852.98,665.14 L853.78,667.03 L854.67,669.64 L855.60,672.35 L856.51,674.53 L857.36,676.01 L858.19,677.13 L859.07,678.00 L860.03,678.76 L861.15,679.33 L862.38,679.70 L863.61,680.00 L864.73,680.40 L865.72,680.98 L866.63,681.63 L867.48,682.26 L868.25,682.75 L868.97,683.06 L869.64,683.25 L870.20,683.37 L870.60,683.45 L870.60,684.20 L680.40,684.20 Z" fill="#ebebeb" stroke="none"/>
<path d="M680.40,683.92 L681.03,683.56 L681.94,683.04 L682.96,682.49 L683.92,682.04 L684.80,681.67 L685.68,681.31 L686.56,681.09 L687.45,681.11 L688.27,681.52 L689.06,682.22 L689.92,682.95 L690.97,683.45 L692.32,683.80 L693.90,684.08 L695.48,684.05 L696.84,683.45 L697.88,681.99 L698.75,679.87 L699.53,677.61 L700.36,675.70 L701.24,674.22 L702.12,672.90 L703.00,671.81 L703.88,671.01 L704.76,670.63 L705.64,670.60 L706.52,670.66 L707.40,670.54 L708.31,670.21 L709.24,669.79 L710.13,669.28 L710.93,668.66 L711.58,667.87 L712.14,666.93 L712.68,665.98 L713.27,665.14 L713.94,664.33 L714.64,663.52 L715.36,662.94 L716.09,662.79 L716.83,663.23 L717.57,664.11 L718.34,665.21 L719.14,666.31 L719.94,667.48 L720.73,668.78 L721.61,670.02 L722.67,671.01 L724.00,671.65 L725.53,672.07 L727.10,672.36 L728.54,672.65 L729.79,672.95 L730.96,673.20 L732.09,673.41 L733.23,673.59 L734.41,673.76 L735.58,673.90 L736.75,674.00 L737.93,674.06 L739.10,674.00 L740.28,673.86 L741.45,673.75 L742.63,673.83 L743.80,674.11 L744.97,674.53 L746.15,675.07 L747.32,675.70 L748.50,676.58 L749.67,677.66 L750.84,678.64 L752.02,679.23 L753.22,679.22 L754.44,678.82 L755.62,678.32 L756.71,678.05 L757.70,678.06 L758.62,678.19 L759.47,678.42 L760.24,678.76 L760.88,679.25 L761.41,679.87 L761.94,680.53 L762.58,681.11 L763.38,681.71 L764.27,682.37 L765.20,682.80 L766.11,682.75 L766.99,681.99 L767.87,680.72 L768.75,679.29 L769.63,678.05 L770.48,677.05 L771.32,676.12 L772.19,675.27 L773.15,674.53 L774.27,674.02 L775.50,673.69 L776.73,673.31 L777.85,672.65 L778.84,671.55 L779.75,670.17 L780.60,668.74 L781.37,667.49 L782.01,666.27 L782.54,665.04 L783.07,664.15 L783.72,663.96 L784.51,664.96 L785.40,666.83 L786.33,668.72 L787.24,669.83 L788.12,669.80 L789.00,669.10 L789.88,668.18 L790.76,667.49 L791.64,667.03 L792.52,666.61 L793.40,666.33 L794.28,666.31 L795.16,666.68 L796.04,667.34 L796.92,668.07 L797.81,668.66 L798.69,669.23 L799.57,669.83 L800.45,670.15 L801.33,669.83 L802.21,668.56 L803.09,666.58 L803.97,664.46 L804.85,662.79 L805.73,661.55 L806.61,660.49 L807.49,659.81 L808.37,659.74 L809.25,660.47 L810.13,661.85 L811.01,663.52 L811.89,665.14 L812.77,666.84 L813.65,668.75 L814.54,670.43 L815.42,671.48 L816.30,671.65 L817.18,671.20 L818.06,670.48 L818.94,669.83 L819.82,669.21 L820.70,668.48 L821.58,667.84 L822.46,667.49 L823.34,667.78 L824.22,668.51 L825.10,669.03 L825.98,668.66 L826.89,666.92 L827.82,664.26 L828.71,661.45 L829.50,659.27 L830.15,657.88 L830.68,656.88 L831.21,656.19 L831.85,655.75 L832.65,655.71 L833.54,656.07 L834.47,656.44 L835.37,656.45 L836.28,655.85 L837.21,654.90 L838.10,653.95 L838.90,653.40 L839.57,653.23 L840.14,653.28 L840.68,653.68 L841.24,654.57 L841.80,656.27 L842.35,658.61 L842.92,660.98 L843.59,662.79 L844.39,663.87 L845.28,664.55 L846.21,664.94 L847.11,665.14 L848.02,665.04 L848.95,664.62 L849.84,664.18 L850.64,663.96 L851.28,663.90 L851.81,663.89 L852.34,664.21 L852.98,665.14 L853.78,667.03 L854.67,669.64 L855.60,672.35 L856.51,674.53 L857.36,676.01 L858.19,677.13 L859.07,678.00 L860.03,678.76 L861.15,679.33 L862.38,679.70 L863.61,680.00 L864.73,680.40 L865.72,680.98 L866.63,681.63 L867.48,682.26 L868.25,682.75 L868.97,683.06 L869.64,683.25 L870.20,683.37 L870.60,683.45" fill="none" stroke="#0b0be6" stroke-width="2.6" stroke-linejoin="round"/>
<path d="M676.35,734.14 L678.94,734.06 L682.66,733.94 L686.76,733.80 L690.44,733.67 L693.65,733.56 L696.75,733.44 L699.63,733.32 L702.18,733.20 L704.36,733.06 L706.22,732.90 L707.82,732.77 L709.23,732.74 L710.38,732.93 L711.28,733.28 L712.03,733.53 L712.75,733.44 L713.40,732.84 L713.95,731.90 L714.49,730.85 L715.10,729.92 L715.82,729.04 L716.59,728.14 L717.39,727.42 L718.15,727.10 L718.85,727.36 L719.53,728.04 L720.22,728.84 L720.97,729.45 L721.80,729.84 L722.68,730.17 L723.59,730.37 L724.49,730.39 L725.34,730.16 L726.18,729.73 L727.05,729.21 L728.01,728.74 L729.10,728.34 L730.29,727.94 L731.51,727.53 L732.71,727.10 L733.91,726.66 L735.13,726.20 L736.31,725.73 L737.40,725.22 L738.37,724.72 L739.24,724.22 L740.07,723.64 L740.93,722.87 L741.81,721.73 L742.69,720.30 L743.57,718.99 L744.45,718.18 L745.33,718.06 L746.21,718.40 L747.09,718.92 L747.97,719.35 L748.88,719.75 L749.80,720.23 L750.69,720.56 L751.49,720.53 L752.13,719.97 L752.67,719.06 L753.20,717.99 L753.84,717.00 L754.64,716.00 L755.53,714.90 L756.45,713.98 L757.36,713.48 L758.24,713.63 L759.12,714.24 L760.00,714.94 L760.88,715.36 L761.77,715.33 L762.65,715.08 L763.53,714.79 L764.41,714.65 L765.29,714.76 L766.17,715.01 L767.05,715.25 L767.93,715.36 L768.81,715.36 L769.69,715.30 L770.57,715.10 L771.45,714.65 L772.33,713.76 L773.21,712.51 L774.09,711.34 L774.97,710.66 L775.85,710.66 L776.73,711.09 L777.61,711.71 L778.50,712.31 L779.38,712.98 L780.26,713.80 L781.14,714.46 L782.02,714.65 L782.90,714.24 L783.78,713.41 L784.66,712.32 L785.54,711.13 L786.42,709.64 L787.30,707.83 L788.18,706.21 L789.06,705.26 L789.95,705.27 L790.85,705.92 L791.74,706.83 L792.58,707.61 L793.36,708.38 L794.08,709.27 L794.82,709.92 L795.64,709.96 L796.58,708.93 L797.60,707.14 L798.64,705.41 L799.63,704.56 L800.54,704.93 L801.42,706.04 L802.28,707.47 L803.15,708.78 L804.03,709.95 L804.91,711.18 L805.79,712.38 L806.67,713.48 L807.55,714.59 L808.43,715.71 L809.31,716.60 L810.19,717.00 L811.07,716.64 L811.96,715.71 L812.84,714.72 L813.72,714.19 L814.60,714.22 L815.48,714.57 L816.36,715.13 L817.24,715.83 L818.12,716.96 L819.00,718.46 L819.88,719.70 L820.76,720.06 L821.64,719.12 L822.52,717.30 L823.40,715.21 L824.28,713.48 L825.16,712.06 L826.04,710.69 L826.92,709.66 L827.81,709.25 L828.69,709.72 L829.57,710.84 L830.45,712.23 L831.33,713.48 L832.21,714.57 L833.09,715.68 L833.97,716.75 L834.85,717.71 L835.73,718.55 L836.61,719.31 L837.49,719.97 L838.37,720.53 L839.25,720.85 L840.13,720.99 L841.01,721.20 L841.89,721.70 L842.77,722.60 L843.65,723.75 L844.54,725.06 L845.42,726.40 L846.30,727.89 L847.18,729.55 L848.06,731.10 L848.94,732.27 L849.79,732.94 L850.63,733.29 L851.50,733.42 L852.46,733.44 L853.58,733.35 L854.81,733.10 L856.04,732.73 L857.16,732.27 L858.12,731.57 L858.99,730.68 L859.83,729.88 L860.68,729.45 L861.53,729.54 L862.37,729.98 L863.24,730.56 L864.20,731.09 L865.29,731.59 L866.47,732.13 L867.69,732.63 L868.90,732.97 L870.07,733.09 L871.24,733.06 L872.42,732.98 L873.59,732.97 L874.77,733.08 L875.94,733.25 L877.11,733.39 L878.29,733.44 L879.49,733.35 L880.71,733.18 L881.89,732.96 L882.98,732.74 L883.95,732.47 L884.82,732.15 L885.65,731.89 L886.51,731.80 L887.30,731.95 L888.05,732.28 L888.90,732.66 L890.03,732.97 L891.60,733.20 L893.48,733.40 L895.39,733.56 L897.07,733.67 L898.38,733.70 L899.49,733.66 L900.57,733.62 L901.77,733.67 L903.29,733.87 L905.00,734.14 L906.56,734.42 L907.64,734.61 L907.64,735.00 L676.35,735.00 Z" fill="#ebebeb" stroke="none"/>
<path d="M676.35,734.14 L678.94,734.06 L682.66,733.94 L686.76,733.80 L690.44,733.67 L693.65,733.56 L696.75,733.44 L699.63,733.32 L702.18,733.20 L704.36,733.06 L706.22,732.90 L707.82,732.77 L709.23,732.74 L710.38,732.93 L711.28,733.28 L712.03,733.53 L712.75,733.44 L713.40,732.84 L713.95,731.90 L714.49,730.85 L715.10,729.92 L715.82,729.04 L716.59,728.14 L717.39,727.42 L718.15,727.10 L718.85,727.36 L719.53,728.04 L720.22,728.84 L720.97,729.45 L721.80,729.84 L722.68,730.17 L723.59,730.37 L724.49,730.39 L725.34,730.16 L726.18,729.73 L727.05,729.21 L728.01,728.74 L729.10,728.34 L730.29,727.94 L731.51,727.53 L732.71,727.10 L733.91,726.66 L735.13,726.20 L736.31,725.73 L737.40,725.22 L738.37,724.72 L739.24,724.22 L740.07,723.64 L740.93,722.87 L741.81,721.73 L742.69,720.30 L743.57,718.99 L744.45,718.18 L745.33,718.06 L746.21,718.40 L747.09,718.92 L747.97,719.35 L748.88,719.75 L749.80,720.23 L750.69,720.56 L751.49,720.53 L752.13,719.97 L752.67,719.06 L753.20,717.99 L753.84,717.00 L754.64,716.00 L755.53,714.90 L756.45,713.98 L757.36,713.48 L758.24,713.63 L759.12,714.24 L760.00,714.94 L760.88,715.36 L761.77,715.33 L762.65,715.08 L763.53,714.79 L764.41,714.65 L765.29,714.76 L766.17,715.01 L767.05,715.25 L767.93,715.36 L768.81,715.36 L769.69,715.30 L770.57,715.10 L771.45,714.65 L772.33,713.76 L773.21,712.51 L774.09,711.34 L774.97,710.66 L775.85,710.66 L776.73,711.09 L777.61,711.71 L778.50,712.31 L779.38,712.98 L780.26,713.80 L781.14,714.46 L782.02,714.65 L782.90,714.24 L783.78,713.41 L784.66,712.32 L785.54,711.13 L786.42,709.64 L787.30,707.83 L788.18,706.21 L789.06,705.26 L789.95,705.27 L790.85,705.92 L791.74,706.83 L792.58,707.61 L793.36,708.38 L794.08,709.27 L794.82,709.92 L795.64,709.96 L796.58,708.93 L797.60,707.14 L798.64,705.41 L799.63,704.56 L800.54,704.93 L801.42,706.04 L802.28,707.47 L803.15,708.78 L804.03,709.95 L804.91,711.18 L805.79,712.38 L806.67,713.48 L807.55,714.59 L808.43,715.71 L809.31,716.60 L810.19,717.00 L811.07,716.64 L811.96,715.71 L812.84,714.72 L813.72,714.19 L814.60,714.22 L815.48,714.57 L816.36,715.13 L817.24,715.83 L818.12,716.96 L819.00,718.46 L819.88,719.70 L820.76,720.06 L821.64,719.12 L822.52,717.30 L823.40,715.21 L824.28,713.48 L825.16,712.06 L826.04,710.69 L826.92,709.66 L827.81,709.25 L828.69,709.72 L829.57,710.84 L830.45,712.23 L831.33,713.48 L832.21,714.57 L833.09,715.68 L833.97,716.75 L834.85,717.71 L835.73,718.55 L836.61,719.31 L837.49,719.97 L838.37,720.53 L839.25,720.85 L840.13,720.99 L841.01,721.20 L841.89,721.70 L842.77,722.60 L843.65,723.75 L844.54,725.06 L845.42,726.40 L846.30,727.89 L847.18,729.55 L848.06,731.10 L848.94,732.27 L849.79,732.94 L850.63,733.29 L851.50,733.42 L852.46,733.44 L853.58,733.35 L854.81,733.10 L856.04,732.73 L857.16,732.27 L858.12,731.57 L858.99,730.68 L859.83,729.88 L860.68,729.45 L861.53,729.54 L862.37,729.98 L863.24,730.56 L864.20,731.09 L865.29,731.59 L866.47,732.13 L867.69,732.63 L868.90,732.97 L870.07,733.09 L871.24,733.06 L872.42,732.98 L873.59,732.97 L874.77,733.08 L875.94,733.25 L877.11,733.39 L878.29,733.44 L879.49,733.35 L880.71,733.18 L881.89,732.96 L882.98,732.74 L883.95,732.47 L884.82,732.15 L885.65,731.89 L886.51,731.80 L887.30,731.95 L888.05,732.28 L888.90,732.66 L890.03,732.97 L891.60,733.20 L893.48,733.40 L895.39,733.56 L897.07,733.67 L898.38,733.70 L899.49,733.66 L900.57,733.62 L901.77,733.67 L903.29,733.87 L905.00,734.14 L906.56,734.42 L907.64,734.61" fill="none" stroke="#0b0be6" stroke-width="2.6" stroke-linejoin="round"/>
<path d="M638.78,785.10 L639.64,784.79 L640.87,784.35 L642.23,783.87 L643.48,783.45 L644.58,783.04 L645.64,782.62 L646.68,782.31 L647.71,782.28 L648.73,782.67 L649.75,783.37 L650.74,784.11 L651.70,784.63 L652.59,784.87 L653.42,784.98 L654.27,784.97 L655.22,784.86 L656.31,784.58 L657.50,784.14 L658.72,783.71 L659.92,783.45 L661.12,783.44 L662.34,783.57 L663.52,783.76 L664.61,783.92 L665.58,784.12 L666.45,784.36 L667.28,784.51 L668.14,784.39 L669.02,783.88 L669.90,783.09 L670.78,782.24 L671.66,781.58 L672.54,781.10 L673.42,780.71 L674.30,780.46 L675.18,780.40 L676.03,780.67 L676.87,781.21 L677.74,781.75 L678.70,782.04 L679.79,782.00 L680.98,781.77 L682.20,781.43 L683.40,781.11 L684.57,780.78 L685.75,780.42 L686.92,780.04 L688.09,779.70 L689.27,779.39 L690.44,779.09 L691.62,778.81 L692.79,778.52 L693.96,778.21 L695.14,777.89 L696.31,777.59 L697.49,777.35 L698.66,777.23 L699.83,777.19 L701.01,777.11 L702.18,776.88 L703.36,776.41 L704.53,775.78 L705.70,775.11 L706.88,774.53 L708.08,774.00 L709.30,773.49 L710.48,773.08 L711.58,772.89 L712.54,772.96 L713.41,773.22 L714.24,773.62 L715.10,774.06 L715.95,774.54 L716.78,775.10 L717.66,775.73 L718.62,776.41 L719.74,777.31 L720.97,778.38 L722.20,779.28 L723.32,779.70 L724.25,779.47 L725.08,778.79 L725.90,777.86 L726.84,776.88 L727.96,775.70 L729.19,774.28 L730.41,772.99 L731.53,772.18 L732.50,772.05 L733.37,772.37 L734.20,772.89 L735.06,773.36 L735.94,773.74 L736.82,774.16 L737.70,774.60 L738.58,775.00 L739.43,775.53 L740.27,776.15 L741.14,776.54 L742.10,776.41 L743.19,775.54 L744.37,774.13 L745.59,772.52 L746.80,771.01 L748.00,769.55 L749.22,768.03 L750.40,766.64 L751.49,765.61 L752.46,765.09 L753.33,764.95 L754.16,764.90 L755.01,764.67 L755.90,764.09 L756.78,763.33 L757.66,762.66 L758.54,762.32 L759.42,762.47 L760.30,762.95 L761.18,763.53 L762.06,763.96 L762.91,764.25 L763.75,764.48 L764.62,764.63 L765.58,764.67 L766.70,764.54 L767.93,764.27 L769.16,763.97 L770.28,763.73 L771.21,763.60 L772.04,763.51 L772.86,763.42 L773.80,763.26 L774.92,762.94 L776.15,762.53 L777.38,762.18 L778.50,762.09 L779.46,762.34 L780.33,762.82 L781.16,763.41 L782.02,763.96 L782.90,764.54 L783.78,765.17 L784.66,765.73 L785.54,766.08 L786.39,766.11 L787.23,765.93 L788.10,765.70 L789.06,765.61 L790.18,765.75 L791.41,766.00 L792.64,766.24 L793.76,766.31 L794.72,766.21 L795.59,765.99 L796.43,765.64 L797.28,765.14 L798.13,764.42 L798.97,763.52 L799.84,762.55 L800.80,761.62 L801.89,760.65 L803.08,759.64 L804.30,758.73 L805.50,758.09 L806.67,757.82 L807.85,757.80 L809.02,757.93 L810.19,758.09 L811.37,758.20 L812.54,758.31 L813.72,758.62 L814.89,759.27 L816.09,760.57 L817.31,762.35 L818.50,764.06 L819.59,765.14 L820.52,765.40 L821.35,765.14 L822.17,764.59 L823.11,763.96 L824.23,763.13 L825.46,762.03 L826.69,761.01 L827.81,760.44 L828.77,760.55 L829.64,761.10 L830.47,761.74 L831.33,762.09 L832.21,762.11 L833.09,761.98 L833.97,761.67 L834.85,761.15 L835.76,760.25 L836.68,759.05 L837.57,757.84 L838.37,756.92 L839.04,756.33 L839.62,755.92 L840.16,755.72 L840.72,755.75 L841.28,755.98 L841.82,756.41 L842.40,757.09 L843.07,758.09 L843.87,759.50 L844.76,761.25 L845.68,763.18 L846.59,765.14 L847.44,767.18 L848.28,769.35 L849.15,771.47 L850.11,773.36 L851.23,775.10 L852.46,776.76 L853.69,778.07 L854.81,778.76 L855.77,778.63 L856.64,777.86 L857.48,776.78 L858.33,775.70 L859.21,774.56 L860.09,773.24 L860.97,771.97 L861.85,771.01 L862.73,770.36 L863.61,769.91 L864.49,769.72 L865.37,769.83 L866.23,770.40 L867.06,771.35 L867.93,772.42 L868.90,773.36 L869.99,774.16 L871.17,774.94 L872.39,775.64 L873.59,776.17 L874.77,776.50 L875.94,776.66 L877.11,776.75 L878.29,776.88 L879.46,777.01 L880.64,777.10 L881.81,777.26 L882.98,777.58 L884.16,778.11 L885.33,778.79 L886.51,779.56 L887.68,780.40 L888.86,781.38 L890.03,782.48 L891.20,783.55 L892.38,784.39 L893.55,784.96 L894.73,785.35 L895.90,785.61 L897.07,785.80 L898.25,785.93 L899.42,785.98 L900.60,785.93 L901.77,785.80 L902.92,785.55 L904.04,785.20 L905.21,784.79 L906.47,784.39 L907.88,783.90 L909.40,783.34 L910.92,782.88 L912.34,782.75 L913.62,783.09 L914.83,783.78 L915.97,784.53 L917.03,785.10 L918.08,785.41 L919.09,785.60 L919.95,785.71 L920.55,785.80 L920.55,786.00 L638.78,786.00 Z" fill="#ebebeb" stroke="none"/>
<path d="M638.78,785.10 L639.64,784.79 L640.87,784.35 L642.23,783.87 L643.48,783.45 L644.58,783.04 L645.64,782.62 L646.68,782.31 L647.71,782.28 L648.73,782.67 L649.75,783.37 L650.74,784.11 L651.70,784.63 L652.59,784.87 L653.42,784.98 L654.27,784.97 L655.22,784.86 L656.31,784.58 L657.50,784.14 L658.72,783.71 L659.92,783.45 L661.12,783.44 L662.34,783.57 L663.52,783.76 L664.61,783.92 L665.58,784.12 L666.45,784.36 L667.28,784.51 L668.14,784.39 L669.02,783.88 L669.90,783.09 L670.78,782.24 L671.66,781.58 L672.54,781.10 L673.42,780.71 L674.30,780.46 L675.18,780.40 L676.03,780.67 L676.87,781.21 L677.74,781.75 L678.70,782.04 L679.79,782.00 L680.98,781.77 L682.20,781.43 L683.40,781.11 L684.57,780.78 L685.75,780.42 L686.92,780.04 L688.09,779.70 L689.27,779.39 L690.44,779.09 L691.62,778.81 L692.79,778.52 L693.96,778.21 L695.14,777.89 L696.31,777.59 L697.49,777.35 L698.66,777.23 L699.83,777.19 L701.01,777.11 L702.18,776.88 L703.36,776.41 L704.53,775.78 L705.70,775.11 L706.88,774.53 L708.08,774.00 L709.30,773.49 L710.48,773.08 L711.58,772.89 L712.54,772.96 L713.41,773.22 L714.24,773.62 L715.10,774.06 L715.95,774.54 L716.78,775.10 L717.66,775.73 L718.62,776.41 L719.74,777.31 L720.97,778.38 L722.20,779.28 L723.32,779.70 L724.25,779.47 L725.08,778.79 L725.90,777.86 L726.84,776.88 L727.96,775.70 L729.19,774.28 L730.41,772.99 L731.53,772.18 L732.50,772.05 L733.37,772.37 L734.20,772.89 L735.06,773.36 L735.94,773.74 L736.82,774.16 L737.70,774.60 L738.58,775.00 L739.43,775.53 L740.27,776.15 L741.14,776.54 L742.10,776.41 L743.19,775.54 L744.37,774.13 L745.59,772.52 L746.80,771.01 L748.00,769.55 L749.22,768.03 L750.40,766.64 L751.49,765.61 L752.46,765.09 L753.33,764.95 L754.16,764.90 L755.01,764.67 L755.90,764.09 L756.78,763.33 L757.66,762.66 L758.54,762.32 L759.42,762.47 L760.30,762.95 L761.18,763.53 L762.06,763.96 L762.91,764.25 L763.75,764.48 L764.62,764.63 L765.58,764.67 L766.70,764.54 L767.93,764.27 L769.16,763.97 L770.28,763.73 L771.21,763.60 L772.04,763.51 L772.86,763.42 L773.80,763.26 L774.92,762.94 L776.15,762.53 L777.38,762.18 L778.50,762.09 L779.46,762.34 L780.33,762.82 L781.16,763.41 L782.02,763.96 L782.90,764.54 L783.78,765.17 L784.66,765.73 L785.54,766.08 L786.39,766.11 L787.23,765.93 L788.10,765.70 L789.06,765.61 L790.18,765.75 L791.41,766.00 L792.64,766.24 L793.76,766.31 L794.72,766.21 L795.59,765.99 L796.43,765.64 L797.28,765.14 L798.13,764.42 L798.97,763.52 L799.84,762.55 L800.80,761.62 L801.89,760.65 L803.08,759.64 L804.30,758.73 L805.50,758.09 L806.67,757.82 L807.85,757.80 L809.02,757.93 L810.19,758.09 L811.37,758.20 L812.54,758.31 L813.72,758.62 L814.89,759.27 L816.09,760.57 L817.31,762.35 L818.50,764.06 L819.59,765.14 L820.52,765.40 L821.35,765.14 L822.17,764.59 L823.11,763.96 L824.23,763.13 L825.46,762.03 L826.69,761.01 L827.81,760.44 L828.77,760.55 L829.64,761.10 L830.47,761.74 L831.33,762.09 L832.21,762.11 L833.09,761.98 L833.97,761.67 L834.85,761.15 L835.76,760.25 L836.68,759.05 L837.57,757.84 L838.37,756.92 L839.04,756.33 L839.62,755.92 L840.16,755.72 L840.72,755.75 L841.28,755.98 L841.82,756.41 L842.40,757.09 L843.07,758.09 L843.87,759.50 L844.76,761.25 L845.68,763.18 L846.59,765.14 L847.44,767.18 L848.28,769.35 L849.15,771.47 L850.11,773.36 L851.23,775.10 L852.46,776.76 L853.69,778.07 L854.81,778.76 L855.77,778.63 L856.64,777.86 L857.48,776.78 L858.33,775.70 L859.21,774.56 L860.09,773.24 L860.97,771.97 L861.85,771.01 L862.73,770.36 L863.61,769.91 L864.49,769.72 L865.37,769.83 L866.23,770.40 L867.06,771.35 L867.93,772.42 L868.90,773.36 L869.99,774.16 L871.17,774.94 L872.39,775.64 L873.59,776.17 L874.77,776.50 L875.94,776.66 L877.11,776.75 L878.29,776.88 L879.46,777.01 L880.64,777.10 L881.81,777.26 L882.98,777.58 L884.16,778.11 L885.33,778.79 L886.51,779.56 L887.68,780.40 L888.86,781.38 L890.03,782.48 L891.20,783.55 L892.38,784.39 L893.55,784.96 L894.73,785.35 L895.90,785.61 L897.07,785.80 L898.25,785.93 L899.42,785.98 L900.60,785.93 L901.77,785.80 L902.92,785.55 L904.04,785.20 L905.21,784.79 L906.47,784.39 L907.88,783.90 L909.40,783.34 L910.92,782.88 L912.34,782.75 L913.62,783.09 L914.83,783.78 L915.97,784.53 L917.03,785.10 L918.08,785.41 L919.09,785.60 L919.95,785.71 L920.55,785.80" fill="none" stroke="#0b0be6" stroke-width="2.6" stroke-linejoin="round"/>
<path d="M588.29,836.99 L591.96,836.89 L597.27,836.75 L602.92,836.59 L607.62,836.44 L611.03,836.26 L613.84,836.06 L616.30,835.91 L618.67,835.88 L620.62,836.08 L622.13,836.44 L623.98,836.79 L626.96,836.99 L631.84,836.97 L638.01,836.83 L644.18,836.63 L649.06,836.44 L652.17,836.26 L654.24,836.07 L655.79,835.86 L657.35,835.61 L658.92,835.28 L660.28,834.90 L661.56,834.53 L662.87,834.23 L664.25,833.98 L665.64,833.78 L667.02,833.66 L668.40,833.67 L669.81,833.98 L671.25,834.50 L672.64,834.96 L673.92,835.06 L675.06,834.58 L676.08,833.73 L677.06,832.85 L678.07,832.29 L679.10,832.16 L680.14,832.26 L681.17,832.51 L682.21,832.85 L683.25,833.30 L684.28,833.90 L685.32,834.52 L686.35,835.06 L687.42,835.56 L688.51,836.06 L689.56,836.40 L690.50,836.44 L691.22,836.17 L691.79,835.66 L692.41,834.85 L693.26,833.67 L694.45,831.94 L695.85,829.74 L697.34,827.43 L698.78,825.39 L700.20,823.69 L701.63,822.14 L703.03,820.70 L704.31,819.31 L705.46,817.96 L706.50,816.67 L707.49,815.46 L708.45,814.34 L709.40,813.21 L710.30,812.09 L711.18,811.20 L712.04,810.75 L712.91,810.83 L713.75,811.33 L714.58,812.09 L715.36,812.96 L716.06,813.94 L716.69,815.10 L717.35,816.36 L718.12,817.65 L719.06,819.13 L720.11,820.78 L721.20,822.24 L722.27,823.18 L723.30,823.34 L724.34,822.97 L725.37,822.43 L726.41,822.07 L727.44,822.01 L728.48,822.05 L729.52,822.10 L730.55,822.07 L731.56,821.97 L732.54,821.83 L733.56,821.61 L734.70,821.24 L735.98,820.64 L737.37,819.86 L738.81,819.08 L740.22,818.48 L741.60,818.10 L742.98,817.84 L744.36,817.70 L745.75,817.65 L747.16,817.76 L748.59,818.01 L749.99,818.29 L751.27,818.48 L752.40,818.44 L753.43,818.27 L754.41,818.21 L755.41,818.48 L756.45,819.34 L757.49,820.60 L758.52,821.84 L759.56,822.62 L760.59,822.79 L761.63,822.59 L762.67,822.20 L763.70,821.80 L764.71,821.38 L765.69,820.86 L766.71,820.33 L767.85,819.86 L769.13,819.43 L770.52,819.00 L771.96,818.66 L773.37,818.48 L774.75,818.59 L776.13,818.91 L777.51,819.23 L778.90,819.31 L780.31,819.08 L781.74,818.65 L783.14,818.14 L784.42,817.65 L785.55,817.16 L786.58,816.62 L787.56,816.11 L788.56,815.72 L789.60,815.49 L790.64,815.37 L791.67,815.29 L792.71,815.17 L793.74,814.89 L794.78,814.54 L795.81,814.30 L796.85,814.34 L797.89,814.71 L798.92,815.32 L799.96,816.13 L800.99,817.10 L802.03,818.35 L803.07,819.86 L804.10,821.37 L805.14,822.62 L806.17,823.67 L807.21,824.61 L808.25,825.25 L809.28,825.39 L810.32,824.93 L811.35,824.01 L812.39,822.73 L813.43,821.24 L814.43,819.41 L815.41,817.22 L816.44,814.97 L817.57,812.96 L818.89,811.11 L820.33,809.33 L821.78,807.84 L823.09,806.88 L824.23,806.59 L825.25,806.83 L826.23,807.36 L827.24,807.98 L828.27,808.66 L829.31,809.50 L830.35,810.48 L831.38,811.57 L832.42,812.82 L833.45,814.22 L834.49,815.67 L835.52,817.10 L836.56,818.64 L837.60,820.29 L838.63,821.73 L839.67,822.62 L840.70,822.82 L841.74,822.50 L842.78,821.91 L843.81,821.24 L844.85,820.49 L845.88,819.57 L846.92,818.58 L847.96,817.65 L848.99,816.74 L850.03,815.80 L851.06,814.97 L852.10,814.34 L853.14,813.95 L854.17,813.73 L855.21,813.68 L856.24,813.78 L857.28,814.04 L858.31,814.46 L859.35,815.02 L860.39,815.72 L861.39,816.57 L862.37,817.57 L863.40,818.68 L864.53,819.86 L865.85,821.34 L867.29,823.06 L868.74,824.56 L870.06,825.39 L871.20,825.23 L872.25,824.39 L873.23,823.35 L874.20,822.62 L875.14,822.21 L876.05,821.88 L876.92,821.79 L877.79,822.07 L878.59,822.90 L879.33,824.16 L880.13,825.55 L881.10,826.77 L882.33,827.83 L883.73,828.86 L885.20,829.74 L886.63,830.36 L888.01,830.58 L889.39,830.50 L890.77,830.35 L892.15,830.36 L893.54,830.61 L894.92,830.96 L896.30,831.36 L897.68,831.74 L899.06,832.07 L900.44,832.38 L901.82,832.72 L903.20,833.12 L904.59,833.63 L905.97,834.21 L907.35,834.80 L908.73,835.33 L909.92,835.84 L910.97,836.33 L912.29,836.74 L914.25,836.99 L917.19,836.98 L920.81,836.78 L924.61,836.55 L928.07,836.44 L931.09,836.52 L933.94,836.71 L936.61,836.90 L939.12,836.99 L941.38,836.90 L943.43,836.71 L945.40,836.52 L947.40,836.44 L949.67,836.51 L952.06,836.68 L954.20,836.86 L955.69,836.99 L955.69,837.00 L588.29,837.00 Z" fill="#ebebeb" stroke="none"/>
<path d="M588.29,836.99 L591.96,836.89 L597.27,836.75 L602.92,836.59 L607.62,836.44 L611.03,836.26 L613.84,836.06 L616.30,835.91 L618.67,835.88 L620.62,836.08 L622.13,836.44 L623.98,836.79 L626.96,836.99 L631.84,836.97 L638.01,836.83 L644.18,836.63 L649.06,836.44 L652.17,836.26 L654.24,836.07 L655.79,835.86 L657.35,835.61 L658.92,835.28 L660.28,834.90 L661.56,834.53 L662.87,834.23 L664.25,833.98 L665.64,833.78 L667.02,833.66 L668.40,833.67 L669.81,833.98 L671.25,834.50 L672.64,834.96 L673.92,835.06 L675.06,834.58 L676.08,833.73 L677.06,832.85 L678.07,832.29 L679.10,832.16 L680.14,832.26 L681.17,832.51 L682.21,832.85 L683.25,833.30 L684.28,833.90 L685.32,834.52 L686.35,835.06 L687.42,835.56 L688.51,836.06 L689.56,836.40 L690.50,836.44 L691.22,836.17 L691.79,835.66 L692.41,834.85 L693.26,833.67 L694.45,831.94 L695.85,829.74 L697.34,827.43 L698.78,825.39 L700.20,823.69 L701.63,822.14 L703.03,820.70 L704.31,819.31 L705.46,817.96 L706.50,816.67 L707.49,815.46 L708.45,814.34 L709.40,813.21 L710.30,812.09 L711.18,811.20 L712.04,810.75 L712.91,810.83 L713.75,811.33 L714.58,812.09 L715.36,812.96 L716.06,813.94 L716.69,815.10 L717.35,816.36 L718.12,817.65 L719.06,819.13 L720.11,820.78 L721.20,822.24 L722.27,823.18 L723.30,823.34 L724.34,822.97 L725.37,822.43 L726.41,822.07 L727.44,822.01 L728.48,822.05 L729.52,822.10 L730.55,822.07 L731.56,821.97 L732.54,821.83 L733.56,821.61 L734.70,821.24 L735.98,820.64 L737.37,819.86 L738.81,819.08 L740.22,818.48 L741.60,818.10 L742.98,817.84 L744.36,817.70 L745.75,817.65 L747.16,817.76 L748.59,818.01 L749.99,818.29 L751.27,818.48 L752.40,818.44 L753.43,818.27 L754.41,818.21 L755.41,818.48 L756.45,819.34 L757.49,820.60 L758.52,821.84 L759.56,822.62 L760.59,822.79 L761.63,822.59 L762.67,822.20 L763.70,821.80 L764.71,821.38 L765.69,820.86 L766.71,820.33 L767.85,819.86 L769.13,819.43 L770.52,819.00 L771.96,818.66 L773.37,818.48 L774.75,818.59 L776.13,818.91 L777.51,819.23 L778.90,819.31 L780.31,819.08 L781.74,818.65 L783.14,818.14 L784.42,817.65 L785.55,817.16 L786.58,816.62 L787.56,816.11 L788.56,815.72 L789.60,815.49 L790.64,815.37 L791.67,815.29 L792.71,815.17 L793.74,814.89 L794.78,814.54 L795.81,814.30 L796.85,814.34 L797.89,814.71 L798.92,815.32 L799.96,816.13 L800.99,817.10 L802.03,818.35 L803.07,819.86 L804.10,821.37 L805.14,822.62 L806.17,823.67 L807.21,824.61 L808.25,825.25 L809.28,825.39 L810.32,824.93 L811.35,824.01 L812.39,822.73 L813.43,821.24 L814.43,819.41 L815.41,817.22 L816.44,814.97 L817.57,812.96 L818.89,811.11 L820.33,809.33 L821.78,807.84 L823.09,806.88 L824.23,806.59 L825.25,806.83 L826.23,807.36 L827.24,807.98 L828.27,808.66 L829.31,809.50 L830.35,810.48 L831.38,811.57 L832.42,812.82 L833.45,814.22 L834.49,815.67 L835.52,817.10 L836.56,818.64 L837.60,820.29 L838.63,821.73 L839.67,822.62 L840.70,822.82 L841.74,822.50 L842.78,821.91 L843.81,821.24 L844.85,820.49 L845.88,819.57 L846.92,818.58 L847.96,817.65 L848.99,816.74 L850.03,815.80 L851.06,814.97 L852.10,814.34 L853.14,813.95 L854.17,813.73 L855.21,813.68 L856.24,813.78 L857.28,814.04 L858.31,814.46 L859.35,815.02 L860.39,815.72 L861.39,816.57 L862.37,817.57 L863.40,818.68 L864.53,819.86 L865.85,821.34 L867.29,823.06 L868.74,824.56 L870.06,825.39 L871.20,825.23 L872.25,824.39 L873.23,823.35 L874.20,822.62 L875.14,822.21 L876.05,821.88 L876.92,821.79 L877.79,822.07 L878.59,822.90 L879.33,824.16 L880.13,825.55 L881.10,826.77 L882.33,827.83 L883.73,828.86 L885.20,829.74 L886.63,830.36 L888.01,830.58 L889.39,830.50 L890.77,830.35 L892.15,830.36 L893.54,830.61 L894.92,830.96 L896.30,831.36 L897.68,831.74 L899.06,832.07 L900.44,832.38 L901.82,832.72 L903.20,833.12 L904.59,833.63 L905.97,834.21 L907.35,834.80 L908.73,835.33 L909.92,835.84 L910.97,836.33 L912.29,836.74 L914.25,836.99 L917.19,836.98 L920.81,836.78 L924.61,836.55 L928.07,836.44 L931.09,836.52 L933.94,836.71 L936.61,836.90 L939.12,836.99 L941.38,836.90 L943.43,836.71 L945.40,836.52 L947.40,836.44 L949.67,836.51 L952.06,836.68 L954.20,836.86 L955.69,836.99" fill="none" stroke="#0b0be6" stroke-width="2.6" stroke-linejoin="round"/>
<path d="M591.05,887.54 L594.72,887.45 L600.03,887.32 L605.68,887.16 L610.39,886.99 L613.67,886.76 L616.26,886.49 L618.67,886.26 L621.44,886.16 L624.76,886.27 L628.34,886.52 L631.93,886.80 L635.25,886.99 L638.21,887.09 L640.95,887.16 L643.60,887.14 L646.30,886.99 L649.19,886.57 L652.17,885.95 L654.97,885.37 L657.35,885.06 L659.15,885.11 L660.54,885.40 L661.72,885.79 L662.87,886.16 L664.01,886.58 L665.03,887.09 L666.01,887.48 L667.02,887.54 L668.02,887.16 L669.00,886.45 L670.03,885.61 L671.16,884.78 L672.44,883.94 L673.84,883.04 L675.27,882.17 L676.69,881.46 L678.07,880.95 L679.45,880.57 L680.83,880.29 L682.21,880.08 L683.59,880.01 L684.97,880.05 L686.35,880.11 L687.73,880.08 L689.12,879.90 L690.50,879.63 L691.88,879.38 L693.26,879.25 L694.64,879.35 L696.02,879.60 L697.40,879.81 L698.78,879.81 L700.17,879.47 L701.55,878.91 L702.93,878.32 L704.31,877.87 L705.69,877.64 L707.07,877.53 L708.45,877.45 L709.83,877.32 L711.25,877.13 L712.68,876.92 L714.08,876.71 L715.36,876.49 L716.49,876.23 L717.52,875.92 L718.50,875.70 L719.50,875.66 L720.51,875.92 L721.49,876.37 L722.51,876.89 L723.65,877.32 L724.93,877.67 L726.32,878.01 L727.76,878.28 L729.17,878.43 L730.55,878.44 L731.93,878.34 L733.31,878.15 L734.70,877.87 L736.11,877.53 L737.54,877.10 L738.94,876.57 L740.22,875.94 L741.39,875.15 L742.47,874.23 L743.46,873.27 L744.36,872.35 L745.12,871.38 L745.75,870.35 L746.37,869.49 L747.13,869.03 L748.07,869.11 L749.11,869.57 L750.20,870.24 L751.27,870.97 L752.31,871.82 L753.34,872.85 L754.38,873.84 L755.41,874.56 L756.45,875.00 L757.49,875.27 L758.52,875.32 L759.56,875.11 L760.56,874.48 L761.54,873.49 L762.57,872.48 L763.70,871.80 L764.99,871.57 L766.38,871.61 L767.81,871.74 L769.23,871.80 L770.64,871.84 L772.08,871.92 L773.47,871.87 L774.75,871.52 L775.88,870.64 L776.91,869.38 L777.89,868.15 L778.90,867.38 L779.93,867.19 L780.97,867.36 L782.00,867.74 L783.04,868.20 L784.04,868.86 L785.02,869.72 L786.05,870.52 L787.18,870.97 L788.47,871.01 L789.86,870.79 L791.29,870.32 L792.71,869.59 L794.12,868.46 L795.56,867.00 L796.95,865.44 L798.23,864.06 L799.40,862.86 L800.48,861.73 L801.47,860.73 L802.38,859.92 L803.16,859.29 L803.84,858.83 L804.48,858.56 L805.14,858.54 L805.80,858.82 L806.43,859.38 L807.11,860.07 L807.90,860.75 L808.81,861.50 L809.80,862.37 L810.88,863.12 L812.04,863.51 L813.33,863.39 L814.72,862.92 L816.16,862.33 L817.57,861.85 L818.98,861.43 L820.42,860.99 L821.81,860.70 L823.09,860.75 L824.23,861.24 L825.25,862.08 L826.23,863.07 L827.24,864.06 L828.27,865.07 L829.31,866.17 L830.35,867.25 L831.38,868.20 L832.42,869.09 L833.45,869.93 L834.49,870.60 L835.52,870.97 L836.56,870.82 L837.60,870.28 L838.63,869.74 L839.67,869.59 L840.67,869.89 L841.65,870.45 L842.68,871.27 L843.81,872.35 L845.10,873.95 L846.49,875.97 L847.92,877.92 L849.34,879.25 L850.78,879.79 L852.27,879.81 L853.67,879.55 L854.86,879.25 L855.71,878.90 L856.33,878.39 L856.90,877.83 L857.62,877.32 L858.53,876.84 L859.52,876.35 L860.60,875.93 L861.77,875.66 L863.05,875.54 L864.44,875.52 L865.88,875.65 L867.29,875.94 L868.67,876.44 L870.06,877.13 L871.44,877.91 L872.82,878.70 L874.20,879.52 L875.58,880.41 L876.96,881.27 L878.34,882.02 L879.66,882.64 L880.93,883.19 L882.29,883.64 L883.87,883.95 L885.74,884.05 L887.84,883.97 L890.02,883.88 L892.15,883.95 L894.16,884.31 L896.13,884.83 L898.18,885.33 L900.44,885.61 L903.07,885.50 L905.97,885.16 L908.86,884.83 L911.49,884.78 L913.63,885.17 L915.46,885.83 L917.38,886.52 L919.78,886.99 L922.97,887.18 L926.69,887.21 L930.40,887.14 L933.59,886.99 L935.99,886.68 L937.91,886.21 L939.74,885.79 L941.88,885.61 L944.38,885.78 L947.06,886.18 L949.91,886.64 L952.93,886.99 L956.51,887.20 L960.52,887.35 L964.19,887.46 L966.74,887.54 L966.74,888.00 L591.05,888.00 Z" fill="#ebebeb" stroke="none"/>
<path d="M591.05,887.54 L594.72,887.45 L600.03,887.32 L605.68,887.16 L610.39,886.99 L613.67,886.76 L616.26,886.49 L618.67,886.26 L621.44,886.16 L624.76,886.27 L628.34,886.52 L631.93,886.80 L635.25,886.99 L638.21,887.09 L640.95,887.16 L643.60,887.14 L646.30,886.99 L649.19,886.57 L652.17,885.95 L654.97,885.37 L657.35,885.06 L659.15,885.11 L660.54,885.40 L661.72,885.79 L662.87,886.16 L664.01,886.58 L665.03,887.09 L666.01,887.48 L667.02,887.54 L668.02,887.16 L669.00,886.45 L670.03,885.61 L671.16,884.78 L672.44,883.94 L673.84,883.04 L675.27,882.17 L676.69,881.46 L678.07,880.95 L679.45,880.57 L680.83,880.29 L682.21,880.08 L683.59,880.01 L684.97,880.05 L686.35,880.11 L687.73,880.08 L689.12,879.90 L690.50,879.63 L691.88,879.38 L693.26,879.25 L694.64,879.35 L696.02,879.60 L697.40,879.81 L698.78,879.81 L700.17,879.47 L701.55,878.91 L702.93,878.32 L704.31,877.87 L705.69,877.64 L707.07,877.53 L708.45,877.45 L709.83,877.32 L711.25,877.13 L712.68,876.92 L714.08,876.71 L715.36,876.49 L716.49,876.23 L717.52,875.92 L718.50,875.70 L719.50,875.66 L720.51,875.92 L721.49,876.37 L722.51,876.89 L723.65,877.32 L724.93,877.67 L726.32,878.01 L727.76,878.28 L729.17,878.43 L730.55,878.44 L731.93,878.34 L733.31,878.15 L734.70,877.87 L736.11,877.53 L737.54,877.10 L738.94,876.57 L740.22,875.94 L741.39,875.15 L742.47,874.23 L743.46,873.27 L744.36,872.35 L745.12,871.38 L745.75,870.35 L746.37,869.49 L747.13,869.03 L748.07,869.11 L749.11,869.57 L750.20,870.24 L751.27,870.97 L752.31,871.82 L753.34,872.85 L754.38,873.84 L755.41,874.56 L756.45,875.00 L757.49,875.27 L758.52,875.32 L759.56,875.11 L760.56,874.48 L761.54,873.49 L762.57,872.48 L763.70,871.80 L764.99,871.57 L766.38,871.61 L767.81,871.74 L769.23,871.80 L770.64,871.84 L772.08,871.92 L773.47,871.87 L774.75,871.52 L775.88,870.64 L776.91,869.38 L777.89,868.15 L778.90,867.38 L779.93,867.19 L780.97,867.36 L782.00,867.74 L783.04,868.20 L784.04,868.86 L785.02,869.72 L786.05,870.52 L787.18,870.97 L788.47,871.01 L789.86,870.79 L791.29,870.32 L792.71,869.59 L794.12,868.46 L795.56,867.00 L796.95,865.44 L798.23,864.06 L799.40,862.86 L800.48,861.73 L801.47,860.73 L802.38,859.92 L803.16,859.29 L803.84,858.83 L804.48,858.56 L805.14,858.54 L805.80,858.82 L806.43,859.38 L807.11,860.07 L807.90,860.75 L808.81,861.50 L809.80,862.37 L810.88,863.12 L812.04,863.51 L813.33,863.39 L814.72,862.92 L816.16,862.33 L817.57,861.85 L818.98,861.43 L820.42,860.99 L821.81,860.70 L823.09,860.75 L824.23,861.24 L825.25,862.08 L826.23,863.07 L827.24,864.06 L828.27,865.07 L829.31,866.17 L830.35,867.25 L831.38,868.20 L832.42,869.09 L833.45,869.93 L834.49,870.60 L835.52,870.97 L836.56,870.82 L837.60,870.28 L838.63,869.74 L839.67,869.59 L840.67,869.89 L841.65,870.45 L842.68,871.27 L843.81,872.35 L845.10,873.95 L846.49,875.97 L847.92,877.92 L849.34,879.25 L850.78,879.79 L852.27,879.81 L853.67,879.55 L854.86,879.25 L855.71,878.90 L856.33,878.39 L856.90,877.83 L857.62,877.32 L858.53,876.84 L859.52,876.35 L860.60,875.93 L861.77,875.66 L863.05,875.54 L864.44,875.52 L865.88,875.65 L867.29,875.94 L868.67,876.44 L870.06,877.13 L871.44,877.91 L872.82,878.70 L874.20,879.52 L875.58,880.41 L876.96,881.27 L878.34,882.02 L879.66,882.64 L880.93,883.19 L882.29,883.64 L883.87,883.95 L885.74,884.05 L887.84,883.97 L890.02,883.88 L892.15,883.95 L894.16,884.31 L896.13,884.83 L898.18,885.33 L900.44,885.61 L903.07,885.50 L905.97,885.16 L908.86,884.83 L911.49,884.78 L913.63,885.17 L915.46,885.83 L917.38,886.52 L919.78,886.99 L922.97,887.18 L926.69,887.21 L930.40,887.14 L933.59,886.99 L935.99,886.68 L937.91,886.21 L939.74,885.79 L941.88,885.61 L944.38,885.78 L947.06,886.18 L949.91,886.64 L952.93,886.99 L956.51,887.20 L960.52,887.35 L964.19,887.46 L966.74,887.54" fill="none" stroke="#0b0be6" stroke-width="2.6" stroke-linejoin="round"/>
<path d="M561.12,939.47 L561.97,939.00 L563.20,938.32 L564.58,937.58 L565.88,936.93 L567.07,936.37 L568.27,935.82 L569.46,935.35 L570.65,935.03 L571.84,934.85 L573.03,934.79 L574.22,934.85 L575.41,935.03 L576.64,935.35 L577.89,935.82 L579.10,936.37 L580.18,936.93 L580.82,937.60 L581.17,938.36 L581.82,939.05 L583.35,939.47 L586.26,939.54 L590.10,939.35 L594.15,939.07 L597.65,938.84 L600.37,938.65 L602.71,938.44 L604.91,938.27 L607.18,938.20 L609.41,938.28 L611.55,938.46 L613.88,938.67 L616.71,938.84 L620.31,938.97 L624.45,939.10 L628.70,939.17 L632.59,939.16 L636.07,939.01 L639.34,938.76 L642.42,938.47 L645.30,938.20 L647.98,938.01 L650.46,937.84 L652.74,937.62 L654.83,937.25 L656.64,936.62 L658.20,935.80 L659.67,934.99 L661.18,934.39 L662.81,934.09 L664.46,933.97 L666.06,933.91 L667.53,933.75 L668.84,933.51 L670.02,933.24 L671.15,932.91 L672.30,932.48 L673.45,931.93 L674.58,931.27 L675.76,930.59 L677.06,929.94 L678.54,929.32 L680.14,928.69 L681.79,928.13 L683.42,927.72 L685.01,927.57 L686.59,927.62 L688.18,927.64 L689.77,927.40 L691.36,926.84 L692.95,926.07 L694.54,925.18 L696.12,924.22 L697.71,923.22 L699.30,922.12 L700.89,920.96 L702.48,919.78 L704.10,918.52 L705.75,917.20 L707.35,915.89 L708.83,914.70 L710.13,913.61 L711.31,912.59 L712.44,911.67 L713.60,910.88 L714.79,910.20 L715.98,909.61 L717.17,909.19 L718.36,908.98 L719.55,909.05 L720.74,909.35 L721.93,909.79 L723.13,910.25 L724.24,910.74 L725.31,911.30 L726.48,911.89 L727.89,912.47 L729.73,913.09 L731.86,913.76 L734.00,914.34 L735.83,914.70 L737.21,914.80 L738.31,914.71 L739.37,914.46 L740.60,914.06 L742.11,913.35 L743.77,912.39 L745.44,911.47 L746.95,910.88 L748.22,910.69 L749.33,910.74 L750.45,911.02 L751.72,911.52 L753.15,912.33 L754.69,913.42 L756.33,914.60 L758.07,915.65 L760.02,916.49 L762.14,917.26 L764.21,918.01 L766.01,918.82 L767.42,919.82 L768.59,920.93 L769.66,921.94 L770.78,922.64 L771.97,922.94 L773.16,922.97 L774.35,922.84 L775.54,922.64 L776.73,922.38 L777.92,922.02 L779.11,921.57 L780.30,921.05 L781.46,920.36 L782.59,919.52 L783.77,918.73 L785.07,918.19 L786.55,917.97 L788.15,917.95 L789.80,918.06 L791.42,918.19 L793.01,918.41 L794.60,918.75 L796.19,919.04 L797.78,919.14 L799.36,918.94 L800.95,918.55 L802.54,918.13 L804.13,917.87 L805.76,917.85 L807.41,917.97 L809.01,918.12 L810.48,918.19 L811.75,918.10 L812.87,917.93 L813.98,917.81 L815.25,917.87 L816.76,918.33 L818.42,919.06 L820.09,919.67 L821.60,919.78 L822.90,919.10 L824.08,917.89 L825.21,916.60 L826.37,915.65 L827.56,915.12 L828.75,914.79 L829.94,914.66 L831.13,914.70 L832.32,914.95 L833.51,915.41 L834.70,915.99 L835.90,916.60 L837.09,917.42 L838.28,918.43 L839.47,919.24 L840.66,919.46 L841.85,918.69 L843.04,917.24 L844.23,915.78 L845.43,915.01 L846.62,915.18 L847.81,915.91 L849.00,916.90 L850.19,917.87 L851.38,918.87 L852.57,920.02 L853.76,921.12 L854.96,922.00 L856.15,922.69 L857.34,923.25 L858.53,923.59 L859.72,923.59 L860.91,923.08 L862.10,922.16 L863.29,921.16 L864.49,920.41 L865.68,919.96 L866.87,919.64 L868.06,919.47 L869.25,919.46 L870.44,919.64 L871.63,920.00 L872.82,920.48 L874.02,921.05 L875.17,921.76 L876.30,922.62 L877.48,923.48 L878.78,924.22 L880.26,924.76 L881.86,925.18 L883.51,925.59 L885.13,926.13 L886.72,926.88 L888.31,927.76 L889.90,928.62 L891.49,929.31 L893.11,929.80 L894.76,930.18 L896.36,930.44 L897.84,930.58 L899.14,930.48 L900.32,930.18 L901.45,929.92 L902.60,929.94 L903.80,930.38 L904.99,931.09 L906.18,931.86 L907.37,932.48 L908.56,933.01 L909.75,933.52 L910.94,933.82 L912.13,933.75 L913.33,933.16 L914.52,932.17 L915.71,931.01 L916.90,929.94 L918.09,928.89 L919.28,927.76 L920.47,926.77 L921.66,926.13 L922.86,925.92 L924.05,926.01 L925.24,926.32 L926.43,926.77 L927.62,927.38 L928.81,928.20 L930.00,929.09 L931.19,929.94 L932.35,930.74 L933.48,931.53 L934.66,932.33 L935.96,933.12 L937.47,933.94 L939.14,934.77 L940.80,935.57 L942.31,936.30 L943.58,936.96 L944.70,937.59 L945.81,938.12 L947.08,938.52 L948.48,938.79 L949.96,938.94 L951.58,938.96 L953.43,938.84 L955.66,938.49 L958.20,937.94 L960.73,937.37 L962.96,936.93 L964.70,936.65 L966.14,936.44 L967.58,936.31 L969.31,936.30 L971.47,936.43 L973.88,936.69 L976.39,937.00 L978.84,937.25 L981.23,937.42 L983.61,937.57 L985.99,937.71 L988.37,937.88 L990.79,938.11 L993.24,938.36 L995.63,938.61 L997.90,938.84 L1000.19,939.03 L1002.47,939.21 L1004.46,939.37 L1005.84,939.47 L1005.84,939.40 L561.12,939.40 Z" fill="#ebebeb" stroke="none"/>
<path d="M561.12,939.47 L561.97,939.00 L563.20,938.32 L564.58,937.58 L565.88,936.93 L567.07,936.37 L568.27,935.82 L569.46,935.35 L570.65,935.03 L571.84,934.85 L573.03,934.79 L574.22,934.85 L575.41,935.03 L576.64,935.35 L577.89,935.82 L579.10,936.37 L580.18,936.93 L580.82,937.60 L581.17,938.36 L581.82,939.05 L583.35,939.47 L586.26,939.54 L590.10,939.35 L594.15,939.07 L597.65,938.84 L600.37,938.65 L602.71,938.44 L604.91,938.27 L607.18,938.20 L609.41,938.28 L611.55,938.46 L613.88,938.67 L616.71,938.84 L620.31,938.97 L624.45,939.10 L628.70,939.17 L632.59,939.16 L636.07,939.01 L639.34,938.76 L642.42,938.47 L645.30,938.20 L647.98,938.01 L650.46,937.84 L652.74,937.62 L654.83,937.25 L656.64,936.62 L658.20,935.80 L659.67,934.99 L661.18,934.39 L662.81,934.09 L664.46,933.97 L666.06,933.91 L667.53,933.75 L668.84,933.51 L670.02,933.24 L671.15,932.91 L672.30,932.48 L673.45,931.93 L674.58,931.27 L675.76,930.59 L677.06,929.94 L678.54,929.32 L680.14,928.69 L681.79,928.13 L683.42,927.72 L685.01,927.57 L686.59,927.62 L688.18,927.64 L689.77,927.40 L691.36,926.84 L692.95,926.07 L694.54,925.18 L696.12,924.22 L697.71,923.22 L699.30,922.12 L700.89,920.96 L702.48,919.78 L704.10,918.52 L705.75,917.20 L707.35,915.89 L708.83,914.70 L710.13,913.61 L711.31,912.59 L712.44,911.67 L713.60,910.88 L714.79,910.20 L715.98,909.61 L717.17,909.19 L718.36,908.98 L719.55,909.05 L720.74,909.35 L721.93,909.79 L723.13,910.25 L724.24,910.74 L725.31,911.30 L726.48,911.89 L727.89,912.47 L729.73,913.09 L731.86,913.76 L734.00,914.34 L735.83,914.70 L737.21,914.80 L738.31,914.71 L739.37,914.46 L740.60,914.06 L742.11,913.35 L743.77,912.39 L745.44,911.47 L746.95,910.88 L748.22,910.69 L749.33,910.74 L750.45,911.02 L751.72,911.52 L753.15,912.33 L754.69,913.42 L756.33,914.60 L758.07,915.65 L760.02,916.49 L762.14,917.26 L764.21,918.01 L766.01,918.82 L767.42,919.82 L768.59,920.93 L769.66,921.94 L770.78,922.64 L771.97,922.94 L773.16,922.97 L774.35,922.84 L775.54,922.64 L776.73,922.38 L777.92,922.02 L779.11,921.57 L780.30,921.05 L781.46,920.36 L782.59,919.52 L783.77,918.73 L785.07,918.19 L786.55,917.97 L788.15,917.95 L789.80,918.06 L791.42,918.19 L793.01,918.41 L794.60,918.75 L796.19,919.04 L797.78,919.14 L799.36,918.94 L800.95,918.55 L802.54,918.13 L804.13,917.87 L805.76,917.85 L807.41,917.97 L809.01,918.12 L810.48,918.19 L811.75,918.10 L812.87,917.93 L813.98,917.81 L815.25,917.87 L816.76,918.33 L818.42,919.06 L820.09,919.67 L821.60,919.78 L822.90,919.10 L824.08,917.89 L825.21,916.60 L826.37,915.65 L827.56,915.12 L828.75,914.79 L829.94,914.66 L831.13,914.70 L832.32,914.95 L833.51,915.41 L834.70,915.99 L835.90,916.60 L837.09,917.42 L838.28,918.43 L839.47,919.24 L840.66,919.46 L841.85,918.69 L843.04,917.24 L844.23,915.78 L845.43,915.01 L846.62,915.18 L847.81,915.91 L849.00,916.90 L850.19,917.87 L851.38,918.87 L852.57,920.02 L853.76,921.12 L854.96,922.00 L856.15,922.69 L857.34,923.25 L858.53,923.59 L859.72,923.59 L860.91,923.08 L862.10,922.16 L863.29,921.16 L864.49,920.41 L865.68,919.96 L866.87,919.64 L868.06,919.47 L869.25,919.46 L870.44,919.64 L871.63,920.00 L872.82,920.48 L874.02,921.05 L875.17,921.76 L876.30,922.62 L877.48,923.48 L878.78,924.22 L880.26,924.76 L881.86,925.18 L883.51,925.59 L885.13,926.13 L886.72,926.88 L888.31,927.76 L889.90,928.62 L891.49,929.31 L893.11,929.80 L894.76,930.18 L896.36,930.44 L897.84,930.58 L899.14,930.48 L900.32,930.18 L901.45,929.92 L902.60,929.94 L903.80,930.38 L904.99,931.09 L906.18,931.86 L907.37,932.48 L908.56,933.01 L909.75,933.52 L910.94,933.82 L912.13,933.75 L913.33,933.16 L914.52,932.17 L915.71,931.01 L916.90,929.94 L918.09,928.89 L919.28,927.76 L920.47,926.77 L921.66,926.13 L922.86,925.92 L924.05,926.01 L925.24,926.32 L926.43,926.77 L927.62,927.38 L928.81,928.20 L930.00,929.09 L931.19,929.94 L932.35,930.74 L933.48,931.53 L934.66,932.33 L935.96,933.12 L937.47,933.94 L939.14,934.77 L940.80,935.57 L942.31,936.30 L943.58,936.96 L944.70,937.59 L945.81,938.12 L947.08,938.52 L948.48,938.79 L949.96,938.94 L951.58,938.96 L953.43,938.84 L955.66,938.49 L958.20,937.94 L960.73,937.37 L962.96,936.93 L964.70,936.65 L966.14,936.44 L967.58,936.31 L969.31,936.30 L971.47,936.43 L973.88,936.69 L976.39,937.00 L978.84,937.25 L981.23,937.42 L983.61,937.57 L985.99,937.71 L988.37,937.88 L990.79,938.11 L993.24,938.36 L995.63,938.61 L997.90,938.84 L1000.19,939.03 L1002.47,939.21 L1004.46,939.37 L1005.84,939.47" fill="none" stroke="#0b0be6" stroke-width="2.6" stroke-linejoin="round"/>
<path d="M555.08,1015.66 L557.52,1015.52 L561.01,1015.30 L564.95,1015.09 L568.73,1014.95 L572.35,1014.90 L576.09,1014.92 L579.74,1014.95 L583.09,1014.95 L586.08,1014.91 L588.82,1014.88 L591.38,1014.79 L593.87,1014.59 L596.32,1014.18 L598.69,1013.62 L600.90,1013.10 L602.85,1012.79 L604.40,1012.78 L605.65,1012.95 L606.84,1013.22 L608.23,1013.51 L609.90,1013.88 L611.71,1014.34 L613.58,1014.75 L615.41,1014.95 L617.21,1014.87 L619.01,1014.61 L620.80,1014.25 L622.60,1013.87 L624.39,1013.51 L626.19,1013.13 L627.98,1012.66 L629.78,1012.07 L631.62,1011.30 L633.48,1010.39 L635.29,1009.42 L636.96,1008.48 L638.45,1007.57 L639.81,1006.64 L641.09,1005.74 L642.35,1004.89 L643.57,1004.05 L644.75,1003.21 L645.89,1002.49 L647.02,1002.02 L648.12,1001.83 L649.19,1001.86 L650.26,1002.06 L651.33,1002.38 L652.40,1002.89 L653.46,1003.61 L654.53,1004.34 L655.64,1004.89 L656.78,1005.29 L657.95,1005.61 L659.13,1005.75 L660.30,1005.61 L661.44,1005.14 L662.55,1004.40 L663.70,1003.45 L664.97,1002.38 L666.42,1000.93 L667.98,999.17 L669.57,997.57 L671.08,996.63 L672.48,996.58 L673.82,997.12 L675.13,997.96 L676.46,998.78 L677.81,999.73 L679.16,1000.89 L680.50,1001.90 L681.85,1002.38 L683.22,1002.10 L684.61,1001.30 L685.97,1000.32 L687.24,999.50 L688.38,998.77 L689.44,998.00 L690.47,997.44 L691.55,997.35 L692.67,997.89 L693.81,998.90 L694.99,1000.12 L696.22,1001.30 L697.51,1002.49 L698.86,1003.79 L700.24,1005.01 L701.60,1005.97 L702.91,1006.60 L704.18,1007.02 L705.52,1007.27 L706.99,1007.40 L708.66,1007.34 L710.47,1007.09 L712.33,1006.81 L714.17,1006.69 L715.97,1006.74 L717.76,1006.89 L719.56,1007.11 L721.35,1007.40 L723.19,1007.75 L725.06,1008.17 L726.87,1008.65 L728.54,1009.20 L729.97,1009.93 L731.23,1010.82 L732.49,1011.61 L733.92,1012.07 L735.64,1012.07 L737.51,1011.76 L739.39,1011.33 L741.11,1010.99 L742.58,1010.71 L743.91,1010.41 L745.19,1010.22 L746.49,1010.28 L747.80,1010.73 L749.07,1011.47 L750.41,1012.24 L751.88,1012.79 L753.55,1013.05 L755.36,1013.15 L757.22,1013.16 L759.06,1013.15 L760.86,1013.08 L762.65,1012.93 L764.45,1012.80 L766.24,1012.79 L768.08,1012.96 L769.95,1013.24 L771.76,1013.56 L773.43,1013.87 L774.90,1014.19 L776.23,1014.54 L777.51,1014.83 L778.81,1014.95 L780.12,1014.83 L781.39,1014.54 L782.73,1014.19 L784.20,1013.87 L785.87,1013.56 L787.68,1013.24 L789.54,1012.96 L791.38,1012.79 L793.18,1012.90 L794.97,1013.19 L796.77,1013.38 L798.56,1013.15 L800.36,1012.27 L802.16,1010.95 L803.95,1009.56 L805.75,1008.48 L807.63,1007.86 L809.56,1007.47 L811.39,1007.14 L812.93,1006.69 L814.04,1006.02 L814.84,1005.25 L815.58,1004.48 L816.52,1003.81 L817.74,1003.39 L819.10,1003.12 L820.52,1002.74 L821.91,1002.02 L823.25,1000.73 L824.60,999.08 L825.95,997.36 L827.29,995.91 L828.64,994.69 L829.99,993.58 L831.33,992.73 L832.68,992.32 L834.03,992.44 L835.37,992.99 L836.72,993.84 L838.07,994.83 L839.43,996.09 L840.81,997.64 L842.16,999.22 L843.45,1000.58 L844.68,1001.78 L845.86,1002.91 L847.00,1003.78 L848.12,1004.17 L849.20,1004.03 L850.23,1003.45 L851.29,1002.52 L852.43,1001.30 L853.70,999.64 L855.06,997.57 L856.45,995.39 L857.82,993.40 L859.17,991.55 L860.51,989.74 L861.86,988.14 L863.21,986.93 L864.57,986.21 L865.94,985.86 L867.30,985.77 L868.59,985.86 L869.82,986.16 L870.99,986.71 L872.14,987.37 L873.26,988.01 L874.34,988.55 L875.37,989.07 L876.43,989.69 L877.57,990.53 L878.88,991.75 L880.31,993.24 L881.71,994.73 L882.96,995.91 L883.94,996.86 L884.75,997.68 L885.57,998.16 L886.55,998.07 L887.77,997.15 L889.13,995.60 L890.55,993.84 L891.94,992.32 L893.28,991.06 L894.63,989.85 L895.98,988.80 L897.32,988.01 L898.63,987.53 L899.90,987.29 L901.24,987.24 L902.71,987.29 L904.42,987.49 L906.30,987.85 L908.18,988.29 L909.89,988.73 L911.36,989.15 L912.70,989.60 L913.97,990.07 L915.28,990.53 L916.63,990.93 L917.97,991.31 L919.32,991.75 L920.67,992.32 L922.01,993.05 L923.36,993.89 L924.71,994.85 L926.05,995.91 L927.40,997.20 L928.75,998.67 L930.09,1000.11 L931.44,1001.30 L932.79,1002.22 L934.13,1002.98 L935.48,1003.53 L936.83,1003.81 L938.17,1003.71 L939.52,1003.27 L940.87,1002.75 L942.21,1002.38 L943.56,1002.13 L944.91,1001.93 L946.25,1001.85 L947.60,1002.02 L948.95,1002.45 L950.29,1003.09 L951.64,1003.92 L952.99,1004.89 L954.29,1006.14 L955.57,1007.65 L956.90,1009.12 L958.37,1010.28 L960.08,1011.04 L961.96,1011.56 L963.84,1011.88 L965.55,1012.07 L967.03,1012.01 L968.36,1011.71 L969.64,1011.42 L970.94,1011.35 L972.20,1011.63 L973.41,1012.09 L974.73,1012.64 L976.33,1013.15 L978.32,1013.65 L980.59,1014.18 L982.98,1014.65 L985.31,1014.95 L987.55,1014.97 L989.80,1014.81 L992.04,1014.63 L994.28,1014.59 L996.74,1014.78 L999.33,1015.10 L1001.65,1015.44 L1003.26,1015.66 L1003.26,1015.80 L555.08,1015.80 Z" fill="#ebebeb" stroke="none"/>
<path d="M555.08,1015.66 L557.52,1015.52 L561.01,1015.30 L564.95,1015.09 L568.73,1014.95 L572.35,1014.90 L576.09,1014.92 L579.74,1014.95 L583.09,1014.95 L586.08,1014.91 L588.82,1014.88 L591.38,1014.79 L593.87,1014.59 L596.32,1014.18 L598.69,1013.62 L600.90,1013.10 L602.85,1012.79 L604.40,1012.78 L605.65,1012.95 L606.84,1013.22 L608.23,1013.51 L609.90,1013.88 L611.71,1014.34 L613.58,1014.75 L615.41,1014.95 L617.21,1014.87 L619.01,1014.61 L620.80,1014.25 L622.60,1013.87 L624.39,1013.51 L626.19,1013.13 L627.98,1012.66 L629.78,1012.07 L631.62,1011.30 L633.48,1010.39 L635.29,1009.42 L636.96,1008.48 L638.45,1007.57 L639.81,1006.64 L641.09,1005.74 L642.35,1004.89 L643.57,1004.05 L644.75,1003.21 L645.89,1002.49 L647.02,1002.02 L648.12,1001.83 L649.19,1001.86 L650.26,1002.06 L651.33,1002.38 L652.40,1002.89 L653.46,1003.61 L654.53,1004.34 L655.64,1004.89 L656.78,1005.29 L657.95,1005.61 L659.13,1005.75 L660.30,1005.61 L661.44,1005.14 L662.55,1004.40 L663.70,1003.45 L664.97,1002.38 L666.42,1000.93 L667.98,999.17 L669.57,997.57 L671.08,996.63 L672.48,996.58 L673.82,997.12 L675.13,997.96 L676.46,998.78 L677.81,999.73 L679.16,1000.89 L680.50,1001.90 L681.85,1002.38 L683.22,1002.10 L684.61,1001.30 L685.97,1000.32 L687.24,999.50 L688.38,998.77 L689.44,998.00 L690.47,997.44 L691.55,997.35 L692.67,997.89 L693.81,998.90 L694.99,1000.12 L696.22,1001.30 L697.51,1002.49 L698.86,1003.79 L700.24,1005.01 L701.60,1005.97 L702.91,1006.60 L704.18,1007.02 L705.52,1007.27 L706.99,1007.40 L708.66,1007.34 L710.47,1007.09 L712.33,1006.81 L714.17,1006.69 L715.97,1006.74 L717.76,1006.89 L719.56,1007.11 L721.35,1007.40 L723.19,1007.75 L725.06,1008.17 L726.87,1008.65 L728.54,1009.20 L729.97,1009.93 L731.23,1010.82 L732.49,1011.61 L733.92,1012.07 L735.64,1012.07 L737.51,1011.76 L739.39,1011.33 L741.11,1010.99 L742.58,1010.71 L743.91,1010.41 L745.19,1010.22 L746.49,1010.28 L747.80,1010.73 L749.07,1011.47 L750.41,1012.24 L751.88,1012.79 L753.55,1013.05 L755.36,1013.15 L757.22,1013.16 L759.06,1013.15 L760.86,1013.08 L762.65,1012.93 L764.45,1012.80 L766.24,1012.79 L768.08,1012.96 L769.95,1013.24 L771.76,1013.56 L773.43,1013.87 L774.90,1014.19 L776.23,1014.54 L777.51,1014.83 L778.81,1014.95 L780.12,1014.83 L781.39,1014.54 L782.73,1014.19 L784.20,1013.87 L785.87,1013.56 L787.68,1013.24 L789.54,1012.96 L791.38,1012.79 L793.18,1012.90 L794.97,1013.19 L796.77,1013.38 L798.56,1013.15 L800.36,1012.27 L802.16,1010.95 L803.95,1009.56 L805.75,1008.48 L807.63,1007.86 L809.56,1007.47 L811.39,1007.14 L812.93,1006.69 L814.04,1006.02 L814.84,1005.25 L815.58,1004.48 L816.52,1003.81 L817.74,1003.39 L819.10,1003.12 L820.52,1002.74 L821.91,1002.02 L823.25,1000.73 L824.60,999.08 L825.95,997.36 L827.29,995.91 L828.64,994.69 L829.99,993.58 L831.33,992.73 L832.68,992.32 L834.03,992.44 L835.37,992.99 L836.72,993.84 L838.07,994.83 L839.43,996.09 L840.81,997.64 L842.16,999.22 L843.45,1000.58 L844.68,1001.78 L845.86,1002.91 L847.00,1003.78 L848.12,1004.17 L849.20,1004.03 L850.23,1003.45 L851.29,1002.52 L852.43,1001.30 L853.70,999.64 L855.06,997.57 L856.45,995.39 L857.82,993.40 L859.17,991.55 L860.51,989.74 L861.86,988.14 L863.21,986.93 L864.57,986.21 L865.94,985.86 L867.30,985.77 L868.59,985.86 L869.82,986.16 L870.99,986.71 L872.14,987.37 L873.26,988.01 L874.34,988.55 L875.37,989.07 L876.43,989.69 L877.57,990.53 L878.88,991.75 L880.31,993.24 L881.71,994.73 L882.96,995.91 L883.94,996.86 L884.75,997.68 L885.57,998.16 L886.55,998.07 L887.77,997.15 L889.13,995.60 L890.55,993.84 L891.94,992.32 L893.28,991.06 L894.63,989.85 L895.98,988.80 L897.32,988.01 L898.63,987.53 L899.90,987.29 L901.24,987.24 L902.71,987.29 L904.42,987.49 L906.30,987.85 L908.18,988.29 L909.89,988.73 L911.36,989.15 L912.70,989.60 L913.97,990.07 L915.28,990.53 L916.63,990.93 L917.97,991.31 L919.32,991.75 L920.67,992.32 L922.01,993.05 L923.36,993.89 L924.71,994.85 L926.05,995.91 L927.40,997.20 L928.75,998.67 L930.09,1000.11 L931.44,1001.30 L932.79,1002.22 L934.13,1002.98 L935.48,1003.53 L936.83,1003.81 L938.17,1003.71 L939.52,1003.27 L940.87,1002.75 L942.21,1002.38 L943.56,1002.13 L944.91,1001.93 L946.25,1001.85 L947.60,1002.02 L948.95,1002.45 L950.29,1003.09 L951.64,1003.92 L952.99,1004.89 L954.29,1006.14 L955.57,1007.65 L956.90,1009.12 L958.37,1010.28 L960.08,1011.04 L961.96,1011.56 L963.84,1011.88 L965.55,1012.07 L967.03,1012.01 L968.36,1011.71 L969.64,1011.42 L970.94,1011.35 L972.20,1011.63 L973.41,1012.09 L974.73,1012.64 L976.33,1013.15 L978.32,1013.65 L980.59,1014.18 L982.98,1014.65 L985.31,1014.95 L987.55,1014.97 L989.80,1014.81 L992.04,1014.63 L994.28,1014.59 L996.74,1014.78 L999.33,1015.10 L1001.65,1015.44 L1003.26,1015.66" fill="none" stroke="#0b0be6" stroke-width="2.6" stroke-linejoin="round"/>
<line x1="697.50" y1="633.30" x2="907.00" y2="633.30" stroke="#000" stroke-width="2.4"/>
<line x1="697.50" y1="633.30" x2="697.50" y2="637.30" stroke="#000" stroke-width="1.6"/>
<text x="697.50" y="649.50" font-size="15.5" text-anchor="middle">3</text>
<line x1="739.40" y1="633.30" x2="739.40" y2="637.30" stroke="#000" stroke-width="1.6"/>
<text x="739.40" y="649.50" font-size="15.5" text-anchor="middle">5</text>
<line x1="781.30" y1="633.30" x2="781.30" y2="637.30" stroke="#000" stroke-width="1.6"/>
<text x="781.30" y="649.50" font-size="15.5" text-anchor="middle">7</text>
<line x1="823.20" y1="633.30" x2="823.20" y2="637.30" stroke="#000" stroke-width="1.6"/>
<text x="823.20" y="649.50" font-size="15.5" text-anchor="middle">9</text>
<line x1="865.10" y1="633.30" x2="865.10" y2="637.30" stroke="#000" stroke-width="1.6"/>
<text x="865.10" y="649.50" font-size="15.5" text-anchor="middle">11</text>
<line x1="907.00" y1="633.30" x2="907.00" y2="637.30" stroke="#000" stroke-width="1.6"/>
<text x="907.00" y="649.50" font-size="15.5" text-anchor="middle">13</text>
<line x1="686.30" y1="684.20" x2="876.00" y2="684.20" stroke="#000" stroke-width="2.4"/>
<line x1="698.70" y1="684.20" x2="698.70" y2="688.20" stroke="#000" stroke-width="1.6"/>
<text x="698.70" y="700.50" font-size="15.5" text-anchor="middle">12</text>
<line x1="743.03" y1="684.20" x2="743.03" y2="688.20" stroke="#000" stroke-width="1.6"/>
<text x="743.03" y="700.50" font-size="15.5" text-anchor="middle">10</text>
<line x1="787.35" y1="684.20" x2="787.35" y2="688.20" stroke="#000" stroke-width="1.6"/>
<text x="787.35" y="700.50" font-size="15.5" text-anchor="middle">8</text>
<line x1="831.67" y1="684.20" x2="831.67" y2="688.20" stroke="#000" stroke-width="1.6"/>
<text x="831.67" y="700.50" font-size="15.5" text-anchor="middle">6</text>
<line x1="876.00" y1="684.20" x2="876.00" y2="688.20" stroke="#000" stroke-width="1.6"/>
<text x="876.00" y="700.50" font-size="15.5" text-anchor="middle">4</text>
<line x1="675.90" y1="735.00" x2="901.80" y2="735.00" stroke="#000" stroke-width="2.4"/>
<line x1="675.90" y1="735.00" x2="675.90" y2="739.00" stroke="#000" stroke-width="1.6"/>
<text x="675.90" y="751.30" font-size="15.5" text-anchor="middle">3.5</text>
<line x1="711.00" y1="735.00" x2="711.00" y2="739.00" stroke="#000" stroke-width="1.6"/>
<text x="711.00" y="751.30" font-size="15.5" text-anchor="middle">4.5</text>
<line x1="746.10" y1="735.00" x2="746.10" y2="739.00" stroke="#000" stroke-width="1.6"/>
<text x="746.10" y="751.30" font-size="15.5" text-anchor="middle">5.5</text>
<line x1="781.20" y1="735.00" x2="781.20" y2="739.00" stroke="#000" stroke-width="1.6"/>
<text x="781.20" y="751.30" font-size="15.5" text-anchor="middle">6.5</text>
<line x1="816.30" y1="735.00" x2="816.30" y2="739.00" stroke="#000" stroke-width="1.6"/>
<text x="816.30" y="751.30" font-size="15.5" text-anchor="middle">7.5</text>
<line x1="851.40" y1="735.00" x2="851.40" y2="739.00" stroke="#000" stroke-width="1.6"/>
<text x="851.40" y="751.30" font-size="15.5" text-anchor="middle">8.5</text>
<line x1="886.50" y1="735.00" x2="886.50" y2="739.00" stroke="#000" stroke-width="1.6"/>
<text x="886.50" y="751.30" font-size="15.5" text-anchor="middle">9.5</text>
<line x1="636.00" y1="786.00" x2="934.60" y2="786.00" stroke="#000" stroke-width="2.4"/>
<line x1="636.00" y1="786.00" x2="636.00" y2="790.00" stroke="#000" stroke-width="1.6"/>
<text x="636.00" y="802.30" font-size="15.5" text-anchor="middle">11</text>
<line x1="678.66" y1="786.00" x2="678.66" y2="790.00" stroke="#000" stroke-width="1.6"/>
<text x="678.66" y="802.30" font-size="15.5" text-anchor="middle">10</text>
<line x1="721.31" y1="786.00" x2="721.31" y2="790.00" stroke="#000" stroke-width="1.6"/>
<text x="721.31" y="802.30" font-size="15.5" text-anchor="middle">9</text>
<line x1="763.97" y1="786.00" x2="763.97" y2="790.00" stroke="#000" stroke-width="1.6"/>
<text x="763.97" y="802.30" font-size="15.5" text-anchor="middle">8</text>
<line x1="806.63" y1="786.00" x2="806.63" y2="790.00" stroke="#000" stroke-width="1.6"/>
<text x="806.63" y="802.30" font-size="15.5" text-anchor="middle">7</text>
<line x1="849.29" y1="786.00" x2="849.29" y2="790.00" stroke="#000" stroke-width="1.6"/>
<text x="849.29" y="802.30" font-size="15.5" text-anchor="middle">6</text>
<line x1="891.94" y1="786.00" x2="891.94" y2="790.00" stroke="#000" stroke-width="1.6"/>
<text x="891.94" y="802.30" font-size="15.5" text-anchor="middle">5</text>
<line x1="934.60" y1="786.00" x2="934.60" y2="790.00" stroke="#000" stroke-width="1.6"/>
<text x="934.60" y="802.30" font-size="15.5" text-anchor="middle">4</text>
<line x1="588.30" y1="837.00" x2="957.60" y2="837.00" stroke="#000" stroke-width="2.4"/>
<line x1="588.30" y1="837.00" x2="588.30" y2="841.00" stroke="#000" stroke-width="1.6"/>
<text x="588.30" y="853.30" font-size="15.5" text-anchor="middle">2</text>
<line x1="619.07" y1="837.00" x2="619.07" y2="841.00" stroke="#000" stroke-width="1.6"/>
<text x="619.07" y="853.30" font-size="15.5" text-anchor="middle">3</text>
<line x1="649.85" y1="837.00" x2="649.85" y2="841.00" stroke="#000" stroke-width="1.6"/>
<text x="649.85" y="853.30" font-size="15.5" text-anchor="middle">4</text>
<line x1="680.62" y1="837.00" x2="680.62" y2="841.00" stroke="#000" stroke-width="1.6"/>
<text x="680.62" y="853.30" font-size="15.5" text-anchor="middle">5</text>
<line x1="711.40" y1="837.00" x2="711.40" y2="841.00" stroke="#000" stroke-width="1.6"/>
<text x="711.40" y="853.30" font-size="15.5" text-anchor="middle">6</text>
<line x1="742.17" y1="837.00" x2="742.17" y2="841.00" stroke="#000" stroke-width="1.6"/>
<text x="742.17" y="853.30" font-size="15.5" text-anchor="middle">7</text>
<line x1="772.95" y1="837.00" x2="772.95" y2="841.00" stroke="#000" stroke-width="1.6"/>
<text x="772.95" y="853.30" font-size="15.5" text-anchor="middle">8</text>
<line x1="803.73" y1="837.00" x2="803.73" y2="841.00" stroke="#000" stroke-width="1.6"/>
<text x="803.73" y="853.30" font-size="15.5" text-anchor="middle">9</text>
<line x1="834.50" y1="837.00" x2="834.50" y2="841.00" stroke="#000" stroke-width="1.6"/>
<text x="834.50" y="853.30" font-size="15.5" text-anchor="middle">10</text>
<line x1="865.28" y1="837.00" x2="865.28" y2="841.00" stroke="#000" stroke-width="1.6"/>
<text x="865.28" y="853.30" font-size="15.5" text-anchor="middle">11</text>
<line x1="896.05" y1="837.00" x2="896.05" y2="841.00" stroke="#000" stroke-width="1.6"/>
<text x="896.05" y="853.30" font-size="15.5" text-anchor="middle">12</text>
<line x1="926.83" y1="837.00" x2="926.83" y2="841.00" stroke="#000" stroke-width="1.6"/>
<text x="926.83" y="853.30" font-size="15.5" text-anchor="middle">13</text>
<line x1="957.60" y1="837.00" x2="957.60" y2="841.00" stroke="#000" stroke-width="1.6"/>
<text x="957.60" y="853.30" font-size="15.5" text-anchor="middle">14</text>
<line x1="591.00" y1="888.00" x2="968.10" y2="888.00" stroke="#000" stroke-width="2.4"/>
<line x1="591.00" y1="888.00" x2="591.00" y2="892.00" stroke="#000" stroke-width="1.6"/>
<text x="591.00" y="904.30" font-size="15.5" text-anchor="middle">7.5</text>
<line x1="666.42" y1="888.00" x2="666.42" y2="892.00" stroke="#000" stroke-width="1.6"/>
<text x="666.42" y="904.30" font-size="15.5" text-anchor="middle">8.5</text>
<line x1="741.84" y1="888.00" x2="741.84" y2="892.00" stroke="#000" stroke-width="1.6"/>
<text x="741.84" y="904.30" font-size="15.5" text-anchor="middle">9.5</text>
<line x1="817.26" y1="888.00" x2="817.26" y2="892.00" stroke="#000" stroke-width="1.6"/>
<text x="817.26" y="904.30" font-size="15.5" text-anchor="middle">10.5</text>
<line x1="892.68" y1="888.00" x2="892.68" y2="892.00" stroke="#000" stroke-width="1.6"/>
<text x="892.68" y="904.30" font-size="15.5" text-anchor="middle">11.5</text>
<line x1="968.10" y1="888.00" x2="968.10" y2="892.00" stroke="#000" stroke-width="1.6"/>
<text x="968.10" y="904.30" font-size="15.5" text-anchor="middle">12.5</text>
<line x1="564.30" y1="939.40" x2="993.80" y2="939.40" stroke="#000" stroke-width="2.4"/>
<line x1="564.30" y1="939.40" x2="564.30" y2="943.40" stroke="#000" stroke-width="1.6"/>
<text x="564.30" y="955.70" font-size="15.5" text-anchor="middle">2</text>
<line x1="607.25" y1="939.40" x2="607.25" y2="943.40" stroke="#000" stroke-width="1.6"/>
<text x="607.25" y="955.70" font-size="15.5" text-anchor="middle">3</text>
<line x1="650.20" y1="939.40" x2="650.20" y2="943.40" stroke="#000" stroke-width="1.6"/>
<text x="650.20" y="955.70" font-size="15.5" text-anchor="middle">4</text>
<line x1="693.15" y1="939.40" x2="693.15" y2="943.40" stroke="#000" stroke-width="1.6"/>
<text x="693.15" y="955.70" font-size="15.5" text-anchor="middle">5</text>
<line x1="736.10" y1="939.40" x2="736.10" y2="943.40" stroke="#000" stroke-width="1.6"/>
<text x="736.10" y="955.70" font-size="15.5" text-anchor="middle">6</text>
<line x1="779.05" y1="939.40" x2="779.05" y2="943.40" stroke="#000" stroke-width="1.6"/>
<text x="779.05" y="955.70" font-size="15.5" text-anchor="middle">7</text>
<line x1="822.00" y1="939.40" x2="822.00" y2="943.40" stroke="#000" stroke-width="1.6"/>
<text x="822.00" y="955.70" font-size="15.5" text-anchor="middle">8</text>
<line x1="864.95" y1="939.40" x2="864.95" y2="943.40" stroke="#000" stroke-width="1.6"/>
<text x="864.95" y="955.70" font-size="15.5" text-anchor="middle">9</text>
<line x1="907.90" y1="939.40" x2="907.90" y2="943.40" stroke="#000" stroke-width="1.6"/>
<text x="907.90" y="955.70" font-size="15.5" text-anchor="middle">10</text>
<line x1="950.85" y1="939.40" x2="950.85" y2="943.40" stroke="#000" stroke-width="1.6"/>
<text x="950.85" y="955.70" font-size="15.5" text-anchor="middle">11</text>
<line x1="993.80" y1="939.40" x2="993.80" y2="943.40" stroke="#000" stroke-width="1.6"/>
<text x="993.80" y="955.70" font-size="15.5" text-anchor="middle">12</text>
<text x="460.50" y="977.00" font-size="17.4" font-weight="bold" font-style="italic">Total points</text>
<line x1="555.10" y1="1015.80" x2="1044.60" y2="1015.80" stroke="#000" stroke-width="2.4"/>
<line x1="555.10" y1="1015.80" x2="555.10" y2="1019.80" stroke="#000" stroke-width="1.6"/>
<text x="555.10" y="1033.30" font-size="15.5" text-anchor="middle">200</text>
<line x1="636.68" y1="1015.80" x2="636.68" y2="1019.80" stroke="#000" stroke-width="1.6"/>
<text x="636.68" y="1033.30" font-size="15.5" text-anchor="middle">250</text>
<line x1="718.27" y1="1015.80" x2="718.27" y2="1019.80" stroke="#000" stroke-width="1.6"/>
<text x="718.27" y="1033.30" font-size="15.5" text-anchor="middle">300</text>
<line x1="799.85" y1="1015.80" x2="799.85" y2="1019.80" stroke="#000" stroke-width="1.6"/>
<text x="799.85" y="1033.30" font-size="15.5" text-anchor="middle">350</text>
<line x1="881.43" y1="1015.80" x2="881.43" y2="1019.80" stroke="#000" stroke-width="1.6"/>
<text x="881.43" y="1033.30" font-size="15.5" text-anchor="middle">400</text>
<line x1="963.02" y1="1015.80" x2="963.02" y2="1019.80" stroke="#000" stroke-width="1.6"/>
<text x="963.02" y="1033.30" font-size="15.5" text-anchor="middle">450</text>
<line x1="1044.60" y1="1015.80" x2="1044.60" y2="1019.80" stroke="#000" stroke-width="1.6"/>
<text x="1044.60" y="1033.30" font-size="15.5" text-anchor="middle">500</text>
<text x="569.50" y="1068.00" font-size="15.8" font-style="italic">Pr( y )</text>
<line x1="653.10" y1="1057.00" x2="858.90" y2="1057.00" stroke="#000" stroke-width="2.4"/>
<line x1="653.10" y1="1057.00" x2="653.10" y2="1061.00" stroke="#000" stroke-width="1.6"/>
<line x1="690.80" y1="1057.00" x2="690.80" y2="1061.00" stroke="#000" stroke-width="1.6"/>
<line x1="727.50" y1="1057.00" x2="727.50" y2="1061.00" stroke="#000" stroke-width="1.6"/>
<line x1="769.80" y1="1057.00" x2="769.80" y2="1061.00" stroke="#000" stroke-width="1.6"/>
<line x1="811.10" y1="1057.00" x2="811.10" y2="1061.00" stroke="#000" stroke-width="1.6"/>
<line x1="858.90" y1="1057.00" x2="858.90" y2="1061.00" stroke="#000" stroke-width="1.6"/>
<text x="653.80" y="1073.80" font-size="16.2" text-anchor="middle">0.002</text>
<text x="691.20" y="1073.80" font-size="16.2" text-anchor="middle">0.02</text>
<text x="727.50" y="1073.80" font-size="16.2" text-anchor="middle">0.15</text>
<text x="769.10" y="1073.80" font-size="16.2" text-anchor="middle">0.7</text>
<text x="810.40" y="1073.80" font-size="16.2" text-anchor="middle">0.965</text>
<text x="858.80" y="1073.80" font-size="16.2" text-anchor="middle">0.998</text>
<text x="-0.30" y="1161.90" font-size="41.5">E</text>
<clipPath id="clipE"><rect x="79.2" y="1192.3" width="364.3" height="311.20000000000005"/></clipPath>
<rect x="79.20" y="1192.30" width="364.30" height="311.20" fill="none" stroke="#333" stroke-width="1.1"/>
<line x1="92.50" y1="1503.50" x2="92.50" y2="1512.80" stroke="#333" stroke-width="1.1"/>
<text x="92.50" y="1535.50" font-size="15" text-anchor="middle">0.0</text>
<line x1="79.20" y1="1491.90" x2="69.90" y2="1491.90" stroke="#333" stroke-width="1.1"/>
<text x="58.50" y="1491.90" font-size="15" text-anchor="middle" transform="rotate(-90 58.50 1491.90)">0.0</text>
<line x1="160.00" y1="1503.50" x2="160.00" y2="1512.80" stroke="#333" stroke-width="1.1"/>
<text x="160.00" y="1535.50" font-size="15" text-anchor="middle">0.2</text>
<line x1="79.20" y1="1434.22" x2="69.90" y2="1434.22" stroke="#333" stroke-width="1.1"/>
<text x="58.50" y="1434.22" font-size="15" text-anchor="middle" transform="rotate(-90 58.50 1434.22)">0.2</text>
<line x1="227.50" y1="1503.50" x2="227.50" y2="1512.80" stroke="#333" stroke-width="1.1"/>
<text x="227.50" y="1535.50" font-size="15" text-anchor="middle">0.4</text>
<line x1="79.20" y1="1376.54" x2="69.90" y2="1376.54" stroke="#333" stroke-width="1.1"/>
<text x="58.50" y="1376.54" font-size="15" text-anchor="middle" transform="rotate(-90 58.50 1376.54)">0.4</text>
<line x1="295.00" y1="1503.50" x2="295.00" y2="1512.80" stroke="#333" stroke-width="1.1"/>
<text x="295.00" y="1535.50" font-size="15" text-anchor="middle">0.6</text>
<line x1="79.20" y1="1318.86" x2="69.90" y2="1318.86" stroke="#333" stroke-width="1.1"/>
<text x="58.50" y="1318.86" font-size="15" text-anchor="middle" transform="rotate(-90 58.50 1318.86)">0.6</text>
<line x1="362.50" y1="1503.50" x2="362.50" y2="1512.80" stroke="#333" stroke-width="1.1"/>
<text x="362.50" y="1535.50" font-size="15" text-anchor="middle">0.8</text>
<line x1="79.20" y1="1261.18" x2="69.90" y2="1261.18" stroke="#333" stroke-width="1.1"/>
<text x="58.50" y="1261.18" font-size="15" text-anchor="middle" transform="rotate(-90 58.50 1261.18)">0.8</text>
<line x1="430.00" y1="1503.50" x2="430.00" y2="1512.80" stroke="#333" stroke-width="1.1"/>
<text x="430.00" y="1535.50" font-size="15" text-anchor="middle">1.0</text>
<line x1="79.20" y1="1203.50" x2="69.90" y2="1203.50" stroke="#333" stroke-width="1.1"/>
<text x="58.50" y="1203.50" font-size="15" text-anchor="middle" transform="rotate(-90 58.50 1203.50)">1.0</text>
<text x="260.90" y="1570.80" font-size="15.3" text-anchor="middle">Predicted Probability</text>
<text x="23.50" y="1347.00" font-size="15" text-anchor="middle" transform="rotate(-90 23.50 1347.00)">Observed Probability</text>
<text x="79.60" y="1588.80" font-size="11.2">B= 1000 repetitions, boot</text>
<text x="442.50" y="1588.80" font-size="11.2" text-anchor="end">Mean absolute error=0.012 n=374</text>
<line x1="95.71" y1="1192.30" x2="95.71" y2="1196.30" stroke="#333" stroke-width="0.9"/>
<line x1="99.25" y1="1192.30" x2="99.25" y2="1194.80" stroke="#555" stroke-width="0.8"/>
<line x1="101.95" y1="1192.30" x2="101.95" y2="1194.30" stroke="#555" stroke-width="0.8"/>
<line x1="428.99" y1="1192.30" x2="428.99" y2="1209.30" stroke="#333" stroke-width="1.0"/>
<g clip-path="url(#clipE)">
<line x1="75.62" y1="1506.32" x2="450.25" y2="1186.20" stroke="#d01c1c" stroke-width="1.6"/>
<path d="M92.50,1486.42 L96.68,1484.33 L102.67,1481.36 L109.48,1477.82 L116.12,1474.02 L122.43,1469.90 L128.89,1465.33 L135.54,1460.57 L142.45,1455.85 L149.79,1451.16 L157.47,1446.40 L165.15,1441.68 L172.49,1437.10 L179.17,1432.88 L185.46,1428.88 L191.84,1424.75 L198.81,1420.09 L206.92,1414.45 L215.75,1408.16 L224.39,1401.99 L231.89,1396.73 L237.87,1392.73 L242.88,1389.52 L247.37,1386.67 L251.80,1383.75 L256.25,1380.78 L260.49,1377.95 L264.52,1375.06 L268.34,1371.93 L271.63,1368.81 L274.50,1365.71 L277.58,1362.04 L281.50,1357.22 L286.65,1350.72 L292.62,1342.98 L298.85,1334.86 L304.79,1327.22 L310.65,1320.05 L316.62,1312.97 L322.07,1306.30 L326.39,1300.40 L328.69,1295.60 L329.55,1291.64 L330.52,1287.95 L333.14,1283.96 L338.15,1279.31 L344.61,1274.37 L351.58,1269.69 L358.11,1265.79 L364.37,1262.78 L370.73,1260.37 L376.51,1258.58 L381.06,1257.43 L383.89,1257.32 L385.45,1258.12 L386.50,1259.00 L387.81,1259.16 L389.47,1258.48 L391.10,1257.36 L392.78,1255.77 L394.56,1253.68 L396.55,1251.33 L398.68,1248.65 L400.77,1245.17 L402.66,1240.42 L404.21,1233.29 L405.53,1224.37 L406.85,1215.69 L408.40,1209.27 L410.13,1205.91 L411.96,1204.44 L414.04,1203.94 L416.50,1203.50 L419.81,1203.09 L423.76,1203.14 L427.45,1203.36 L430.00,1203.50" stroke="#22cc22" stroke-width="2.2" fill="none" stroke-linejoin="round"/>
<path d="M92.50,1484.69 L96.68,1482.69 L102.67,1479.84 L109.48,1476.46 L116.12,1472.87 L122.43,1468.99 L128.89,1464.72 L135.54,1460.27 L142.45,1455.85 L149.79,1451.47 L157.47,1447.02 L165.15,1442.59 L172.49,1438.26 L179.17,1434.19 L185.46,1430.29 L191.84,1426.27 L198.81,1421.82 L206.92,1416.54 L215.75,1410.70 L224.39,1405.01 L231.89,1400.19 L237.87,1396.52 L242.88,1393.59 L247.37,1391.08 L251.80,1388.65 L256.25,1386.49 L260.49,1384.69 L264.52,1382.77 L268.34,1380.29 L271.63,1377.32 L274.50,1374.03 L277.58,1370.13 L281.50,1365.29 L286.65,1359.04 L292.62,1351.67 L298.85,1344.04 L304.79,1337.03 L310.61,1330.68 L316.52,1324.59 L321.95,1318.95 L326.39,1313.96 L329.47,1309.60 L331.56,1305.81 L333.17,1302.63 L334.82,1300.11 L336.33,1298.56 L337.50,1297.84 L338.95,1297.40 L341.24,1296.65 L344.58,1295.49 L348.64,1294.20 L353.22,1292.84 L358.11,1291.46 L363.80,1289.91 L370.22,1288.22 L376.32,1286.70 L381.06,1285.69 L383.85,1285.61 L385.34,1286.16 L386.39,1286.63 L387.81,1286.27 L389.85,1284.91 L392.05,1282.92 L394.24,1280.44 L396.25,1277.62 L398.03,1274.67 L399.67,1271.45 L401.20,1267.57 L402.66,1262.62 L403.98,1255.79 L405.17,1247.52 L406.37,1239.30 L407.73,1232.63 L409.09,1228.13 L410.45,1224.93 L412.13,1222.27 L414.47,1219.36 L418.10,1215.79 L422.66,1212.04 L427.00,1208.71 L430.00,1206.38" stroke="#1010d8" stroke-width="3.8" fill="none" stroke-linejoin="round"/>
</g>
<line x1="350.40" y1="1464.60" x2="368.00" y2="1464.60" stroke="#22cc22" stroke-width="1.7"/>
<text x="376.60" y="1469.20" font-size="11.4" clip-path="url(#clipE)">Apparent</text>
<line x1="350.40" y1="1477.40" x2="368.00" y2="1477.40" stroke="#1a1ad0" stroke-width="1.7"/>
<text x="376.60" y="1482.00" font-size="11.4" clip-path="url(#clipE)">Bias-correcte</text>
<line x1="350.40" y1="1490.60" x2="368.00" y2="1490.60" stroke="#d01c1c" stroke-width="1.7"/>
<text x="376.60" y="1495.20" font-size="11.4" clip-path="url(#clipE)">Ideal</text>
<text x="521.90" y="1163.90" font-size="41.5">F</text>
<rect x="601.40" y="1186.30" width="364.00" height="364.60" fill="none" stroke="#333" stroke-width="1.1"/>
<line x1="614.40" y1="1186.30" x2="614.40" y2="1550.90" stroke="#000" stroke-width="1" stroke-dasharray="1.2,2.2"/>
<line x1="601.40" y1="1538.00" x2="965.40" y2="1538.00" stroke="#000" stroke-width="1" stroke-dasharray="1.2,2.2"/>
<line x1="614.40" y1="1550.90" x2="614.40" y2="1560.20" stroke="#333" stroke-width="1.1"/>
<text x="614.40" y="1583.80" font-size="15" text-anchor="middle">0.0</text>
<line x1="601.40" y1="1538.00" x2="592.10" y2="1538.00" stroke="#333" stroke-width="1.1"/>
<text x="580.80" y="1538.00" font-size="15" text-anchor="middle" transform="rotate(-90 580.80 1538.00)">0.0</text>
<line x1="681.88" y1="1186.30" x2="681.88" y2="1550.90" stroke="#000" stroke-width="1" stroke-dasharray="1.2,2.2"/>
<line x1="601.40" y1="1470.52" x2="965.40" y2="1470.52" stroke="#000" stroke-width="1" stroke-dasharray="1.2,2.2"/>
<line x1="681.88" y1="1550.90" x2="681.88" y2="1560.20" stroke="#333" stroke-width="1.1"/>
<text x="681.88" y="1583.80" font-size="15" text-anchor="middle">0.2</text>
<line x1="601.40" y1="1470.52" x2="592.10" y2="1470.52" stroke="#333" stroke-width="1.1"/>
<text x="580.80" y="1470.52" font-size="15" text-anchor="middle" transform="rotate(-90 580.80 1470.52)">0.2</text>
<line x1="749.36" y1="1186.30" x2="749.36" y2="1550.90" stroke="#000" stroke-width="1" stroke-dasharray="1.2,2.2"/>
<line x1="601.40" y1="1403.04" x2="965.40" y2="1403.04" stroke="#000" stroke-width="1" stroke-dasharray="1.2,2.2"/>
<line x1="749.36" y1="1550.90" x2="749.36" y2="1560.20" stroke="#333" stroke-width="1.1"/>
<text x="749.36" y="1583.80" font-size="15" text-anchor="middle">0.4</text>
<line x1="601.40" y1="1403.04" x2="592.10" y2="1403.04" stroke="#333" stroke-width="1.1"/>
<text x="580.80" y="1403.04" font-size="15" text-anchor="middle" transform="rotate(-90 580.80 1403.04)">0.4</text>
<line x1="816.84" y1="1186.30" x2="816.84" y2="1550.90" stroke="#000" stroke-width="1" stroke-dasharray="1.2,2.2"/>
<line x1="601.40" y1="1335.56" x2="965.40" y2="1335.56" stroke="#000" stroke-width="1" stroke-dasharray="1.2,2.2"/>
<line x1="816.84" y1="1550.90" x2="816.84" y2="1560.20" stroke="#333" stroke-width="1.1"/>
<text x="816.84" y="1583.80" font-size="15" text-anchor="middle">0.6</text>
<line x1="601.40" y1="1335.56" x2="592.10" y2="1335.56" stroke="#333" stroke-width="1.1"/>
<text x="580.80" y="1335.56" font-size="15" text-anchor="middle" transform="rotate(-90 580.80 1335.56)">0.6</text>
<line x1="884.32" y1="1186.30" x2="884.32" y2="1550.90" stroke="#000" stroke-width="1" stroke-dasharray="1.2,2.2"/>
<line x1="601.40" y1="1268.08" x2="965.40" y2="1268.08" stroke="#000" stroke-width="1" stroke-dasharray="1.2,2.2"/>
<line x1="884.32" y1="1550.90" x2="884.32" y2="1560.20" stroke="#333" stroke-width="1.1"/>
<text x="884.32" y="1583.80" font-size="15" text-anchor="middle">0.8</text>
<line x1="601.40" y1="1268.08" x2="592.10" y2="1268.08" stroke="#333" stroke-width="1.1"/>
<text x="580.80" y="1268.08" font-size="15" text-anchor="middle" transform="rotate(-90 580.80 1268.08)">0.8</text>
<line x1="951.80" y1="1186.30" x2="951.80" y2="1550.90" stroke="#000" stroke-width="1" stroke-dasharray="1.2,2.2"/>
<line x1="601.40" y1="1200.60" x2="965.40" y2="1200.60" stroke="#000" stroke-width="1" stroke-dasharray="1.2,2.2"/>
<line x1="951.80" y1="1550.90" x2="951.80" y2="1560.20" stroke="#333" stroke-width="1.1"/>
<text x="951.80" y="1583.80" font-size="15" text-anchor="middle">1.0</text>
<line x1="601.40" y1="1200.60" x2="592.10" y2="1200.60" stroke="#333" stroke-width="1.1"/>
<text x="580.80" y="1200.60" font-size="15" text-anchor="middle" transform="rotate(-90 580.80 1200.60)">1.0</text>
<text x="783.10" y="1610.50" font-size="15.2" text-anchor="middle">1 - Specificity</text>
<text x="554.20" y="1369.30" font-size="15" text-anchor="middle" transform="rotate(-90 554.20 1369.30)">Sensitivity</text>
<line x1="601.40" y1="1550.90" x2="965.40" y2="1186.30" stroke="#c8c8c8" stroke-width="1"/>
<path d="M614.40,1538.00 L614.40,1295.07 L617.77,1295.07 L617.77,1261.33 L620.14,1261.33 L620.14,1214.10 L621.49,1210.72 L623.85,1205.66 L627.90,1203.97 L628.57,1200.60 L951.80,1200.60" stroke="#e64b35" stroke-width="2.2" fill="none"/>
<path d="M614.40,1538.00 L614.40,1342.31 L617.10,1342.31 L617.10,1207.35 L629.25,1207.35 L629.25,1200.60 L951.80,1200.60" stroke="#7fd175" stroke-width="3.0" fill="none"/>
<text x="817.20" y="1476.80" font-size="15.4">P value = 0.89337</text>
<line x1="761.90" y1="1489.60" x2="786.70" y2="1489.60" stroke="#e64b35" stroke-width="1.8"/>
<text x="798.30" y="1495.00" font-size="15.4">Train_AUC:0.996</text>
<line x1="761.90" y1="1508.50" x2="786.70" y2="1508.50" stroke="#7fd175" stroke-width="1.8"/>
<text x="798.30" y="1513.90" font-size="15.4">Validation_AUC:0.996</text>
<text x="1011.20" y="1162.30" font-size="41.5">G</text>
<rect x="1076.30" y="1186.90" width="364.90" height="363.90" fill="none" stroke="#333" stroke-width="1.1"/>
<line x1="1090.20" y1="1186.90" x2="1090.20" y2="1550.80" stroke="#000" stroke-width="1" stroke-dasharray="1.2,2.2"/>
<line x1="1076.30" y1="1537.90" x2="1441.20" y2="1537.90" stroke="#000" stroke-width="1" stroke-dasharray="1.2,2.2"/>
<line x1="1090.20" y1="1550.80" x2="1090.20" y2="1560.10" stroke="#333" stroke-width="1.1"/>
<text x="1090.20" y="1583.80" font-size="15" text-anchor="middle">0.0</text>
<line x1="1076.30" y1="1537.90" x2="1067.00" y2="1537.90" stroke="#333" stroke-width="1.1"/>
<text x="1054.50" y="1537.90" font-size="15" text-anchor="middle" transform="rotate(-90 1054.50 1537.90)">0.0</text>
<line x1="1157.62" y1="1186.90" x2="1157.62" y2="1550.80" stroke="#000" stroke-width="1" stroke-dasharray="1.2,2.2"/>
<line x1="1076.30" y1="1470.36" x2="1441.20" y2="1470.36" stroke="#000" stroke-width="1" stroke-dasharray="1.2,2.2"/>
<line x1="1157.62" y1="1550.80" x2="1157.62" y2="1560.10" stroke="#333" stroke-width="1.1"/>
<text x="1157.62" y="1583.80" font-size="15" text-anchor="middle">0.2</text>
<line x1="1076.30" y1="1470.36" x2="1067.00" y2="1470.36" stroke="#333" stroke-width="1.1"/>
<text x="1054.50" y="1470.36" font-size="15" text-anchor="middle" transform="rotate(-90 1054.50 1470.36)">0.2</text>
<line x1="1225.04" y1="1186.90" x2="1225.04" y2="1550.80" stroke="#000" stroke-width="1" stroke-dasharray="1.2,2.2"/>
<line x1="1076.30" y1="1402.82" x2="1441.20" y2="1402.82" stroke="#000" stroke-width="1" stroke-dasharray="1.2,2.2"/>
<line x1="1225.04" y1="1550.80" x2="1225.04" y2="1560.10" stroke="#333" stroke-width="1.1"/>
<text x="1225.04" y="1583.80" font-size="15" text-anchor="middle">0.4</text>
<line x1="1076.30" y1="1402.82" x2="1067.00" y2="1402.82" stroke="#333" stroke-width="1.1"/>
<text x="1054.50" y="1402.82" font-size="15" text-anchor="middle" transform="rotate(-90 1054.50 1402.82)">0.4</text>
<line x1="1292.46" y1="1186.90" x2="1292.46" y2="1550.80" stroke="#000" stroke-width="1" stroke-dasharray="1.2,2.2"/>
<line x1="1076.30" y1="1335.28" x2="1441.20" y2="1335.28" stroke="#000" stroke-width="1" stroke-dasharray="1.2,2.2"/>
<line x1="1292.46" y1="1550.80" x2="1292.46" y2="1560.10" stroke="#333" stroke-width="1.1"/>
<text x="1292.46" y="1583.80" font-size="15" text-anchor="middle">0.6</text>
<line x1="1076.30" y1="1335.28" x2="1067.00" y2="1335.28" stroke="#333" stroke-width="1.1"/>
<text x="1054.50" y="1335.28" font-size="15" text-anchor="middle" transform="rotate(-90 1054.50 1335.28)">0.6</text>
<line x1="1359.88" y1="1186.90" x2="1359.88" y2="1550.80" stroke="#000" stroke-width="1" stroke-dasharray="1.2,2.2"/>
<line x1="1076.30" y1="1267.74" x2="1441.20" y2="1267.74" stroke="#000" stroke-width="1" stroke-dasharray="1.2,2.2"/>
<line x1="1359.88" y1="1550.80" x2="1359.88" y2="1560.10" stroke="#333" stroke-width="1.1"/>
<text x="1359.88" y="1583.80" font-size="15" text-anchor="middle">0.8</text>
<line x1="1076.30" y1="1267.74" x2="1067.00" y2="1267.74" stroke="#333" stroke-width="1.1"/>
<text x="1054.50" y="1267.74" font-size="15" text-anchor="middle" transform="rotate(-90 1054.50 1267.74)">0.8</text>
<line x1="1427.30" y1="1186.90" x2="1427.30" y2="1550.80" stroke="#000" stroke-width="1" stroke-dasharray="1.2,2.2"/>
<line x1="1076.30" y1="1200.20" x2="1441.20" y2="1200.20" stroke="#000" stroke-width="1" stroke-dasharray="1.2,2.2"/>
<line x1="1427.30" y1="1550.80" x2="1427.30" y2="1560.10" stroke="#333" stroke-width="1.1"/>
<text x="1427.30" y="1583.80" font-size="15" text-anchor="middle">1.0</text>
<line x1="1076.30" y1="1200.20" x2="1067.00" y2="1200.20" stroke="#333" stroke-width="1.1"/>
<text x="1054.50" y="1200.20" font-size="15" text-anchor="middle" transform="rotate(-90 1054.50 1200.20)">1.0</text>
<text x="1258.75" y="1610.50" font-size="15.2" text-anchor="middle">1 - Specificity</text>
<text x="1028.50" y="1369.05" font-size="15" text-anchor="middle" transform="rotate(-90 1028.50 1369.05)">Sensitivity</text>
<line x1="1076.30" y1="1550.80" x2="1441.20" y2="1186.90" stroke="#c8c8c8" stroke-width="1"/>
<path d="M1090.20,1412.95 L1090.20,1323.46 L1092.22,1323.46 L1092.22,1321.77 L1098.63,1321.77 L1098.63,1284.62 L1099.64,1284.62 L1099.64,1240.72 L1117.17,1240.72 L1117.17,1220.46 L1145.15,1220.46 L1145.15,1200.20 L1403.70,1200.20" stroke="#e64b35" stroke-width="2.6" fill="none"/>
<path d="M1092.90,1483.87 L1092.90,1385.94 L1094.25,1385.94 L1094.25,1291.38 L1096.94,1291.38 L1096.94,1260.99 L1098.63,1260.99 L1098.63,1233.97 L1102.00,1233.97 L1102.00,1220.46 L1105.37,1217.09 L1117.17,1215.40 L1144.14,1215.40 L1144.14,1210.33 L1177.85,1210.33 L1177.85,1206.95 L1204.81,1206.95 L1204.81,1203.58 L1403.70,1203.58 L1403.70,1200.20 L1427.30,1200.20" stroke="#8fd47f" stroke-width="2.6" fill="none"/>
<path d="M1090.20,1537.90 L1090.20,1414.64 L1093.57,1414.64 L1093.57,1355.54 L1096.27,1355.54 L1096.27,1257.61 L1098.96,1257.61 L1098.96,1227.22 L1100.99,1227.22 L1100.99,1218.77 L1117.17,1218.77 L1117.17,1212.69 L1388.53,1212.69 L1388.53,1206.28 L1427.30,1206.28 L1427.30,1200.20" stroke="#2b8a6e" stroke-width="2.6" fill="none"/>
<line x1="1203.00" y1="1456.10" x2="1227.90" y2="1456.10" stroke="#e64b35" stroke-width="1.8"/>
<text x="1239.50" y="1461.50" font-size="15.4">GSE69715_AUC:0.979</text>
<line x1="1203.00" y1="1474.90" x2="1227.90" y2="1474.90" stroke="#8fd47f" stroke-width="1.8"/>
<text x="1239.50" y="1480.30" font-size="15.4">GSE102079_AUC:0.971</text>
<line x1="1203.00" y1="1494.00" x2="1227.90" y2="1494.00" stroke="#e64b35" stroke-width="1.8"/>
<text x="1239.50" y="1499.40" font-size="15.4">GSE76427_AUC:0.953</text>
<text x="4.10" y="1655.70" font-size="41.5">H</text>
<rect x="412.20" y="1656.90" width="82.00" height="31.20" fill="#a6cee3"/>
<rect x="500.85" y="1656.90" width="82.00" height="31.20" fill="#1f78b4"/>
<rect x="589.50" y="1656.90" width="82.00" height="31.20" fill="#b2df8a"/>
<rect x="678.15" y="1656.90" width="82.00" height="31.20" fill="#33a02c"/>
<rect x="766.80" y="1656.90" width="82.00" height="31.20" fill="#fb9a99"/>
<text x="405.60" y="1719.48" font-size="26.5" text-anchor="end">plsRglm</text>
<rect x="412.20" y="1694.60" width="82.00" height="31.17" fill="#ce5b4a" stroke="#000" stroke-width="2.1"/>
<text x="453.70" y="1717.48" font-size="22" text-anchor="middle">0.994</text>
<rect x="500.85" y="1694.60" width="82.00" height="31.17" fill="#ce5a48" stroke="#000" stroke-width="2.1"/>
<text x="542.35" y="1717.48" font-size="22" text-anchor="middle">0.996</text>
<rect x="589.50" y="1694.60" width="82.00" height="31.17" fill="#cc5645" stroke="#000" stroke-width="2.1"/>
<text x="631.00" y="1717.48" font-size="22" text-anchor="middle">1.000</text>
<rect x="678.15" y="1694.60" width="82.00" height="31.17" fill="#d8705f" stroke="#000" stroke-width="2.1"/>
<text x="719.65" y="1717.48" font-size="22" text-anchor="middle">0.970</text>
<rect x="766.80" y="1694.60" width="82.00" height="31.17" fill="#d97462" stroke="#000" stroke-width="2.1"/>
<text x="808.30" y="1717.48" font-size="22" text-anchor="middle">0.966</text>
<rect x="855.20" y="1697.98" width="167.45" height="24.50" fill="#4682b4"/>
<text x="1009.20" y="1716.78" font-size="20" text-anchor="end" fill="#fff">0.985</text>
<text x="405.60" y="1750.65" font-size="26.5" text-anchor="end">Ridge</text>
<rect x="412.20" y="1725.77" width="82.00" height="31.17" fill="#ce5a48" stroke="#000" stroke-width="2.1"/>
<text x="453.70" y="1748.65" font-size="22" text-anchor="middle">0.996</text>
<rect x="500.85" y="1725.77" width="82.00" height="31.17" fill="#ce5a49" stroke="#000" stroke-width="2.1"/>
<text x="542.35" y="1748.65" font-size="22" text-anchor="middle">0.995</text>
<rect x="589.50" y="1725.77" width="82.00" height="31.17" fill="#cd5847" stroke="#000" stroke-width="2.1"/>
<text x="631.00" y="1748.65" font-size="22" text-anchor="middle">0.998</text>
<rect x="678.15" y="1725.77" width="82.00" height="31.17" fill="#d87260" stroke="#000" stroke-width="2.1"/>
<text x="719.65" y="1748.65" font-size="22" text-anchor="middle">0.968</text>
<rect x="766.80" y="1725.77" width="82.00" height="31.17" fill="#db7866" stroke="#000" stroke-width="2.1"/>
<text x="808.30" y="1748.65" font-size="22" text-anchor="middle">0.961</text>
<rect x="855.20" y="1729.15" width="167.28" height="24.50" fill="#4682b4"/>
<text x="1009.20" y="1747.95" font-size="20" text-anchor="end" fill="#fff">0.984</text>
<text x="405.60" y="1781.82" font-size="26.5" text-anchor="end">RF+NaiveBayes</text>
<rect x="412.20" y="1756.94" width="82.00" height="31.17" fill="#cf5c4b" stroke="#000" stroke-width="2.1"/>
<text x="453.70" y="1779.82" font-size="22" text-anchor="middle">0.993</text>
<rect x="500.85" y="1756.94" width="82.00" height="31.17" fill="#d05e4d" stroke="#000" stroke-width="2.1"/>
<text x="542.35" y="1779.82" font-size="22" text-anchor="middle">0.991</text>
<rect x="589.50" y="1756.94" width="82.00" height="31.17" fill="#cc5746" stroke="#000" stroke-width="2.1"/>
<text x="631.00" y="1779.82" font-size="22" text-anchor="middle">0.999</text>
<rect x="678.15" y="1756.94" width="82.00" height="31.17" fill="#d97462" stroke="#000" stroke-width="2.1"/>
<text x="719.65" y="1779.82" font-size="22" text-anchor="middle">0.966</text>
<rect x="766.80" y="1756.94" width="82.00" height="31.17" fill="#da7564" stroke="#000" stroke-width="2.1"/>
<text x="808.30" y="1779.82" font-size="22" text-anchor="middle">0.964</text>
<rect x="855.20" y="1760.32" width="167.11" height="24.50" fill="#4682b4"/>
<text x="1009.20" y="1779.12" font-size="20" text-anchor="end" fill="#fff">0.983</text>
<text x="405.60" y="1812.99" font-size="26.5" text-anchor="end">RF+Ridge</text>
<rect x="412.20" y="1788.11" width="82.00" height="31.17" fill="#ce5a49" stroke="#000" stroke-width="2.1"/>
<text x="453.70" y="1810.99" font-size="22" text-anchor="middle">0.995</text>
<rect x="500.85" y="1788.11" width="82.00" height="31.17" fill="#ce5a49" stroke="#000" stroke-width="2.1"/>
<text x="542.35" y="1810.99" font-size="22" text-anchor="middle">0.995</text>
<rect x="589.50" y="1788.11" width="82.00" height="31.17" fill="#ce5a48" stroke="#000" stroke-width="2.1"/>
<text x="631.00" y="1810.99" font-size="22" text-anchor="middle">0.996</text>
<rect x="678.15" y="1788.11" width="82.00" height="31.17" fill="#da7463" stroke="#000" stroke-width="2.1"/>
<text x="719.65" y="1810.99" font-size="22" text-anchor="middle">0.965</text>
<rect x="766.80" y="1788.11" width="82.00" height="31.17" fill="#db7765" stroke="#000" stroke-width="2.1"/>
<text x="808.30" y="1810.99" font-size="22" text-anchor="middle">0.962</text>
<rect x="855.20" y="1791.49" width="166.94" height="24.50" fill="#4682b4"/>
<text x="1009.20" y="1810.29" font-size="20" text-anchor="end" fill="#fff">0.982</text>
<text x="405.60" y="1844.16" font-size="26.5" text-anchor="end">Stepglm[both]+LDA</text>
<rect x="412.20" y="1819.28" width="82.00" height="31.17" fill="#cd5948" stroke="#000" stroke-width="2.1"/>
<text x="453.70" y="1842.16" font-size="22" text-anchor="middle">0.997</text>
<rect x="500.85" y="1819.28" width="82.00" height="31.17" fill="#cf5d4c" stroke="#000" stroke-width="2.1"/>
<text x="542.35" y="1842.16" font-size="22" text-anchor="middle">0.992</text>
<rect x="589.50" y="1819.28" width="82.00" height="31.17" fill="#cf5c4b" stroke="#000" stroke-width="2.1"/>
<text x="631.00" y="1842.16" font-size="22" text-anchor="middle">0.993</text>
<rect x="678.15" y="1819.28" width="82.00" height="31.17" fill="#d87260" stroke="#000" stroke-width="2.1"/>
<text x="719.65" y="1842.16" font-size="22" text-anchor="middle">0.968</text>
<rect x="766.80" y="1819.28" width="82.00" height="31.17" fill="#dc7b6a" stroke="#000" stroke-width="2.1"/>
<text x="808.30" y="1842.16" font-size="22" text-anchor="middle">0.957</text>
<rect x="855.20" y="1822.66" width="166.77" height="24.50" fill="#4682b4"/>
<text x="1009.20" y="1841.46" font-size="20" text-anchor="end" fill="#fff">0.981</text>
<text x="405.60" y="1875.33" font-size="26.5" text-anchor="end">Stepglm[backward]+LDA</text>
<rect x="412.20" y="1850.45" width="82.00" height="31.17" fill="#cd5948" stroke="#000" stroke-width="2.1"/>
<text x="453.70" y="1873.33" font-size="22" text-anchor="middle">0.997</text>
<rect x="500.85" y="1850.45" width="82.00" height="31.17" fill="#cf5d4c" stroke="#000" stroke-width="2.1"/>
<text x="542.35" y="1873.33" font-size="22" text-anchor="middle">0.992</text>
<rect x="589.50" y="1850.45" width="82.00" height="31.17" fill="#cf5c4b" stroke="#000" stroke-width="2.1"/>
<text x="631.00" y="1873.33" font-size="22" text-anchor="middle">0.993</text>
<rect x="678.15" y="1850.45" width="82.00" height="31.17" fill="#d87260" stroke="#000" stroke-width="2.1"/>
<text x="719.65" y="1873.33" font-size="22" text-anchor="middle">0.968</text>
<rect x="766.80" y="1850.45" width="82.00" height="31.17" fill="#dc7b6a" stroke="#000" stroke-width="2.1"/>
<text x="808.30" y="1873.33" font-size="22" text-anchor="middle">0.957</text>
<rect x="855.20" y="1853.83" width="166.77" height="24.50" fill="#4682b4"/>
<text x="1009.20" y="1872.63" font-size="20" text-anchor="end" fill="#fff">0.981</text>
<text x="405.60" y="1906.50" font-size="26.5" text-anchor="end">RF+plsRglm</text>
<rect x="412.20" y="1881.62" width="82.00" height="31.17" fill="#ce5a49" stroke="#000" stroke-width="2.1"/>
<text x="453.70" y="1904.50" font-size="22" text-anchor="middle">0.995</text>
<rect x="500.85" y="1881.62" width="82.00" height="31.17" fill="#cf5c4b" stroke="#000" stroke-width="2.1"/>
<text x="542.35" y="1904.50" font-size="22" text-anchor="middle">0.993</text>
<rect x="589.50" y="1881.62" width="82.00" height="31.17" fill="#d05f4d" stroke="#000" stroke-width="2.1"/>
<text x="631.00" y="1904.50" font-size="22" text-anchor="middle">0.990</text>
<rect x="678.15" y="1881.62" width="82.00" height="31.17" fill="#db7866" stroke="#000" stroke-width="2.1"/>
<text x="719.65" y="1904.50" font-size="22" text-anchor="middle">0.961</text>
<rect x="766.80" y="1881.62" width="82.00" height="31.17" fill="#db7765" stroke="#000" stroke-width="2.1"/>
<text x="808.30" y="1904.50" font-size="22" text-anchor="middle">0.962</text>
<rect x="855.20" y="1885.00" width="166.60" height="24.50" fill="#4682b4"/>
<text x="1009.20" y="1903.80" font-size="20" text-anchor="end" fill="#fff">0.98</text>
<text x="405.60" y="1937.67" font-size="26.5" text-anchor="end">Stepglm[both]+Ridge</text>
<rect x="412.20" y="1912.79" width="82.00" height="31.17" fill="#ce5a49" stroke="#000" stroke-width="2.1"/>
<text x="453.70" y="1935.67" font-size="22" text-anchor="middle">0.995</text>
<rect x="500.85" y="1912.79" width="82.00" height="31.17" fill="#d0604e" stroke="#000" stroke-width="2.1"/>
<text x="542.35" y="1935.67" font-size="22" text-anchor="middle">0.989</text>
<rect x="589.50" y="1912.79" width="82.00" height="31.17" fill="#cf5d4c" stroke="#000" stroke-width="2.1"/>
<text x="631.00" y="1935.67" font-size="22" text-anchor="middle">0.992</text>
<rect x="678.15" y="1912.79" width="82.00" height="31.17" fill="#da7564" stroke="#000" stroke-width="2.1"/>
<text x="719.65" y="1935.67" font-size="22" text-anchor="middle">0.964</text>
<rect x="766.80" y="1912.79" width="82.00" height="31.17" fill="#db7967" stroke="#000" stroke-width="2.1"/>
<text x="808.30" y="1935.67" font-size="22" text-anchor="middle">0.960</text>
<rect x="855.20" y="1916.17" width="166.60" height="24.50" fill="#4682b4"/>
<text x="1009.20" y="1934.97" font-size="20" text-anchor="end" fill="#fff">0.98</text>
<text x="405.60" y="1968.85" font-size="26.5" text-anchor="end">Stepglm[backward]+Ridge</text>
<rect x="412.20" y="1943.96" width="82.00" height="31.17" fill="#ce5a49" stroke="#000" stroke-width="2.1"/>
<text x="453.70" y="1966.85" font-size="22" text-anchor="middle">0.995</text>
<rect x="500.85" y="1943.96" width="82.00" height="31.17" fill="#d0604e" stroke="#000" stroke-width="2.1"/>
<text x="542.35" y="1966.85" font-size="22" text-anchor="middle">0.989</text>
<rect x="589.50" y="1943.96" width="82.00" height="31.17" fill="#cf5d4c" stroke="#000" stroke-width="2.1"/>
<text x="631.00" y="1966.85" font-size="22" text-anchor="middle">0.992</text>
<rect x="678.15" y="1943.96" width="82.00" height="31.17" fill="#da7564" stroke="#000" stroke-width="2.1"/>
<text x="719.65" y="1966.85" font-size="22" text-anchor="middle">0.964</text>
<rect x="766.80" y="1943.96" width="82.00" height="31.17" fill="#db7967" stroke="#000" stroke-width="2.1"/>
<text x="808.30" y="1966.85" font-size="22" text-anchor="middle">0.960</text>
<rect x="855.20" y="1947.35" width="166.60" height="24.50" fill="#4682b4"/>
<text x="1009.20" y="1966.14" font-size="20" text-anchor="end" fill="#fff">0.98</text>
<text x="405.60" y="2000.01" font-size="26.5" text-anchor="end">Enet[alpha=0.1]</text>
<rect x="412.20" y="1975.13" width="82.00" height="31.17" fill="#ce5a48" stroke="#000" stroke-width="2.1"/>
<text x="453.70" y="1998.01" font-size="22" text-anchor="middle">0.996</text>
<rect x="500.85" y="1975.13" width="82.00" height="31.17" fill="#ce5a48" stroke="#000" stroke-width="2.1"/>
<text x="542.35" y="1998.01" font-size="22" text-anchor="middle">0.996</text>
<rect x="589.50" y="1975.13" width="82.00" height="31.17" fill="#d26452" stroke="#000" stroke-width="2.1"/>
<text x="631.00" y="1998.01" font-size="22" text-anchor="middle">0.984</text>
<rect x="678.15" y="1975.13" width="82.00" height="31.17" fill="#da7564" stroke="#000" stroke-width="2.1"/>
<text x="719.65" y="1998.01" font-size="22" text-anchor="middle">0.964</text>
<rect x="766.80" y="1975.13" width="82.00" height="31.17" fill="#db7967" stroke="#000" stroke-width="2.1"/>
<text x="808.30" y="1998.01" font-size="22" text-anchor="middle">0.960</text>
<rect x="855.20" y="1978.51" width="166.60" height="24.50" fill="#4682b4"/>
<text x="1009.20" y="1997.31" font-size="20" text-anchor="end" fill="#fff">0.98</text>
<text x="405.60" y="2031.18" font-size="26.5" text-anchor="end">Lasso+plsRglm</text>
<rect x="412.20" y="2006.30" width="82.00" height="31.17" fill="#ce5a49" stroke="#000" stroke-width="2.1"/>
<text x="453.70" y="2029.18" font-size="22" text-anchor="middle">0.995</text>
<rect x="500.85" y="2006.30" width="82.00" height="31.17" fill="#ce5b4a" stroke="#000" stroke-width="2.1"/>
<text x="542.35" y="2029.18" font-size="22" text-anchor="middle">0.994</text>
<rect x="589.50" y="2006.30" width="82.00" height="31.17" fill="#d36654" stroke="#000" stroke-width="2.1"/>
<text x="631.00" y="2029.18" font-size="22" text-anchor="middle">0.982</text>
<rect x="678.15" y="2006.30" width="82.00" height="31.17" fill="#db7765" stroke="#000" stroke-width="2.1"/>
<text x="719.65" y="2029.18" font-size="22" text-anchor="middle">0.962</text>
<rect x="766.80" y="2006.30" width="82.00" height="31.17" fill="#db7866" stroke="#000" stroke-width="2.1"/>
<text x="808.30" y="2029.18" font-size="22" text-anchor="middle">0.961</text>
<rect x="855.20" y="2009.68" width="166.43" height="24.50" fill="#4682b4"/>
<text x="1009.20" y="2028.48" font-size="20" text-anchor="end" fill="#fff">0.979</text>
<text x="405.60" y="2062.36" font-size="26.5" text-anchor="end">Enet[alpha=0.2]</text>
<rect x="412.20" y="2037.47" width="82.00" height="31.17" fill="#cd5948" stroke="#000" stroke-width="2.1"/>
<text x="453.70" y="2060.36" font-size="22" text-anchor="middle">0.997</text>
<rect x="500.85" y="2037.47" width="82.00" height="31.17" fill="#ce5a48" stroke="#000" stroke-width="2.1"/>
<text x="542.35" y="2060.36" font-size="22" text-anchor="middle">0.996</text>
<rect x="589.50" y="2037.47" width="82.00" height="31.17" fill="#d56958" stroke="#000" stroke-width="2.1"/>
<text x="631.00" y="2060.36" font-size="22" text-anchor="middle">0.978</text>
<rect x="678.15" y="2037.47" width="82.00" height="31.17" fill="#da7665" stroke="#000" stroke-width="2.1"/>
<text x="719.65" y="2060.36" font-size="22" text-anchor="middle">0.963</text>
<rect x="766.80" y="2037.47" width="82.00" height="31.17" fill="#db7866" stroke="#000" stroke-width="2.1"/>
<text x="808.30" y="2060.36" font-size="22" text-anchor="middle">0.961</text>
<rect x="855.20" y="2040.85" width="166.43" height="24.50" fill="#4682b4"/>
<text x="1009.20" y="2059.65" font-size="20" text-anchor="end" fill="#fff">0.979</text>
<text x="405.60" y="2093.53" font-size="26.5" text-anchor="end">RF+Enet[alpha=0.1]</text>
<rect x="412.20" y="2068.64" width="82.00" height="31.17" fill="#ce5a48" stroke="#000" stroke-width="2.1"/>
<text x="453.70" y="2091.53" font-size="22" text-anchor="middle">0.996</text>
<rect x="500.85" y="2068.64" width="82.00" height="31.17" fill="#ce5a49" stroke="#000" stroke-width="2.1"/>
<text x="542.35" y="2091.53" font-size="22" text-anchor="middle">0.995</text>
<rect x="589.50" y="2068.64" width="82.00" height="31.17" fill="#d26251" stroke="#000" stroke-width="2.1"/>
<text x="631.00" y="2091.53" font-size="22" text-anchor="middle">0.986</text>
<rect x="678.15" y="2068.64" width="82.00" height="31.17" fill="#dc7b6a" stroke="#000" stroke-width="2.1"/>
<text x="719.65" y="2091.53" font-size="22" text-anchor="middle">0.957</text>
<rect x="766.80" y="2068.64" width="82.00" height="31.17" fill="#db7866" stroke="#000" stroke-width="2.1"/>
<text x="808.30" y="2091.53" font-size="22" text-anchor="middle">0.961</text>
<rect x="855.20" y="2072.03" width="166.43" height="24.50" fill="#4682b4"/>
<text x="1009.20" y="2090.82" font-size="20" text-anchor="end" fill="#fff">0.979</text>
<text x="405.60" y="2124.70" font-size="26.5" text-anchor="end">RF+Enet[alpha=0.2]</text>
<rect x="412.20" y="2099.81" width="82.00" height="31.17" fill="#ce5a48" stroke="#000" stroke-width="2.1"/>
<text x="453.70" y="2122.70" font-size="22" text-anchor="middle">0.996</text>
<rect x="500.85" y="2099.81" width="82.00" height="31.17" fill="#ce5a49" stroke="#000" stroke-width="2.1"/>
<text x="542.35" y="2122.70" font-size="22" text-anchor="middle">0.995</text>
<rect x="589.50" y="2099.81" width="82.00" height="31.17" fill="#d26452" stroke="#000" stroke-width="2.1"/>
<text x="631.00" y="2122.70" font-size="22" text-anchor="middle">0.984</text>
<rect x="678.15" y="2099.81" width="82.00" height="31.17" fill="#dc7b6a" stroke="#000" stroke-width="2.1"/>
<text x="719.65" y="2122.70" font-size="22" text-anchor="middle">0.957</text>
<rect x="766.80" y="2099.81" width="82.00" height="31.17" fill="#db7967" stroke="#000" stroke-width="2.1"/>
<text x="808.30" y="2122.70" font-size="22" text-anchor="middle">0.960</text>
<rect x="855.20" y="2103.20" width="166.26" height="24.50" fill="#4682b4"/>
<text x="1009.20" y="2121.99" font-size="20" text-anchor="end" fill="#fff">0.978</text>
<text x="405.60" y="2155.87" font-size="26.5" text-anchor="end">Enet[alpha=0.3]</text>
<rect x="412.20" y="2130.98" width="82.00" height="31.17" fill="#ce5a48" stroke="#000" stroke-width="2.1"/>
<text x="453.70" y="2153.87" font-size="22" text-anchor="middle">0.996</text>
<rect x="500.85" y="2130.98" width="82.00" height="31.17" fill="#ce5a48" stroke="#000" stroke-width="2.1"/>
<text x="542.35" y="2153.87" font-size="22" text-anchor="middle">0.996</text>
<rect x="589.50" y="2130.98" width="82.00" height="31.17" fill="#d56a58" stroke="#000" stroke-width="2.1"/>
<text x="631.00" y="2153.87" font-size="22" text-anchor="middle">0.977</text>
<rect x="678.15" y="2130.98" width="82.00" height="31.17" fill="#db7765" stroke="#000" stroke-width="2.1"/>
<text x="719.65" y="2153.87" font-size="22" text-anchor="middle">0.962</text>
<rect x="766.80" y="2130.98" width="82.00" height="31.17" fill="#db7866" stroke="#000" stroke-width="2.1"/>
<text x="808.30" y="2153.87" font-size="22" text-anchor="middle">0.961</text>
<rect x="855.20" y="2134.37" width="166.26" height="24.50" fill="#4682b4"/>
<text x="1009.20" y="2153.16" font-size="20" text-anchor="end" fill="#fff">0.978</text>
<text x="405.60" y="2187.04" font-size="26.5" text-anchor="end">Lasso+NaiveBayes</text>
<rect x="412.20" y="2162.15" width="82.00" height="31.17" fill="#ce5a49" stroke="#000" stroke-width="2.1"/>
<text x="453.70" y="2185.04" font-size="22" text-anchor="middle">0.995</text>
<rect x="500.85" y="2162.15" width="82.00" height="31.17" fill="#cf5c4b" stroke="#000" stroke-width="2.1"/>
<text x="542.35" y="2185.04" font-size="22" text-anchor="middle">0.993</text>
<rect x="589.50" y="2162.15" width="82.00" height="31.17" fill="#d46957" stroke="#000" stroke-width="2.1"/>
<text x="631.00" y="2185.04" font-size="22" text-anchor="middle">0.979</text>
<rect x="678.15" y="2162.15" width="82.00" height="31.17" fill="#db7765" stroke="#000" stroke-width="2.1"/>
<text x="719.65" y="2185.04" font-size="22" text-anchor="middle">0.962</text>
<rect x="766.80" y="2162.15" width="82.00" height="31.17" fill="#db7866" stroke="#000" stroke-width="2.1"/>
<text x="808.30" y="2185.04" font-size="22" text-anchor="middle">0.961</text>
<rect x="855.20" y="2165.54" width="166.26" height="24.50" fill="#4682b4"/>
<text x="1009.20" y="2184.34" font-size="20" text-anchor="end" fill="#fff">0.978</text>
<text x="405.60" y="2218.20" font-size="26.5" text-anchor="end">RF+Enet[alpha=0.3]</text>
<rect x="412.20" y="2193.32" width="82.00" height="31.17" fill="#ce5a48" stroke="#000" stroke-width="2.1"/>
<text x="453.70" y="2216.20" font-size="22" text-anchor="middle">0.996</text>
<rect x="500.85" y="2193.32" width="82.00" height="31.17" fill="#ce5a49" stroke="#000" stroke-width="2.1"/>
<text x="542.35" y="2216.20" font-size="22" text-anchor="middle">0.995</text>
<rect x="589.50" y="2193.32" width="82.00" height="31.17" fill="#d46856" stroke="#000" stroke-width="2.1"/>
<text x="631.00" y="2216.20" font-size="22" text-anchor="middle">0.980</text>
<rect x="678.15" y="2193.32" width="82.00" height="31.17" fill="#dc7b6a" stroke="#000" stroke-width="2.1"/>
<text x="719.65" y="2216.20" font-size="22" text-anchor="middle">0.957</text>
<rect x="766.80" y="2193.32" width="82.00" height="31.17" fill="#db7967" stroke="#000" stroke-width="2.1"/>
<text x="808.30" y="2216.20" font-size="22" text-anchor="middle">0.960</text>
<rect x="855.20" y="2196.70" width="166.26" height="24.50" fill="#4682b4"/>
<text x="1009.20" y="2215.50" font-size="20" text-anchor="end" fill="#fff">0.978</text>
<text x="405.60" y="2249.38" font-size="26.5" text-anchor="end">RF+Enet[alpha=0.4]</text>
<rect x="412.20" y="2224.49" width="82.00" height="31.17" fill="#ce5a48" stroke="#000" stroke-width="2.1"/>
<text x="453.70" y="2247.38" font-size="22" text-anchor="middle">0.996</text>
<rect x="500.85" y="2224.49" width="82.00" height="31.17" fill="#ce5a48" stroke="#000" stroke-width="2.1"/>
<text x="542.35" y="2247.38" font-size="22" text-anchor="middle">0.996</text>
<rect x="589.50" y="2224.49" width="82.00" height="31.17" fill="#d56a58" stroke="#000" stroke-width="2.1"/>
<text x="631.00" y="2247.38" font-size="22" text-anchor="middle">0.977</text>
<rect x="678.15" y="2224.49" width="82.00" height="31.17" fill="#dc7b6a" stroke="#000" stroke-width="2.1"/>
<text x="719.65" y="2247.38" font-size="22" text-anchor="middle">0.957</text>
<rect x="766.80" y="2224.49" width="82.00" height="31.17" fill="#db7967" stroke="#000" stroke-width="2.1"/>
<text x="808.30" y="2247.38" font-size="22" text-anchor="middle">0.960</text>
<rect x="855.20" y="2227.88" width="166.09" height="24.50" fill="#4682b4"/>
<text x="1009.20" y="2246.67" font-size="20" text-anchor="end" fill="#fff">0.977</text>
<text x="405.60" y="2280.55" font-size="26.5" text-anchor="end">Stepglm[both]+plsRglm</text>
<rect x="412.20" y="2255.66" width="82.00" height="31.17" fill="#ce5a49" stroke="#000" stroke-width="2.1"/>
<text x="453.70" y="2278.55" font-size="22" text-anchor="middle">0.995</text>
<rect x="500.85" y="2255.66" width="82.00" height="31.17" fill="#ce5a49" stroke="#000" stroke-width="2.1"/>
<text x="542.35" y="2278.55" font-size="22" text-anchor="middle">0.995</text>
<rect x="589.50" y="2255.66" width="82.00" height="31.17" fill="#cf5d4c" stroke="#000" stroke-width="2.1"/>
<text x="631.00" y="2278.55" font-size="22" text-anchor="middle">0.992</text>
<rect x="678.15" y="2255.66" width="82.00" height="31.17" fill="#dc7b6a" stroke="#000" stroke-width="2.1"/>
<text x="719.65" y="2278.55" font-size="22" text-anchor="middle">0.957</text>
<rect x="766.80" y="2255.66" width="82.00" height="31.17" fill="#e18675" stroke="#000" stroke-width="2.1"/>
<text x="808.30" y="2278.55" font-size="22" text-anchor="middle">0.944</text>
<rect x="855.20" y="2259.05" width="166.09" height="24.50" fill="#4682b4"/>
<text x="1009.20" y="2277.84" font-size="20" text-anchor="end" fill="#fff">0.977</text>
<text x="405.60" y="2311.72" font-size="26.5" text-anchor="end">Stepglm[backward]+plsRglm</text>
<rect x="412.20" y="2286.83" width="82.00" height="31.17" fill="#ce5a49" stroke="#000" stroke-width="2.1"/>
<text x="453.70" y="2309.72" font-size="22" text-anchor="middle">0.995</text>
<rect x="500.85" y="2286.83" width="82.00" height="31.17" fill="#ce5a49" stroke="#000" stroke-width="2.1"/>
<text x="542.35" y="2309.72" font-size="22" text-anchor="middle">0.995</text>
<rect x="589.50" y="2286.83" width="82.00" height="31.17" fill="#cf5d4c" stroke="#000" stroke-width="2.1"/>
<text x="631.00" y="2309.72" font-size="22" text-anchor="middle">0.992</text>
<rect x="678.15" y="2286.83" width="82.00" height="31.17" fill="#dc7b6a" stroke="#000" stroke-width="2.1"/>
<text x="719.65" y="2309.72" font-size="22" text-anchor="middle">0.957</text>
<rect x="766.80" y="2286.83" width="82.00" height="31.17" fill="#e18675" stroke="#000" stroke-width="2.1"/>
<text x="808.30" y="2309.72" font-size="22" text-anchor="middle">0.944</text>
<rect x="855.20" y="2290.22" width="166.09" height="24.50" fill="#4682b4"/>
<text x="1009.20" y="2309.01" font-size="20" text-anchor="end" fill="#fff">0.977</text>
<line x1="855.30" y1="2323.30" x2="1028.30" y2="2323.30" stroke="#000" stroke-width="2.2"/>
<line x1="855.30" y1="2322.20" x2="855.30" y2="2333.00" stroke="#000" stroke-width="2.2"/>
<text x="855.30" y="2359.50" font-size="26" text-anchor="middle">0</text>
<line x1="941.50" y1="2322.20" x2="941.50" y2="2333.00" stroke="#000" stroke-width="2.2"/>
<text x="941.50" y="2359.50" font-size="26" text-anchor="middle">0.5</text>
<line x1="1027.70" y1="2322.20" x2="1027.70" y2="2333.00" stroke="#000" stroke-width="2.2"/>
<text x="1027.70" y="2359.50" font-size="26" text-anchor="middle">1</text>
<text x="1119.50" y="1942.50" font-size="24" font-weight="bold">AUC</text>
<text x="1201.20" y="1942.50" font-size="24" font-weight="bold">Cohort</text>
<defs><linearGradient id="cbH" x1="0" y1="0" x2="0" y2="1"><stop offset="0.000" stop-color="#cc5645"/><stop offset="0.050" stop-color="#ce5948"/><stop offset="0.100" stop-color="#d66c5b"/><stop offset="0.150" stop-color="#de7f6e"/><stop offset="0.200" stop-color="#e59181"/><stop offset="0.250" stop-color="#eba395"/><stop offset="0.300" stop-color="#f1b6aa"/><stop offset="0.350" stop-color="#f6c8be"/><stop offset="0.400" stop-color="#fadad4"/><stop offset="0.450" stop-color="#fdece9"/><stop offset="0.500" stop-color="#ffffff"/><stop offset="0.550" stop-color="#e4edf6"/><stop offset="0.600" stop-color="#cadcec"/><stop offset="0.650" stop-color="#afcbe3"/><stop offset="0.700" stop-color="#93bada"/><stop offset="0.750" stop-color="#75aad0"/><stop offset="0.800" stop-color="#549ac7"/><stop offset="0.850" stop-color="#4393c3"/><stop offset="0.900" stop-color="#4393c3"/><stop offset="0.950" stop-color="#4393c3"/><stop offset="1.000" stop-color="#4393c3"/></linearGradient></defs>
<rect x="1119.10" y="1955.50" width="29.80" height="146.50" fill="url(#cbH)" rx="1.5"/>
<line x1="1119.10" y1="1961.30" x2="1125.00" y2="1961.30" stroke="#fff" stroke-width="1.5"/>
<line x1="1143.00" y1="1961.30" x2="1148.90" y2="1961.30" stroke="#fff" stroke-width="1.5"/>
<text x="1154.50" y="1968.90" font-size="21.5">1</text>
<line x1="1119.10" y1="1995.30" x2="1125.00" y2="1995.30" stroke="#fff" stroke-width="1.5"/>
<line x1="1143.00" y1="1995.30" x2="1148.90" y2="1995.30" stroke="#fff" stroke-width="1.5"/>
<text x="1154.50" y="2002.90" font-size="21.5">0.9</text>
<line x1="1119.10" y1="2028.50" x2="1125.00" y2="2028.50" stroke="#fff" stroke-width="1.5"/>
<line x1="1143.00" y1="2028.50" x2="1148.90" y2="2028.50" stroke="#fff" stroke-width="1.5"/>
<text x="1154.50" y="2036.10" font-size="21.5">0.8</text>
<line x1="1119.10" y1="2062.00" x2="1125.00" y2="2062.00" stroke="#fff" stroke-width="1.5"/>
<line x1="1143.00" y1="2062.00" x2="1148.90" y2="2062.00" stroke="#fff" stroke-width="1.5"/>
<text x="1154.50" y="2069.60" font-size="21.5">0.7</text>
<line x1="1119.10" y1="2095.40" x2="1125.00" y2="2095.40" stroke="#fff" stroke-width="1.5"/>
<line x1="1143.00" y1="2095.40" x2="1148.90" y2="2095.40" stroke="#fff" stroke-width="1.5"/>
<text x="1154.50" y="2103.00" font-size="21.5">0.6</text>
<rect x="1203.00" y="1958.20" width="24.00" height="23.80" fill="#33a02c"/>
<text x="1235.30" y="1979.20" font-size="24">GSE102079</text>
<rect x="1203.00" y="1985.60" width="24.00" height="23.80" fill="#b2df8a"/>
<text x="1235.30" y="2006.70" font-size="24">GSE69715</text>
<rect x="1203.00" y="2012.90" width="24.00" height="23.80" fill="#fb9a99"/>
<text x="1235.30" y="2033.60" font-size="24">GSE76427</text>
<rect x="1203.00" y="2040.30" width="24.00" height="23.80" fill="#a6cee3"/>
<text x="1235.30" y="2060.60" font-size="24">Training</text>
<rect x="1203.00" y="2067.40" width="24.00" height="23.80" fill="#1f78b4"/>
<text x="1235.30" y="2087.50" font-size="24">Validation</text>
</svg></body></html>
